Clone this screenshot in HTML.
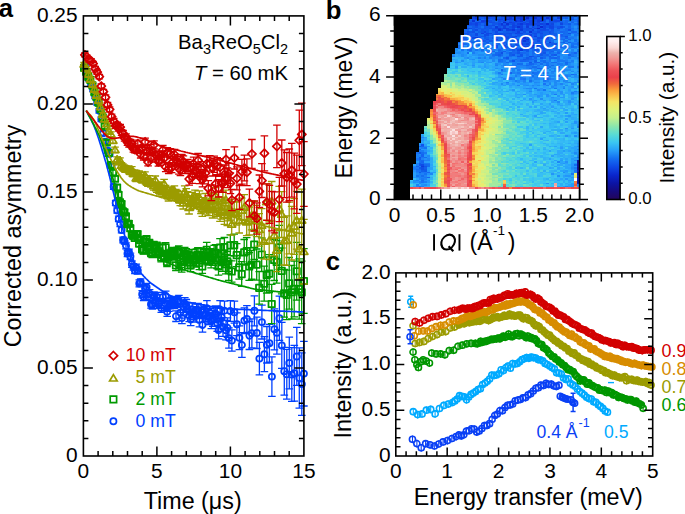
<!DOCTYPE html>
<html><head><meta charset="utf-8"><title>figure</title>
<style>html,body{margin:0;padding:0;background:#fff;width:685px;height:514px;overflow:hidden}
svg text{font-family:"Liberation Sans",sans-serif}</style></head>
<body>
<svg width="685" height="514" viewBox="0 0 685 514" style="display:block;font-family:'Liberation Sans', sans-serif">
<rect width="685" height="514" fill="#fff"/>
<rect x="394.5" y="15.7" width="16" height="183.8" fill="#000"/>
<g transform="translate(410.1,15.7) scale(2.82500,1.53167)" shape-rendering="crispEdges">
<path fill="#000000" d="M0 0h22v1h-22zM0 1h22v1h-22zM0 2h21v1h-21zM0 3h21v1h-21zM0 4h21v1h-21zM0 5h21v1h-21zM0 6h20v1h-20zM0 7h20v1h-20zM0 8h20v1h-20zM0 9h19v1h-19zM0 10h19v1h-19zM0 11h19v1h-19zM0 12h19v1h-19zM0 13h18v1h-18zM0 14h18v1h-18zM0 15h18v1h-18zM0 16h18v1h-18zM0 17h17v1h-17zM0 18h17v1h-17zM0 19h17v1h-17zM0 20h17v1h-17zM0 21h16v1h-16zM0 22h16v1h-16zM0 23h16v1h-16zM0 24h16v1h-16zM0 25h15v1h-15zM0 26h15v1h-15zM0 27h15v1h-15zM0 28h15v1h-15zM0 29h15v1h-15zM0 30h14v1h-14zM0 31h14v1h-14zM0 32h14v1h-14zM0 33h14v1h-14zM0 34h13v1h-13zM0 35h13v1h-13zM0 36h13v1h-13zM0 37h13v1h-13zM0 38h12v1h-12zM0 39h12v1h-12zM0 40h12v1h-12zM0 41h12v1h-12zM0 42h12v1h-12zM0 43h11v1h-11zM0 44h11v1h-11zM0 45h11v1h-11zM0 46h11v1h-11zM0 47h10v1h-10zM0 48h10v1h-10zM0 49h10v1h-10zM0 50h10v1h-10zM0 51h9v1h-9zM0 52h9v1h-9zM0 53h9v1h-9zM0 54h9v1h-9zM0 55h9v1h-9zM0 56h8v1h-8zM0 57h8v1h-8zM0 58h8v1h-8zM0 59h8v1h-8zM0 60h8v1h-8zM0 61h7v1h-7zM0 62h7v1h-7zM0 63h7v1h-7zM0 64h7v1h-7zM0 65h7v1h-7zM0 66h7v1h-7zM0 67h6v1h-6zM0 68h6v1h-6zM0 69h6v1h-6zM0 70h6v1h-6zM0 71h6v1h-6zM0 72h5v1h-5zM0 73h5v1h-5zM0 74h5v1h-5zM0 75h5v1h-5zM0 76h5v1h-5zM0 77h4v1h-4zM0 78h4v1h-4zM0 79h4v1h-4zM0 80h4v1h-4zM0 81h4v1h-4zM0 82h4v1h-4zM0 83h3v1h-3zM0 84h3v1h-3zM0 85h3v1h-3zM0 86h3v1h-3zM0 87h3v1h-3zM0 88h3v1h-3zM0 89h2v1h-2zM0 90h2v1h-2zM0 91h2v1h-2zM0 92h2v1h-2zM0 93h2v1h-2zM0 94h2v1h-2zM0 95h2v1h-2zM0 96h2v1h-2zM0 97h1v1h-1zM0 98h1v1h-1zM0 99h1v1h-1zM0 100h1v1h-1zM0 101h1v1h-1zM0 102h1v1h-1zM0 103h1v1h-1zM0 104h1v1h-1zM0 105h1v1h-1zM0 106h1v1h-1z"/>
<path fill="#146ef0" d="M22 0h1v1h-1zM58 2h2v1h-2zM30 3h1v1h-1zM48 3h1v1h-1zM54 3h1v1h-1zM56 3h2v1h-2zM48 4h1v1h-1zM59 4h1v1h-1zM52 5h1v1h-1zM58 5h1v1h-1zM59 8h1v1h-1zM51 9h1v1h-1zM23 10h1v1h-1zM28 10h1v1h-1zM51 10h1v1h-1zM55 10h1v1h-1zM55 11h1v1h-1zM59 11h1v1h-1zM19 12h1v1h-1zM25 12h1v1h-1zM54 12h2v1h-2zM19 13h1v1h-1zM51 13h1v1h-1zM49 14h1v1h-1zM51 14h1v1h-1zM29 15h1v1h-1zM31 15h1v1h-1zM53 15h1v1h-1zM21 16h2v1h-2zM43 16h1v1h-1zM50 16h1v1h-1zM54 16h1v1h-1zM18 17h1v1h-1zM20 17h1v1h-1zM26 17h1v1h-1zM31 17h1v1h-1zM53 17h1v1h-1zM21 18h1v1h-1zM30 18h1v1h-1zM36 18h1v1h-1zM59 18h1v1h-1zM57 19h1v1h-1zM17 20h1v1h-1zM21 21h1v1h-1zM34 21h1v1h-1zM20 22h1v1h-1zM25 22h1v1h-1zM46 22h1v1h-1zM50 22h2v1h-2zM28 23h1v1h-1zM31 23h2v1h-2zM37 23h1v1h-1zM44 23h2v1h-2zM52 23h3v1h-3zM41 24h1v1h-1zM45 24h1v1h-1zM29 25h1v1h-1zM38 25h1v1h-1zM43 25h1v1h-1zM45 25h1v1h-1zM31 26h1v1h-1zM35 26h1v1h-1zM47 26h1v1h-1zM40 27h1v1h-1zM52 27h1v1h-1zM31 28h2v1h-2zM34 28h1v1h-1zM31 29h1v1h-1zM35 29h1v1h-1zM47 29h1v1h-1zM34 30h1v1h-1zM50 30h2v1h-2zM39 31h1v1h-1zM46 31h1v1h-1zM55 31h1v1h-1zM50 32h1v1h-1zM43 33h2v1h-2zM42 34h1v1h-1zM39 36h1v1h-1zM43 39h1v1h-1zM47 39h1v1h-1zM42 42h1v1h-1zM2 89h1v1h-1zM4 89h1v1h-1zM5 92h1v1h-1zM3 94h1v1h-1zM3 95h1v1h-1zM6 97h1v1h-1zM58 97h1v1h-1zM6 98h1v1h-1zM4 104h1v1h-1zM4 107h1v1h-1z"/>
<path fill="#0a2dd2" d="M23 0h1v1h-1zM44 1h1v1h-1zM48 1h1v1h-1zM40 2h1v1h-1zM33 4h1v1h-1zM46 7h1v1h-1z"/>
<path fill="#0f55eb" d="M24 0h1v1h-1zM43 0h1v1h-1zM53 0h1v1h-1zM24 1h1v1h-1zM31 1h1v1h-1zM33 1h1v1h-1zM53 1h1v1h-1zM29 2h1v1h-1zM42 2h1v1h-1zM48 2h1v1h-1zM50 2h2v1h-2zM32 3h1v1h-1zM36 3h1v1h-1zM22 4h1v1h-1zM31 4h1v1h-1zM53 4h1v1h-1zM24 5h1v1h-1zM26 5h1v1h-1zM29 5h2v1h-2zM33 5h1v1h-1zM37 5h1v1h-1zM20 6h3v1h-3zM26 7h3v1h-3zM31 7h1v1h-1zM48 7h1v1h-1zM52 7h1v1h-1zM35 8h1v1h-1zM38 8h1v1h-1zM40 8h1v1h-1zM22 9h1v1h-1zM25 9h1v1h-1zM30 9h1v1h-1zM40 9h1v1h-1zM42 9h1v1h-1zM45 9h1v1h-1zM50 9h1v1h-1zM20 10h2v1h-2zM25 10h1v1h-1zM36 10h2v1h-2zM43 10h1v1h-1zM46 10h1v1h-1zM20 11h1v1h-1zM33 11h1v1h-1zM31 12h2v1h-2zM35 12h1v1h-1zM38 12h1v1h-1zM46 12h1v1h-1zM35 13h1v1h-1zM41 13h2v1h-2zM49 13h1v1h-1zM55 13h1v1h-1zM24 14h1v1h-1zM29 14h1v1h-1zM45 15h1v1h-1zM47 15h1v1h-1zM25 16h1v1h-1zM36 16h1v1h-1zM32 18h1v1h-1zM42 18h1v1h-1zM38 19h1v1h-1zM30 20h1v1h-1zM33 20h2v1h-2zM42 20h1v1h-1zM46 20h1v1h-1zM27 21h1v1h-1zM39 21h1v1h-1zM41 21h2v1h-2zM46 21h3v1h-3zM41 22h1v1h-1zM44 22h2v1h-2zM27 24h1v1h-1zM38 24h1v1h-1zM47 24h1v1h-1zM36 25h1v1h-1zM39 25h1v1h-1zM38 26h1v1h-1zM43 26h1v1h-1zM34 27h1v1h-1zM36 29h1v1h-1zM4 84h1v1h-1zM3 97h1v1h-1zM5 98h1v1h-1z"/>
<path fill="#0f46e6" d="M25 0h1v1h-1zM38 0h1v1h-1zM49 0h1v1h-1zM58 0h1v1h-1zM37 1h1v1h-1zM45 1h1v1h-1zM30 2h1v1h-1zM44 2h1v1h-1zM47 2h1v1h-1zM51 3h2v1h-2zM23 4h1v1h-1zM25 4h1v1h-1zM36 4h1v1h-1zM40 4h1v1h-1zM21 5h1v1h-1zM43 5h3v1h-3zM34 6h1v1h-1zM37 6h1v1h-1zM49 6h1v1h-1zM43 7h1v1h-1zM47 7h1v1h-1zM21 8h1v1h-1zM32 8h1v1h-1zM36 8h1v1h-1zM47 8h1v1h-1zM50 8h1v1h-1zM26 10h1v1h-1zM27 11h1v1h-1zM38 11h2v1h-2zM30 12h1v1h-1zM32 13h1v1h-1zM22 14h1v1h-1zM39 14h1v1h-1zM30 15h1v1h-1zM37 15h1v1h-1zM42 17h1v1h-1zM45 19h1v1h-1zM35 20h1v1h-1zM40 20h2v1h-2z"/>
<path fill="#0f4be6" d="M26 0h2v1h-2zM29 0h1v1h-1zM32 0h1v1h-1zM40 0h1v1h-1zM44 0h1v1h-1zM50 0h1v1h-1zM52 0h1v1h-1zM26 1h1v1h-1zM32 1h1v1h-1zM36 1h1v1h-1zM42 1h2v1h-2zM23 2h1v1h-1zM38 2h1v1h-1zM46 2h1v1h-1zM31 3h1v1h-1zM33 3h1v1h-1zM41 3h1v1h-1zM44 3h1v1h-1zM49 3h2v1h-2zM21 4h1v1h-1zM24 4h1v1h-1zM26 4h1v1h-1zM28 4h1v1h-1zM22 5h1v1h-1zM31 5h1v1h-1zM40 5h1v1h-1zM47 5h1v1h-1zM27 6h1v1h-1zM29 6h1v1h-1zM38 6h1v1h-1zM43 6h1v1h-1zM47 6h1v1h-1zM50 6h1v1h-1zM37 7h1v1h-1zM45 7h1v1h-1zM53 7h1v1h-1zM20 8h1v1h-1zM49 8h1v1h-1zM23 9h1v1h-1zM38 9h1v1h-1zM46 9h2v1h-2zM30 10h1v1h-1zM45 10h1v1h-1zM23 11h1v1h-1zM28 11h1v1h-1zM31 11h2v1h-2zM35 11h1v1h-1zM44 11h1v1h-1zM46 11h1v1h-1zM20 12h1v1h-1zM23 12h1v1h-1zM26 12h2v1h-2zM40 13h1v1h-1zM34 14h1v1h-1zM36 14h1v1h-1zM41 14h1v1h-1zM45 14h2v1h-2zM48 14h1v1h-1zM43 15h1v1h-1zM37 16h1v1h-1zM41 16h1v1h-1zM45 16h1v1h-1zM34 18h1v1h-1zM37 18h1v1h-1zM33 19h1v1h-1zM37 20h1v1h-1zM37 21h1v1h-1zM38 22h1v1h-1zM42 26h1v1h-1zM4 97h1v1h-1z"/>
<path fill="#0a37d7" d="M28 0h1v1h-1zM35 1h1v1h-1zM39 1h1v1h-1zM32 5h1v1h-1zM23 14h1v1h-1z"/>
<path fill="#0f46e1" d="M30 0h1v1h-1zM40 1h1v1h-1zM37 2h1v1h-1zM27 3h1v1h-1zM43 4h1v1h-1zM36 5h1v1h-1zM50 5h1v1h-1zM53 5h1v1h-1zM23 6h1v1h-1zM26 6h1v1h-1zM39 6h1v1h-1zM49 7h2v1h-2zM32 9h1v1h-1zM47 17h1v1h-1zM41 18h1v1h-1z"/>
<path fill="#1982f5" d="M31 0h1v1h-1zM56 1h1v1h-1zM56 2h1v1h-1zM58 6h1v1h-1zM57 7h1v1h-1zM21 9h1v1h-1zM59 9h1v1h-1zM56 10h1v1h-1zM59 10h1v1h-1zM59 12h1v1h-1zM57 13h1v1h-1zM20 16h1v1h-1zM19 17h1v1h-1zM23 18h1v1h-1zM50 20h1v1h-1zM49 21h1v1h-1zM53 24h2v1h-2zM52 25h1v1h-1zM58 25h1v1h-1zM40 26h1v1h-1zM56 26h1v1h-1zM45 28h1v1h-1zM31 30h1v1h-1zM33 30h1v1h-1zM30 32h1v1h-1zM43 32h1v1h-1zM33 33h1v1h-1zM38 33h1v1h-1zM41 34h1v1h-1zM36 35h1v1h-1zM39 35h1v1h-1zM44 35h1v1h-1zM36 37h1v1h-1zM49 39h1v1h-1zM42 40h1v1h-1zM44 40h1v1h-1zM36 41h1v1h-1zM44 41h1v1h-1zM48 42h1v1h-1zM3 91h1v1h-1zM2 92h1v1h-1zM2 102h1v1h-1zM3 104h1v1h-1zM3 105h2v1h-2zM2 107h1v1h-1zM4 111h1v1h-1z"/>
<path fill="#0f41e1" d="M33 0h2v1h-2zM42 0h1v1h-1zM46 0h1v1h-1zM22 1h1v1h-1zM27 1h1v1h-1zM34 1h1v1h-1zM49 1h1v1h-1zM31 2h2v1h-2zM41 2h1v1h-1zM45 2h1v1h-1zM49 2h1v1h-1zM26 3h1v1h-1zM38 3h1v1h-1zM42 3h2v1h-2zM42 4h1v1h-1zM45 4h1v1h-1zM23 5h1v1h-1zM38 5h1v1h-1zM42 5h1v1h-1zM46 5h1v1h-1zM32 6h2v1h-2zM36 6h1v1h-1zM41 6h1v1h-1zM33 7h1v1h-1zM36 7h1v1h-1zM39 7h1v1h-1zM30 8h1v1h-1zM39 8h1v1h-1zM42 8h1v1h-1zM44 8h1v1h-1zM34 9h2v1h-2zM43 9h1v1h-1zM38 10h1v1h-1zM25 11h1v1h-1zM37 11h1v1h-1zM42 12h1v1h-1zM37 13h1v1h-1zM38 16h1v1h-1zM32 17h1v1h-1zM43 17h1v1h-1zM39 18h1v1h-1zM42 19h1v1h-1zM43 20h1v1h-1z"/>
<path fill="#0a3cdc" d="M35 0h1v1h-1zM37 0h1v1h-1zM52 1h1v1h-1zM45 6h1v1h-1zM30 7h1v1h-1zM39 9h1v1h-1z"/>
<path fill="#0a32d7" d="M36 0h1v1h-1zM34 2h1v1h-1zM39 2h1v1h-1zM22 3h1v1h-1zM37 3h1v1h-1zM48 5h1v1h-1zM38 7h1v1h-1zM31 9h1v1h-1zM42 10h1v1h-1zM40 14h1v1h-1zM41 15h1v1h-1zM43 19h1v1h-1z"/>
<path fill="#0f3cdc" d="M39 0h1v1h-1zM45 0h1v1h-1zM35 2h1v1h-1zM45 3h2v1h-2zM41 7h1v1h-1zM31 8h1v1h-1zM33 8h1v1h-1zM38 17h1v1h-1zM4 98h1v1h-1z"/>
<path fill="#0f3ce1" d="M41 0h1v1h-1zM38 1h1v1h-1zM36 2h1v1h-1zM25 3h1v1h-1zM35 4h1v1h-1zM41 5h1v1h-1zM34 8h1v1h-1zM44 13h1v1h-1z"/>
<path fill="#0f50e6" d="M47 0h1v1h-1zM29 1h1v1h-1zM22 2h1v1h-1zM43 2h1v1h-1zM57 2h1v1h-1zM35 3h1v1h-1zM29 4h1v1h-1zM37 4h1v1h-1zM50 4h1v1h-1zM35 5h1v1h-1zM49 5h1v1h-1zM35 7h1v1h-1zM28 8h1v1h-1zM41 8h1v1h-1zM52 8h1v1h-1zM29 9h1v1h-1zM41 9h1v1h-1zM22 10h1v1h-1zM40 10h1v1h-1zM19 11h1v1h-1zM34 11h1v1h-1zM43 11h1v1h-1zM49 11h1v1h-1zM56 11h1v1h-1zM33 13h2v1h-2zM36 13h1v1h-1zM46 13h1v1h-1zM39 16h1v1h-1zM47 16h1v1h-1zM51 18h1v1h-1zM50 21h1v1h-1zM32 24h1v1h-1zM4 99h1v1h-1zM4 100h1v1h-1z"/>
<path fill="#1464f0" d="M48 0h1v1h-1zM30 1h1v1h-1zM51 1h1v1h-1zM54 1h1v1h-1zM59 1h1v1h-1zM21 2h1v1h-1zM23 3h1v1h-1zM53 3h1v1h-1zM55 3h1v1h-1zM32 4h1v1h-1zM52 4h1v1h-1zM55 4h1v1h-1zM57 4h1v1h-1zM25 5h1v1h-1zM54 5h2v1h-2zM40 6h1v1h-1zM46 6h1v1h-1zM51 6h1v1h-1zM20 7h1v1h-1zM29 7h1v1h-1zM42 7h1v1h-1zM56 7h1v1h-1zM23 8h1v1h-1zM53 8h1v1h-1zM19 9h2v1h-2zM24 9h1v1h-1zM33 9h1v1h-1zM44 9h1v1h-1zM49 9h1v1h-1zM19 10h1v1h-1zM53 10h1v1h-1zM57 10h2v1h-2zM22 11h1v1h-1zM26 11h1v1h-1zM29 11h1v1h-1zM28 12h1v1h-1zM18 13h1v1h-1zM27 13h1v1h-1zM29 13h1v1h-1zM53 13h2v1h-2zM19 14h1v1h-1zM31 14h1v1h-1zM37 14h1v1h-1zM43 14h2v1h-2zM21 15h1v1h-1zM26 15h1v1h-1zM36 15h1v1h-1zM46 15h1v1h-1zM54 15h1v1h-1zM56 15h1v1h-1zM23 16h1v1h-1zM27 16h1v1h-1zM34 16h1v1h-1zM44 16h1v1h-1zM30 17h1v1h-1zM31 18h1v1h-1zM21 19h1v1h-1zM36 19h1v1h-1zM46 19h1v1h-1zM48 19h1v1h-1zM32 20h1v1h-1zM39 20h1v1h-1zM53 20h1v1h-1zM55 20h1v1h-1zM26 21h1v1h-1zM35 21h1v1h-1zM38 21h1v1h-1zM45 21h1v1h-1zM31 22h1v1h-1zM35 22h1v1h-1zM43 22h1v1h-1zM29 23h1v1h-1zM36 23h1v1h-1zM31 24h1v1h-1zM36 24h2v1h-2zM39 24h1v1h-1zM52 24h1v1h-1zM58 24h1v1h-1zM30 25h1v1h-1zM48 25h1v1h-1zM56 25h1v1h-1zM33 27h1v1h-1zM42 27h1v1h-1zM44 27h1v1h-1zM50 27h1v1h-1zM42 28h1v1h-1zM39 29h2v1h-2zM44 30h1v1h-1zM42 31h1v1h-1zM46 34h1v1h-1zM35 37h1v1h-1zM39 38h1v1h-1zM52 39h1v1h-1zM4 90h1v1h-1zM4 91h1v1h-1zM4 95h1v1h-1zM6 105h1v1h-1z"/>
<path fill="#145ff0" d="M51 0h1v1h-1zM28 2h1v1h-1zM52 2h1v1h-1zM24 3h1v1h-1zM59 3h1v1h-1zM24 7h1v1h-1zM40 7h1v1h-1zM51 7h1v1h-1zM29 10h1v1h-1zM39 10h1v1h-1zM42 11h1v1h-1zM48 11h1v1h-1zM22 12h1v1h-1zM37 12h1v1h-1zM40 12h1v1h-1zM50 12h1v1h-1zM53 12h1v1h-1zM22 13h1v1h-1zM24 13h1v1h-1zM55 14h1v1h-1zM19 15h1v1h-1zM19 16h1v1h-1zM30 16h1v1h-1zM42 16h1v1h-1zM46 16h1v1h-1zM44 17h1v1h-1zM56 17h1v1h-1zM46 18h1v1h-1zM34 19h1v1h-1zM52 19h1v1h-1zM32 21h1v1h-1zM33 23h1v1h-1zM47 23h1v1h-1zM50 23h1v1h-1zM44 24h1v1h-1zM50 25h1v1h-1zM51 27h1v1h-1zM45 34h1v1h-1zM4 85h1v1h-1zM2 98h1v1h-1z"/>
<path fill="#1469f0" d="M54 0h3v1h-3zM25 2h1v1h-1zM46 4h1v1h-1zM54 4h1v1h-1zM28 5h1v1h-1zM51 5h1v1h-1zM30 6h1v1h-1zM35 6h1v1h-1zM52 6h2v1h-2zM56 6h1v1h-1zM21 7h1v1h-1zM48 8h1v1h-1zM55 8h2v1h-2zM28 9h1v1h-1zM52 9h1v1h-1zM55 9h1v1h-1zM31 10h2v1h-2zM41 10h1v1h-1zM54 10h1v1h-1zM24 11h1v1h-1zM54 11h1v1h-1zM24 12h1v1h-1zM36 12h1v1h-1zM45 12h1v1h-1zM52 12h1v1h-1zM23 13h1v1h-1zM39 13h1v1h-1zM45 13h1v1h-1zM47 13h1v1h-1zM28 14h1v1h-1zM47 14h1v1h-1zM18 15h1v1h-1zM25 15h1v1h-1zM28 15h1v1h-1zM49 15h1v1h-1zM35 16h1v1h-1zM48 16h1v1h-1zM55 16h1v1h-1zM21 17h1v1h-1zM29 17h1v1h-1zM36 17h1v1h-1zM52 17h1v1h-1zM19 18h1v1h-1zM24 18h4v1h-4zM29 18h1v1h-1zM33 18h1v1h-1zM47 18h1v1h-1zM52 18h1v1h-1zM55 18h1v1h-1zM17 19h1v1h-1zM22 19h1v1h-1zM47 19h1v1h-1zM50 19h1v1h-1zM18 20h1v1h-1zM20 20h1v1h-1zM22 20h1v1h-1zM48 20h1v1h-1zM51 20h1v1h-1zM57 20h1v1h-1zM17 21h1v1h-1zM36 21h1v1h-1zM40 21h1v1h-1zM21 22h1v1h-1zM28 22h1v1h-1zM37 22h1v1h-1zM49 22h1v1h-1zM43 23h1v1h-1zM49 23h1v1h-1zM20 24h1v1h-1zM30 24h1v1h-1zM40 24h1v1h-1zM43 24h1v1h-1zM49 24h1v1h-1zM32 25h1v1h-1zM41 25h1v1h-1zM47 25h1v1h-1zM44 26h1v1h-1zM52 26h1v1h-1zM47 27h1v1h-1zM49 27h1v1h-1zM37 28h1v1h-1zM39 28h1v1h-1zM43 28h1v1h-1zM41 29h1v1h-1zM47 30h1v1h-1zM55 30h1v1h-1zM38 31h1v1h-1zM43 31h1v1h-1zM41 32h1v1h-1zM48 32h1v1h-1zM52 33h1v1h-1zM32 35h1v1h-1zM43 37h1v1h-1zM47 37h1v1h-1zM57 38h1v1h-1zM45 39h1v1h-1zM48 41h1v1h-1zM4 94h1v1h-1zM4 96h1v1h-1zM5 97h1v1h-1zM2 100h2v1h-2zM6 102h1v1h-1z"/>
<path fill="#1978f5" d="M57 0h1v1h-1zM58 1h1v1h-1zM57 5h1v1h-1zM54 6h1v1h-1zM59 6h1v1h-1zM55 7h1v1h-1zM53 9h1v1h-1zM57 9h1v1h-1zM57 11h2v1h-2zM38 14h1v1h-1zM54 14h1v1h-1zM56 14h2v1h-2zM24 15h1v1h-1zM35 15h1v1h-1zM50 15h1v1h-1zM52 16h1v1h-1zM25 17h1v1h-1zM54 18h1v1h-1zM27 19h1v1h-1zM55 19h1v1h-1zM59 19h1v1h-1zM54 20h1v1h-1zM18 21h1v1h-1zM23 21h1v1h-1zM28 21h1v1h-1zM52 21h1v1h-1zM21 23h1v1h-1zM42 23h1v1h-1zM55 24h1v1h-1zM37 25h1v1h-1zM40 25h1v1h-1zM44 25h1v1h-1zM57 25h1v1h-1zM15 26h1v1h-1zM29 26h1v1h-1zM37 26h1v1h-1zM48 26h1v1h-1zM39 27h1v1h-1zM43 27h1v1h-1zM56 27h1v1h-1zM49 29h1v1h-1zM52 29h3v1h-3zM41 31h1v1h-1zM44 31h1v1h-1zM52 31h1v1h-1zM40 32h1v1h-1zM45 32h1v1h-1zM56 33h2v1h-2zM59 33h1v1h-1zM47 34h1v1h-1zM54 34h1v1h-1zM38 35h1v1h-1zM45 36h1v1h-1zM53 36h1v1h-1zM38 37h1v1h-1zM58 38h1v1h-1zM40 39h1v1h-1zM48 39h1v1h-1zM35 40h1v1h-1zM39 40h1v1h-1zM35 41h1v1h-1zM39 41h1v1h-1zM47 41h1v1h-1zM49 41h1v1h-1zM51 51h1v1h-1zM5 89h1v1h-1zM4 92h1v1h-1zM5 96h2v1h-2zM1 99h2v1h-2zM58 99h1v1h-1zM58 101h1v1h-1zM4 102h2v1h-2zM57 103h1v1h-1zM5 105h1v1h-1zM4 106h1v1h-1zM3 111h1v1h-1z"/>
<path fill="#1e87f5" d="M59 0h1v1h-1zM56 4h1v1h-1zM58 4h1v1h-1zM58 8h1v1h-1zM58 9h1v1h-1zM56 13h1v1h-1zM59 16h1v1h-1zM28 17h1v1h-1zM17 18h1v1h-1zM19 20h1v1h-1zM56 20h1v1h-1zM59 20h1v1h-1zM25 21h1v1h-1zM29 21h1v1h-1zM53 21h1v1h-1zM55 21h2v1h-2zM58 21h1v1h-1zM24 22h1v1h-1zM22 23h1v1h-1zM35 23h1v1h-1zM55 23h1v1h-1zM57 23h1v1h-1zM56 24h1v1h-1zM27 25h1v1h-1zM33 25h1v1h-1zM28 26h1v1h-1zM33 26h1v1h-1zM20 27h1v1h-1zM29 27h1v1h-1zM37 27h1v1h-1zM48 27h1v1h-1zM54 27h2v1h-2zM55 28h1v1h-1zM29 29h1v1h-1zM25 30h1v1h-1zM35 30h1v1h-1zM38 30h2v1h-2zM43 30h1v1h-1zM52 30h1v1h-1zM57 30h1v1h-1zM30 31h1v1h-1zM33 31h1v1h-1zM45 31h1v1h-1zM47 31h1v1h-1zM50 31h1v1h-1zM49 32h1v1h-1zM51 32h1v1h-1zM34 33h1v1h-1zM36 33h2v1h-2zM39 33h2v1h-2zM38 34h1v1h-1zM43 34h1v1h-1zM40 35h1v1h-1zM49 35h1v1h-1zM53 35h1v1h-1zM55 35h1v1h-1zM32 36h1v1h-1zM57 36h1v1h-1zM59 36h1v1h-1zM37 37h1v1h-1zM40 37h1v1h-1zM42 37h1v1h-1zM50 37h1v1h-1zM38 38h1v1h-1zM41 38h1v1h-1zM44 39h1v1h-1zM50 39h2v1h-2zM56 39h1v1h-1zM36 40h1v1h-1zM40 40h1v1h-1zM53 40h1v1h-1zM55 40h1v1h-1zM45 41h1v1h-1zM55 41h1v1h-1zM52 42h1v1h-1zM44 43h1v1h-1zM51 43h1v1h-1zM57 44h1v1h-1zM43 45h1v1h-1zM45 45h1v1h-1zM51 45h1v1h-1zM41 47h2v1h-2zM45 48h1v1h-1zM42 49h1v1h-1zM4 79h1v1h-1zM6 93h1v1h-1zM58 94h1v1h-1zM52 95h1v1h-1zM58 100h1v1h-1zM7 103h1v1h-1zM3 106h1v1h-1zM3 109h1v1h-1zM2 111h1v1h-1z"/>
<path fill="#0a37dc" d="M23 1h1v1h-1zM46 1h1v1h-1zM24 2h1v1h-1zM39 3h1v1h-1zM39 5h1v1h-1zM36 9h1v1h-1zM40 16h1v1h-1zM49 17h1v1h-1zM39 22h1v1h-1z"/>
<path fill="#0f5aeb" d="M25 1h1v1h-1zM50 1h1v1h-1zM55 1h1v1h-1zM57 1h1v1h-1zM26 2h2v1h-2zM33 2h1v1h-1zM21 3h1v1h-1zM29 3h1v1h-1zM40 3h1v1h-1zM30 4h1v1h-1zM41 4h1v1h-1zM47 4h1v1h-1zM51 4h1v1h-1zM27 5h1v1h-1zM56 5h1v1h-1zM22 7h1v1h-1zM44 7h1v1h-1zM54 7h1v1h-1zM22 8h1v1h-1zM24 8h1v1h-1zM27 8h1v1h-1zM43 8h1v1h-1zM46 8h1v1h-1zM27 9h1v1h-1zM27 10h1v1h-1zM34 10h1v1h-1zM44 10h1v1h-1zM50 10h1v1h-1zM36 11h1v1h-1zM41 11h1v1h-1zM50 11h1v1h-1zM29 12h1v1h-1zM34 12h1v1h-1zM41 12h1v1h-1zM21 13h1v1h-1zM25 13h1v1h-1zM48 13h1v1h-1zM52 13h1v1h-1zM18 14h1v1h-1zM26 14h1v1h-1zM33 14h1v1h-1zM35 14h1v1h-1zM42 14h1v1h-1zM23 15h1v1h-1zM33 15h2v1h-2zM44 15h1v1h-1zM18 16h1v1h-1zM26 16h1v1h-1zM28 16h2v1h-2zM32 16h1v1h-1zM22 17h1v1h-1zM27 17h1v1h-1zM33 17h2v1h-2zM40 17h2v1h-2zM46 17h1v1h-1zM35 18h1v1h-1zM38 18h1v1h-1zM50 18h1v1h-1zM24 19h1v1h-1zM29 19h1v1h-1zM41 19h1v1h-1zM36 20h1v1h-1zM47 20h1v1h-1zM43 21h1v1h-1zM36 22h1v1h-1zM40 22h1v1h-1zM47 22h1v1h-1zM38 23h1v1h-1zM41 23h1v1h-1zM46 25h1v1h-1zM51 25h1v1h-1zM39 26h1v1h-1zM41 27h1v1h-1zM46 27h1v1h-1zM40 28h1v1h-1zM42 30h1v1h-1zM3 85h1v1h-1zM3 89h1v1h-1zM3 92h1v1h-1zM3 96h1v1h-1zM3 99h1v1h-1zM5 100h1v1h-1zM5 101h1v1h-1zM3 102h1v1h-1z"/>
<path fill="#0f50eb" d="M28 1h1v1h-1zM47 1h1v1h-1zM28 3h1v1h-1zM47 3h1v1h-1zM34 4h1v1h-1zM38 4h2v1h-2zM44 4h1v1h-1zM49 4h1v1h-1zM28 6h1v1h-1zM31 6h1v1h-1zM42 6h1v1h-1zM44 6h1v1h-1zM48 6h1v1h-1zM23 7h1v1h-1zM26 8h1v1h-1zM29 8h1v1h-1zM37 9h1v1h-1zM48 9h1v1h-1zM56 9h1v1h-1zM49 10h1v1h-1zM30 11h1v1h-1zM33 12h1v1h-1zM44 12h1v1h-1zM20 13h1v1h-1zM26 13h1v1h-1zM27 15h1v1h-1zM38 15h3v1h-3zM48 15h1v1h-1zM39 17h1v1h-1zM40 18h1v1h-1zM43 18h1v1h-1zM30 19h1v1h-1zM44 19h1v1h-1zM33 21h1v1h-1z"/>
<path fill="#0a23c8" d="M41 1h1v1h-1z"/>
<path fill="#145feb" d="M53 2h1v1h-1zM34 3h1v1h-1zM25 6h1v1h-1zM32 7h1v1h-1zM34 7h1v1h-1zM25 8h1v1h-1zM21 11h1v1h-1zM47 11h1v1h-1zM31 13h1v1h-1zM38 13h1v1h-1zM30 14h1v1h-1zM20 15h1v1h-1zM42 15h1v1h-1zM51 15h1v1h-1zM49 16h1v1h-1zM45 17h1v1h-1zM50 17h1v1h-1zM18 18h1v1h-1zM48 18h2v1h-2zM49 19h1v1h-1zM45 20h1v1h-1zM51 21h1v1h-1zM48 22h1v1h-1zM55 22h1v1h-1zM46 24h1v1h-1zM49 26h1v1h-1zM41 28h1v1h-1zM45 30h1v1h-1zM3 93h1v1h-1zM5 99h1v1h-1z"/>
<path fill="#1e8cf5" d="M54 2h1v1h-1zM55 15h1v1h-1zM57 15h1v1h-1zM59 15h1v1h-1zM56 16h1v1h-1zM51 17h1v1h-1zM55 17h1v1h-1zM53 18h1v1h-1zM23 20h1v1h-1zM16 21h1v1h-1zM16 22h1v1h-1zM22 22h1v1h-1zM33 22h1v1h-1zM53 22h1v1h-1zM16 24h2v1h-2zM26 24h1v1h-1zM29 24h1v1h-1zM59 24h1v1h-1zM15 25h1v1h-1zM18 25h1v1h-1zM24 25h2v1h-2zM28 25h1v1h-1zM53 25h1v1h-1zM18 26h1v1h-1zM26 26h1v1h-1zM54 26h2v1h-2zM30 27h1v1h-1zM36 27h1v1h-1zM22 28h1v1h-1zM29 28h1v1h-1zM48 28h1v1h-1zM18 29h1v1h-1zM49 30h1v1h-1zM54 30h1v1h-1zM34 31h1v1h-1zM51 31h1v1h-1zM54 31h1v1h-1zM56 31h1v1h-1zM32 32h1v1h-1zM56 32h1v1h-1zM46 33h2v1h-2zM50 33h2v1h-2zM30 34h1v1h-1zM40 34h1v1h-1zM33 35h1v1h-1zM54 35h1v1h-1zM56 35h1v1h-1zM33 36h1v1h-1zM38 36h1v1h-1zM43 36h1v1h-1zM39 37h1v1h-1zM37 38h1v1h-1zM53 38h1v1h-1zM55 38h2v1h-2zM41 39h1v1h-1zM54 39h1v1h-1zM58 39h1v1h-1zM32 40h1v1h-1zM46 40h1v1h-1zM49 40h1v1h-1zM51 41h1v1h-1zM38 42h1v1h-1zM43 42h1v1h-1zM51 42h1v1h-1zM55 42h1v1h-1zM38 43h1v1h-1zM40 43h1v1h-1zM42 43h1v1h-1zM45 43h1v1h-1zM49 43h1v1h-1zM55 43h1v1h-1zM58 43h2v1h-2zM32 44h1v1h-1zM51 44h1v1h-1zM41 45h1v1h-1zM55 45h1v1h-1zM50 46h1v1h-1zM54 46h1v1h-1zM46 54h1v1h-1zM52 56h1v1h-1zM58 78h1v1h-1zM3 84h1v1h-1zM5 85h1v1h-1zM3 86h1v1h-1zM59 87h1v1h-1zM58 89h1v1h-1zM3 90h1v1h-1zM6 91h1v1h-1zM59 91h1v1h-1zM57 99h1v1h-1zM54 102h1v1h-1zM58 102h1v1h-1zM2 103h1v1h-1zM2 105h1v1h-1zM1 107h1v1h-1zM5 110h1v1h-1zM59 110h1v1h-1zM55 111h1v1h-1z"/>
<path fill="#197df5" d="M55 2h1v1h-1zM57 6h1v1h-1zM59 7h1v1h-1zM54 8h1v1h-1zM52 11h1v1h-1zM58 13h1v1h-1zM52 15h1v1h-1zM24 17h1v1h-1zM48 17h1v1h-1zM57 17h1v1h-1zM22 18h1v1h-1zM28 18h1v1h-1zM26 19h1v1h-1zM28 19h1v1h-1zM31 19h1v1h-1zM51 19h1v1h-1zM53 19h2v1h-2zM21 20h1v1h-1zM25 20h1v1h-1zM27 20h1v1h-1zM49 20h1v1h-1zM52 20h1v1h-1zM22 21h1v1h-1zM31 21h1v1h-1zM27 22h1v1h-1zM29 22h1v1h-1zM42 22h1v1h-1zM59 22h1v1h-1zM25 23h3v1h-3zM34 23h1v1h-1zM22 24h1v1h-1zM42 24h1v1h-1zM48 24h1v1h-1zM51 24h1v1h-1zM42 25h1v1h-1zM49 25h1v1h-1zM32 26h1v1h-1zM36 26h1v1h-1zM50 26h1v1h-1zM58 26h1v1h-1zM24 27h1v1h-1zM26 27h1v1h-1zM28 27h1v1h-1zM33 28h1v1h-1zM46 28h1v1h-1zM33 29h1v1h-1zM37 29h1v1h-1zM43 29h1v1h-1zM55 29h1v1h-1zM57 29h1v1h-1zM32 30h1v1h-1zM36 30h2v1h-2zM56 30h1v1h-1zM36 31h2v1h-2zM53 31h1v1h-1zM33 32h1v1h-1zM35 32h2v1h-2zM39 32h1v1h-1zM47 32h1v1h-1zM53 32h1v1h-1zM41 33h2v1h-2zM48 33h1v1h-1zM35 34h2v1h-2zM44 34h1v1h-1zM52 34h1v1h-1zM47 35h1v1h-1zM51 35h1v1h-1zM50 36h3v1h-3zM54 36h1v1h-1zM31 37h1v1h-1zM41 37h1v1h-1zM52 37h1v1h-1zM32 38h1v1h-1zM42 38h1v1h-1zM45 38h1v1h-1zM37 39h1v1h-1zM46 39h1v1h-1zM55 39h1v1h-1zM37 42h1v1h-1zM34 43h1v1h-1zM48 45h1v1h-1zM54 47h1v1h-1zM58 49h1v1h-1zM57 50h1v1h-1zM51 55h1v1h-1zM4 86h1v1h-1zM3 88h2v1h-2zM2 90h1v1h-1zM2 91h1v1h-1zM2 94h1v1h-1zM2 96h1v1h-1zM2 97h1v1h-1zM3 98h1v1h-1zM1 100h1v1h-1zM3 103h1v1h-1zM5 108h1v1h-1z"/>
<path fill="#1973f5" d="M58 3h1v1h-1zM52 10h1v1h-1zM21 14h1v1h-1zM53 14h1v1h-1zM58 18h1v1h-1zM18 19h1v1h-1zM25 19h1v1h-1zM57 24h1v1h-1zM38 28h1v1h-1zM38 29h1v1h-1zM42 29h1v1h-1zM46 35h1v1h-1zM47 42h1v1h-1zM47 44h1v1h-1zM51 47h1v1h-1zM2 101h1v1h-1z"/>
<path fill="#0f5feb" d="M27 4h1v1h-1zM59 5h1v1h-1zM24 6h1v1h-1zM26 9h1v1h-1zM24 10h1v1h-1zM33 10h1v1h-1zM35 10h1v1h-1zM47 10h2v1h-2zM40 11h1v1h-1zM45 11h1v1h-1zM51 11h1v1h-1zM21 12h1v1h-1zM39 12h1v1h-1zM43 12h1v1h-1zM47 12h2v1h-2zM51 12h1v1h-1zM30 13h1v1h-1zM43 13h1v1h-1zM50 13h1v1h-1zM27 14h1v1h-1zM32 14h1v1h-1zM50 14h1v1h-1zM31 16h1v1h-1zM17 17h1v1h-1zM35 17h1v1h-1zM37 17h1v1h-1zM54 17h1v1h-1zM44 18h1v1h-1zM35 19h1v1h-1zM37 19h1v1h-1zM39 19h2v1h-2zM44 20h1v1h-1zM46 23h1v1h-1zM35 24h1v1h-1zM31 25h1v1h-1zM35 25h1v1h-1zM45 26h1v1h-1zM44 29h1v1h-1zM3 87h1v1h-1zM4 101h1v1h-1z"/>
<path fill="#0a32d2" d="M34 5h1v1h-1z"/>
<path fill="#1473f5" d="M55 6h1v1h-1zM25 7h1v1h-1zM37 8h1v1h-1zM51 8h1v1h-1zM57 8h1v1h-1zM54 9h1v1h-1zM49 12h1v1h-1zM56 12h1v1h-1zM58 12h1v1h-1zM28 13h1v1h-1zM25 14h1v1h-1zM22 15h1v1h-1zM32 15h1v1h-1zM58 15h1v1h-1zM33 16h1v1h-1zM58 16h1v1h-1zM23 17h1v1h-1zM59 17h1v1h-1zM20 18h1v1h-1zM45 18h1v1h-1zM57 18h1v1h-1zM20 19h1v1h-1zM32 19h1v1h-1zM29 20h1v1h-1zM38 20h1v1h-1zM58 20h1v1h-1zM30 21h1v1h-1zM44 21h1v1h-1zM18 22h1v1h-1zM23 22h1v1h-1zM32 22h1v1h-1zM34 22h1v1h-1zM52 22h1v1h-1zM40 23h1v1h-1zM48 23h1v1h-1zM59 23h1v1h-1zM34 24h1v1h-1zM34 26h1v1h-1zM46 26h1v1h-1zM38 27h1v1h-1zM36 28h1v1h-1zM44 28h1v1h-1zM49 28h1v1h-1zM52 28h1v1h-1zM32 29h1v1h-1zM46 29h1v1h-1zM48 30h1v1h-1zM48 31h1v1h-1zM37 32h1v1h-1zM42 32h1v1h-1zM37 34h1v1h-1zM51 34h1v1h-1zM44 37h2v1h-2zM44 38h1v1h-1zM45 40h1v1h-1zM48 40h1v1h-1zM40 41h1v1h-1zM44 47h1v1h-1zM47 48h1v1h-1zM5 86h1v1h-1zM59 92h1v1h-1zM2 93h1v1h-1zM3 101h1v1h-1zM5 103h1v1h-1zM4 108h1v1h-1z"/>
<path fill="#2391fa" d="M58 7h1v1h-1zM53 11h1v1h-1zM51 16h1v1h-1zM56 19h1v1h-1zM58 19h1v1h-1zM57 21h1v1h-1zM17 23h1v1h-1zM24 23h1v1h-1zM18 24h1v1h-1zM23 24h1v1h-1zM55 25h1v1h-1zM59 25h1v1h-1zM53 26h1v1h-1zM45 27h1v1h-1zM47 28h1v1h-1zM54 28h1v1h-1zM57 28h1v1h-1zM34 29h1v1h-1zM56 29h1v1h-1zM16 30h1v1h-1zM24 30h1v1h-1zM28 30h1v1h-1zM41 30h1v1h-1zM31 31h1v1h-1zM22 32h1v1h-1zM44 32h1v1h-1zM57 32h1v1h-1zM32 33h1v1h-1zM54 33h1v1h-1zM42 35h1v1h-1zM44 36h1v1h-1zM38 39h1v1h-1zM47 40h1v1h-1zM51 40h1v1h-1zM57 40h2v1h-2zM46 41h1v1h-1zM52 41h2v1h-2zM39 42h1v1h-1zM49 42h1v1h-1zM48 43h1v1h-1zM34 44h1v1h-1zM40 45h1v1h-1zM57 46h1v1h-1zM46 47h1v1h-1zM49 47h1v1h-1zM58 47h1v1h-1zM49 49h1v1h-1zM53 49h1v1h-1zM53 50h1v1h-1zM58 50h1v1h-1zM48 51h1v1h-1zM57 51h1v1h-1zM45 52h1v1h-1zM48 52h1v1h-1zM50 53h1v1h-1zM42 54h1v1h-1zM56 56h1v1h-1zM58 69h1v1h-1zM55 73h1v1h-1zM55 78h1v1h-1zM4 81h1v1h-1zM59 85h1v1h-1zM5 88h1v1h-1zM5 90h1v1h-1zM59 90h1v1h-1zM6 92h1v1h-1zM5 93h1v1h-1zM55 95h1v1h-1zM57 98h1v1h-1zM57 100h1v1h-1zM1 101h1v1h-1zM6 103h1v1h-1zM1 105h1v1h-1zM57 105h1v1h-1zM5 107h2v1h-2zM2 108h1v1h-1z"/>
<path fill="#0a23cd" d="M45 8h1v1h-1z"/>
<path fill="#2396fa" d="M57 12h1v1h-1zM59 13h1v1h-1zM53 16h1v1h-1zM57 16h1v1h-1zM56 18h1v1h-1zM26 20h1v1h-1zM24 21h1v1h-1zM19 22h1v1h-1zM54 22h1v1h-1zM16 23h1v1h-1zM20 23h1v1h-1zM23 23h1v1h-1zM30 23h1v1h-1zM51 23h1v1h-1zM58 23h1v1h-1zM19 25h1v1h-1zM22 25h2v1h-2zM26 25h1v1h-1zM54 25h1v1h-1zM51 26h1v1h-1zM19 27h1v1h-1zM32 27h1v1h-1zM53 27h1v1h-1zM57 27h1v1h-1zM21 28h1v1h-1zM27 28h1v1h-1zM50 28h1v1h-1zM56 28h1v1h-1zM24 29h2v1h-2zM59 29h1v1h-1zM27 30h1v1h-1zM40 30h1v1h-1zM53 30h1v1h-1zM40 31h1v1h-1zM57 31h1v1h-1zM59 31h1v1h-1zM46 32h1v1h-1zM52 32h1v1h-1zM59 32h1v1h-1zM53 33h1v1h-1zM34 34h1v1h-1zM56 34h1v1h-1zM59 34h1v1h-1zM43 35h1v1h-1zM37 36h1v1h-1zM46 37h1v1h-1zM49 37h1v1h-1zM51 37h1v1h-1zM53 37h1v1h-1zM31 38h1v1h-1zM40 38h1v1h-1zM47 38h1v1h-1zM49 38h2v1h-2zM59 40h1v1h-1zM34 41h1v1h-1zM41 41h1v1h-1zM43 41h1v1h-1zM36 42h1v1h-1zM44 42h2v1h-2zM50 42h1v1h-1zM59 42h1v1h-1zM41 43h1v1h-1zM47 43h1v1h-1zM36 44h1v1h-1zM39 44h2v1h-2zM44 44h1v1h-1zM52 44h1v1h-1zM44 45h1v1h-1zM47 45h1v1h-1zM43 46h1v1h-1zM51 46h1v1h-1zM59 46h1v1h-1zM40 47h1v1h-1zM36 48h1v1h-1zM46 48h1v1h-1zM52 48h1v1h-1zM59 49h1v1h-1zM44 51h1v1h-1zM54 51h1v1h-1zM52 52h1v1h-1zM53 53h1v1h-1zM57 54h1v1h-1zM56 55h1v1h-1zM56 65h1v1h-1zM58 70h1v1h-1zM59 71h1v1h-1zM4 83h1v1h-1zM5 87h1v1h-1zM58 92h1v1h-1zM54 96h1v1h-1zM57 97h1v1h-1zM58 98h1v1h-1zM6 99h1v1h-1zM6 101h1v1h-1zM50 103h1v1h-1zM55 104h2v1h-2zM55 106h1v1h-1zM6 108h1v1h-1zM48 109h1v1h-1zM57 111h1v1h-1zM59 111h1v1h-1z"/>
<path fill="#1e82f5" d="M20 14h1v1h-1zM58 14h1v1h-1zM58 17h1v1h-1zM31 20h1v1h-1zM19 21h2v1h-2zM30 22h1v1h-1zM57 22h1v1h-1zM39 23h1v1h-1zM33 24h1v1h-1zM34 25h1v1h-1zM31 27h1v1h-1zM35 27h1v1h-1zM59 27h1v1h-1zM35 28h1v1h-1zM53 28h1v1h-1zM48 29h1v1h-1zM46 30h1v1h-1zM49 31h1v1h-1zM38 32h1v1h-1zM54 32h1v1h-1zM45 33h1v1h-1zM50 34h1v1h-1zM41 35h1v1h-1zM52 35h1v1h-1zM36 36h1v1h-1zM40 36h1v1h-1zM42 36h1v1h-1zM48 37h1v1h-1zM43 40h1v1h-1zM33 41h1v1h-1zM42 41h1v1h-1zM50 41h1v1h-1zM40 42h1v1h-1zM54 42h1v1h-1zM56 43h1v1h-1zM49 44h1v1h-1zM53 44h1v1h-1zM38 45h1v1h-1zM59 72h1v1h-1zM4 93h1v1h-1zM5 94h2v1h-2zM1 98h1v1h-1zM4 103h1v1h-1zM5 104h1v1h-1zM5 106h1v1h-1zM3 108h1v1h-1zM2 110h1v1h-1z"/>
<path fill="#1473f0" d="M52 14h1v1h-1zM24 16h1v1h-1zM23 19h1v1h-1zM54 21h1v1h-1zM28 24h1v1h-1zM50 24h1v1h-1zM41 26h1v1h-1zM57 26h1v1h-1zM49 33h1v1h-1zM48 34h1v1h-1zM2 104h1v1h-1z"/>
<path fill="#239bfa" d="M59 14h1v1h-1zM24 20h1v1h-1zM28 20h1v1h-1zM26 22h1v1h-1zM19 23h1v1h-1zM19 24h1v1h-1zM24 24h2v1h-2zM21 26h1v1h-1zM24 26h2v1h-2zM23 27h1v1h-1zM27 27h1v1h-1zM25 28h1v1h-1zM30 28h1v1h-1zM58 28h1v1h-1zM26 29h1v1h-1zM26 33h1v1h-1zM31 34h1v1h-1zM33 34h1v1h-1zM39 34h1v1h-1zM55 34h1v1h-1zM35 35h1v1h-1zM45 35h1v1h-1zM50 35h1v1h-1zM34 36h1v1h-1zM46 36h1v1h-1zM30 37h1v1h-1zM32 37h1v1h-1zM58 37h1v1h-1zM34 38h2v1h-2zM48 38h1v1h-1zM54 38h1v1h-1zM36 39h1v1h-1zM42 39h1v1h-1zM59 39h1v1h-1zM31 40h1v1h-1zM41 40h1v1h-1zM41 44h1v1h-1zM45 44h1v1h-1zM54 44h1v1h-1zM58 44h1v1h-1zM33 45h1v1h-1zM35 45h1v1h-1zM42 45h1v1h-1zM50 45h1v1h-1zM42 48h1v1h-1zM56 48h1v1h-1zM52 49h1v1h-1zM46 50h1v1h-1zM50 50h1v1h-1zM46 51h1v1h-1zM50 51h1v1h-1zM46 52h1v1h-1zM45 53h1v1h-1zM54 53h1v1h-1zM44 55h1v1h-1zM50 55h1v1h-1zM43 56h1v1h-1zM47 60h1v1h-1zM55 63h1v1h-1zM55 67h1v1h-1zM57 73h1v1h-1zM58 76h1v1h-1zM3 83h1v1h-1zM6 85h1v1h-1zM4 87h1v1h-1zM54 88h1v1h-1zM59 89h1v1h-1zM58 90h1v1h-1zM5 91h1v1h-1zM57 93h1v1h-1zM59 93h1v1h-1zM53 94h1v1h-1zM2 95h1v1h-1zM57 96h1v1h-1zM6 100h1v1h-1zM55 101h1v1h-1zM7 102h1v1h-1zM4 109h1v1h-1zM57 110h1v1h-1zM56 111h1v1h-1z"/>
<path fill="#289bfa" d="M19 19h1v1h-1zM17 25h1v1h-1zM19 26h1v1h-1zM45 29h1v1h-1zM26 32h1v1h-1zM37 40h1v1h-1zM54 41h1v1h-1zM48 44h1v1h-1zM59 50h1v1h-1zM58 53h1v1h-1zM47 55h1v1h-1zM50 56h1v1h-1zM50 59h1v1h-1zM44 65h1v1h-1zM5 79h1v1h-1zM4 80h1v1h-1zM59 83h1v1h-1zM53 86h1v1h-1zM5 95h1v1h-1zM1 102h1v1h-1zM57 102h1v1h-1zM56 107h1v1h-1z"/>
<path fill="#28a5fa" d="M59 21h1v1h-1zM17 22h1v1h-1zM21 25h1v1h-1zM23 26h1v1h-1zM27 26h1v1h-1zM22 27h1v1h-1zM18 28h1v1h-1zM24 28h1v1h-1zM16 29h1v1h-1zM22 29h1v1h-1zM50 29h1v1h-1zM23 30h1v1h-1zM30 30h1v1h-1zM59 30h1v1h-1zM19 31h1v1h-1zM32 31h1v1h-1zM58 31h1v1h-1zM20 32h1v1h-1zM22 33h1v1h-1zM24 33h1v1h-1zM27 33h1v1h-1zM29 33h1v1h-1zM31 33h1v1h-1zM35 33h1v1h-1zM55 33h1v1h-1zM58 33h1v1h-1zM25 34h1v1h-1zM27 34h1v1h-1zM53 34h1v1h-1zM31 35h1v1h-1zM37 35h1v1h-1zM35 36h1v1h-1zM33 40h2v1h-2zM32 41h1v1h-1zM58 41h1v1h-1zM31 42h2v1h-2zM53 42h1v1h-1zM29 43h1v1h-1zM36 43h1v1h-1zM43 43h1v1h-1zM46 43h1v1h-1zM50 43h1v1h-1zM29 44h1v1h-1zM35 44h1v1h-1zM38 44h1v1h-1zM43 44h1v1h-1zM55 44h1v1h-1zM36 45h1v1h-1zM59 45h1v1h-1zM40 46h1v1h-1zM45 46h1v1h-1zM48 46h1v1h-1zM52 46h1v1h-1zM29 47h1v1h-1zM43 47h1v1h-1zM52 47h2v1h-2zM57 47h1v1h-1zM41 48h1v1h-1zM44 48h1v1h-1zM34 49h1v1h-1zM38 49h1v1h-1zM41 49h1v1h-1zM45 49h4v1h-4zM41 50h2v1h-2zM45 50h1v1h-1zM47 50h1v1h-1zM55 50h2v1h-2zM32 51h1v1h-1zM38 51h1v1h-1zM42 51h1v1h-1zM45 51h1v1h-1zM47 51h1v1h-1zM56 51h1v1h-1zM42 52h1v1h-1zM57 52h1v1h-1zM43 53h1v1h-1zM40 54h1v1h-1zM51 54h1v1h-1zM43 55h1v1h-1zM49 55h1v1h-1zM54 55h2v1h-2zM51 56h1v1h-1zM57 56h1v1h-1zM46 57h1v1h-1zM44 59h1v1h-1zM54 60h1v1h-1zM55 61h1v1h-1zM50 62h1v1h-1zM46 63h1v1h-1zM58 64h1v1h-1zM59 69h1v1h-1zM57 70h1v1h-1zM59 70h1v1h-1zM46 72h1v1h-1zM57 76h1v1h-1zM59 84h1v1h-1zM51 85h1v1h-1zM53 85h1v1h-1zM57 86h2v1h-2zM58 87h1v1h-1zM6 88h1v1h-1zM49 88h1v1h-1zM57 89h1v1h-1zM51 90h1v1h-1zM57 91h1v1h-1zM7 93h1v1h-1zM49 93h1v1h-1zM53 93h1v1h-1zM55 93h1v1h-1zM57 94h1v1h-1zM44 95h1v1h-1zM53 95h1v1h-1zM7 97h1v1h-1zM52 97h1v1h-1zM56 97h1v1h-1zM51 98h1v1h-1zM54 98h2v1h-2zM49 99h1v1h-1zM52 99h1v1h-1zM55 99h2v1h-2zM53 101h1v1h-1zM55 102h1v1h-1zM6 106h1v1h-1zM53 106h1v1h-1zM57 106h1v1h-1zM5 109h1v1h-1zM56 110h1v1h-1zM1 111h1v1h-1zM5 111h1v1h-1zM52 111h1v1h-1z"/>
<path fill="#2daafa" d="M56 22h1v1h-1zM20 25h1v1h-1zM22 26h1v1h-1zM28 29h1v1h-1zM29 31h1v1h-1zM24 32h1v1h-1zM25 33h1v1h-1zM29 34h1v1h-1zM57 34h1v1h-1zM56 36h1v1h-1zM36 38h1v1h-1zM46 38h1v1h-1zM39 39h1v1h-1zM53 39h1v1h-1zM54 40h1v1h-1zM59 41h1v1h-1zM31 44h1v1h-1zM33 44h1v1h-1zM37 44h1v1h-1zM42 44h1v1h-1zM31 45h2v1h-2zM49 45h1v1h-1zM41 46h1v1h-1zM39 47h1v1h-1zM47 47h1v1h-1zM40 48h1v1h-1zM53 48h1v1h-1zM51 49h1v1h-1zM37 50h1v1h-1zM39 51h1v1h-1zM37 52h1v1h-1zM43 52h1v1h-1zM48 53h1v1h-1zM49 54h1v1h-1zM55 56h1v1h-1zM59 56h1v1h-1zM50 58h1v1h-1zM38 59h1v1h-1zM48 59h1v1h-1zM59 59h1v1h-1zM53 60h1v1h-1zM59 60h1v1h-1zM45 61h1v1h-1zM54 61h1v1h-1zM57 61h1v1h-1zM51 62h1v1h-1zM57 63h1v1h-1zM39 64h1v1h-1zM57 64h1v1h-1zM45 66h1v1h-1zM57 67h1v1h-1zM58 68h1v1h-1zM49 70h1v1h-1zM57 72h1v1h-1zM55 74h1v1h-1zM59 76h1v1h-1zM4 77h1v1h-1zM59 77h1v1h-1zM50 78h1v1h-1zM59 78h1v1h-1zM5 81h1v1h-1zM59 82h1v1h-1zM56 83h1v1h-1zM59 86h1v1h-1zM55 87h1v1h-1zM52 88h1v1h-1zM52 89h2v1h-2zM7 92h1v1h-1zM57 92h1v1h-1zM55 94h1v1h-1zM54 95h1v1h-1zM7 96h1v1h-1zM55 97h1v1h-1zM7 98h1v1h-1zM56 98h1v1h-1zM52 100h1v1h-1zM56 100h1v1h-1zM55 103h1v1h-1zM54 105h1v1h-1zM56 105h1v1h-1zM54 107h1v1h-1zM6 109h1v1h-1zM3 110h1v1h-1z"/>
<path fill="#28a0fa" d="M58 22h1v1h-1zM16 26h2v1h-2zM59 26h1v1h-1zM21 27h1v1h-1zM15 28h1v1h-1zM26 28h1v1h-1zM28 28h1v1h-1zM27 29h1v1h-1zM30 29h1v1h-1zM17 30h1v1h-1zM22 30h1v1h-1zM22 31h1v1h-1zM26 31h1v1h-1zM31 32h1v1h-1zM58 32h1v1h-1zM16 33h1v1h-1zM30 33h1v1h-1zM49 34h1v1h-1zM58 34h1v1h-1zM29 35h1v1h-1zM34 35h1v1h-1zM48 35h1v1h-1zM57 35h1v1h-1zM59 35h1v1h-1zM30 36h1v1h-1zM41 36h1v1h-1zM47 36h3v1h-3zM55 36h1v1h-1zM54 37h1v1h-1zM56 37h1v1h-1zM59 37h1v1h-1zM33 38h1v1h-1zM31 39h1v1h-1zM34 39h2v1h-2zM57 39h1v1h-1zM38 40h1v1h-1zM50 40h1v1h-1zM52 40h1v1h-1zM29 41h1v1h-1zM38 41h1v1h-1zM35 42h1v1h-1zM30 43h1v1h-1zM33 43h1v1h-1zM37 43h1v1h-1zM39 43h1v1h-1zM52 43h1v1h-1zM54 43h1v1h-1zM57 43h1v1h-1zM37 45h1v1h-1zM46 45h1v1h-1zM52 45h2v1h-2zM57 45h1v1h-1zM42 46h1v1h-1zM44 46h1v1h-1zM47 46h1v1h-1zM53 46h1v1h-1zM56 46h1v1h-1zM45 47h1v1h-1zM48 47h1v1h-1zM50 47h1v1h-1zM56 47h1v1h-1zM50 49h1v1h-1zM56 49h2v1h-2zM51 50h1v1h-1zM53 51h1v1h-1zM58 51h1v1h-1zM49 52h1v1h-1zM54 52h1v1h-1zM38 53h1v1h-1zM51 53h1v1h-1zM57 53h1v1h-1zM50 54h1v1h-1zM52 54h1v1h-1zM49 57h1v1h-1zM52 57h1v1h-1zM56 57h1v1h-1zM58 57h1v1h-1zM53 58h1v1h-1zM59 58h1v1h-1zM51 60h1v1h-1zM55 65h1v1h-1zM52 69h1v1h-1zM55 69h1v1h-1zM4 78h1v1h-1zM46 80h1v1h-1zM4 82h1v1h-1zM5 84h1v1h-1zM42 84h1v1h-1zM58 85h1v1h-1zM56 88h1v1h-1zM58 88h2v1h-2zM50 91h1v1h-1zM58 93h1v1h-1zM51 94h1v1h-1zM6 95h1v1h-1zM57 95h1v1h-1zM53 96h1v1h-1zM55 96h1v1h-1zM1 97h1v1h-1zM7 99h1v1h-1zM7 100h1v1h-1zM54 101h1v1h-1zM57 101h1v1h-1zM8 102h1v1h-1zM1 103h1v1h-1zM1 104h1v1h-1zM6 104h1v1h-1zM54 104h1v1h-1zM2 106h1v1h-1zM3 107h1v1h-1zM52 107h1v1h-1zM57 107h1v1h-1zM57 109h1v1h-1zM6 110h1v1h-1zM54 111h1v1h-1z"/>
<path fill="#1e91fa" d="M18 23h1v1h-1zM56 23h1v1h-1zM58 27h1v1h-1zM59 28h1v1h-1zM51 29h1v1h-1zM34 32h1v1h-1zM40 51h1v1h-1zM58 96h1v1h-1zM52 104h1v1h-1zM4 110h1v1h-1z"/>
<path fill="#37c3f5" d="M21 24h1v1h-1zM20 28h1v1h-1zM15 32h1v1h-1zM16 36h1v1h-1zM25 38h1v1h-1zM26 45h1v1h-1zM29 45h1v1h-1zM34 45h1v1h-1zM58 46h1v1h-1zM34 47h1v1h-1zM51 48h1v1h-1zM59 48h1v1h-1zM35 49h1v1h-1zM29 50h1v1h-1zM35 50h1v1h-1zM42 53h1v1h-1zM36 56h1v1h-1zM49 56h1v1h-1zM32 57h1v1h-1zM37 57h1v1h-1zM34 58h1v1h-1zM42 58h1v1h-1zM51 58h1v1h-1zM36 59h1v1h-1zM43 59h1v1h-1zM41 60h1v1h-1zM36 61h1v1h-1zM42 61h1v1h-1zM56 61h1v1h-1zM40 62h1v1h-1zM40 63h1v1h-1zM43 64h1v1h-1zM53 64h1v1h-1zM54 66h1v1h-1zM47 67h1v1h-1zM50 68h1v1h-1zM57 68h1v1h-1zM48 70h1v1h-1zM52 70h1v1h-1zM56 70h1v1h-1zM44 71h1v1h-1zM53 72h1v1h-1zM58 72h1v1h-1zM45 73h1v1h-1zM50 73h1v1h-1zM41 74h1v1h-1zM48 74h1v1h-1zM54 74h1v1h-1zM56 75h1v1h-1zM41 76h1v1h-1zM52 76h1v1h-1zM48 77h1v1h-1zM41 78h1v1h-1zM44 78h1v1h-1zM41 79h1v1h-1zM57 79h1v1h-1zM56 80h1v1h-1zM58 80h1v1h-1zM52 81h1v1h-1zM46 82h1v1h-1zM50 82h1v1h-1zM46 83h1v1h-1zM50 84h1v1h-1zM55 84h1v1h-1zM43 85h1v1h-1zM52 85h1v1h-1zM43 86h1v1h-1zM51 86h1v1h-1zM45 88h1v1h-1zM47 88h1v1h-1zM46 89h1v1h-1zM43 90h1v1h-1zM47 91h1v1h-1zM53 92h1v1h-1zM52 93h1v1h-1zM50 94h1v1h-1zM51 95h1v1h-1zM50 96h1v1h-1zM52 96h1v1h-1zM51 97h1v1h-1zM43 98h1v1h-1zM42 99h1v1h-1zM8 100h1v1h-1zM44 100h1v1h-1zM47 100h2v1h-2zM37 104h1v1h-1zM43 105h1v1h-1zM50 105h1v1h-1zM0 107h1v1h-1zM35 107h1v1h-1zM42 107h2v1h-2zM7 109h1v1h-1zM50 110h1v1h-1zM54 110h1v1h-1z"/>
<path fill="#2da5fa" d="M16 25h1v1h-1zM32 34h1v1h-1zM58 36h1v1h-1zM35 46h1v1h-1zM37 51h1v1h-1zM42 59h1v1h-1zM53 76h1v1h-1zM52 102h1v1h-1z"/>
<path fill="#2daaf5" d="M20 26h1v1h-1zM16 28h1v1h-1zM19 28h1v1h-1zM58 29h1v1h-1zM20 30h1v1h-1zM27 31h1v1h-1zM27 32h2v1h-2zM28 35h1v1h-1zM58 35h1v1h-1zM30 40h1v1h-1zM46 42h1v1h-1zM50 44h1v1h-1zM56 45h1v1h-1zM37 46h3v1h-3zM35 48h1v1h-1zM48 48h1v1h-1zM48 50h1v1h-1zM52 50h1v1h-1zM43 51h1v1h-1zM44 52h1v1h-1zM52 53h1v1h-1zM56 53h1v1h-1zM43 54h1v1h-1zM39 55h1v1h-1zM42 55h1v1h-1zM58 55h1v1h-1zM54 56h1v1h-1zM55 57h1v1h-1zM46 59h1v1h-1zM47 61h2v1h-2zM46 62h1v1h-1zM52 63h1v1h-1zM57 66h1v1h-1zM53 74h1v1h-1zM54 76h1v1h-1zM52 78h1v1h-1zM56 78h1v1h-1zM5 80h1v1h-1zM6 83h1v1h-1zM58 83h1v1h-1zM49 85h1v1h-1zM56 85h1v1h-1zM52 90h1v1h-1zM53 91h1v1h-1zM7 94h1v1h-1zM7 95h1v1h-1zM58 95h1v1h-1zM47 97h1v1h-1zM53 97h1v1h-1zM56 103h1v1h-1zM57 104h1v1h-1zM56 108h1v1h-1zM55 109h1v1h-1z"/>
<path fill="#1e91f5" d="M30 26h1v1h-1zM25 27h1v1h-1zM51 28h1v1h-1zM43 38h1v1h-1zM51 38h1v1h-1zM1 108h1v1h-1z"/>
<path fill="#32b4f5" d="M15 27h2v1h-2zM15 29h1v1h-1zM17 29h1v1h-1zM16 31h1v1h-1zM16 32h1v1h-1zM25 32h1v1h-1zM28 34h1v1h-1zM30 35h1v1h-1zM22 36h1v1h-1zM55 37h1v1h-1zM52 38h1v1h-1zM20 39h1v1h-1zM56 40h1v1h-1zM31 41h1v1h-1zM37 41h1v1h-1zM26 42h1v1h-1zM31 43h1v1h-1zM35 43h1v1h-1zM53 43h1v1h-1zM28 44h1v1h-1zM56 44h1v1h-1zM36 46h1v1h-1zM49 46h1v1h-1zM27 47h1v1h-1zM38 47h1v1h-1zM59 47h1v1h-1zM30 48h1v1h-1zM54 48h1v1h-1zM57 48h1v1h-1zM37 49h1v1h-1zM39 49h1v1h-1zM39 50h1v1h-1zM54 50h1v1h-1zM30 51h1v1h-1zM49 51h1v1h-1zM59 51h1v1h-1zM41 52h1v1h-1zM33 53h1v1h-1zM37 53h1v1h-1zM47 53h1v1h-1zM47 54h2v1h-2zM56 54h1v1h-1zM41 55h1v1h-1zM45 55h1v1h-1zM53 55h1v1h-1zM57 55h1v1h-1zM44 56h1v1h-1zM58 56h1v1h-1zM39 57h1v1h-1zM41 57h1v1h-1zM48 57h1v1h-1zM37 58h1v1h-1zM41 58h1v1h-1zM44 58h2v1h-2zM48 58h1v1h-1zM56 58h1v1h-1zM35 59h1v1h-1zM53 59h1v1h-1zM55 59h1v1h-1zM56 60h1v1h-1zM38 61h1v1h-1zM44 61h1v1h-1zM46 61h1v1h-1zM50 61h1v1h-1zM52 61h1v1h-1zM58 61h1v1h-1zM41 62h1v1h-1zM45 62h1v1h-1zM53 62h1v1h-1zM51 63h1v1h-1zM40 65h1v1h-1zM43 65h1v1h-1zM48 65h1v1h-1zM57 65h2v1h-2zM53 66h1v1h-1zM56 68h1v1h-1zM47 70h1v1h-1zM50 70h1v1h-1zM49 71h1v1h-1zM53 71h1v1h-1zM58 71h1v1h-1zM56 72h1v1h-1zM59 74h1v1h-1zM57 75h1v1h-1zM51 77h1v1h-1zM52 80h1v1h-1zM54 81h1v1h-1zM56 81h2v1h-2zM6 82h1v1h-1zM47 83h1v1h-1zM52 83h2v1h-2zM53 84h1v1h-1zM57 84h2v1h-2zM50 85h1v1h-1zM7 86h1v1h-1zM47 86h1v1h-1zM54 86h1v1h-1zM43 87h1v1h-1zM53 87h1v1h-1zM7 88h1v1h-1zM46 91h1v1h-1zM55 91h1v1h-1zM47 92h1v1h-1zM55 92h1v1h-1zM47 93h1v1h-1zM54 93h1v1h-1zM56 93h1v1h-1zM56 94h1v1h-1zM47 96h1v1h-1zM51 96h1v1h-1zM50 97h1v1h-1zM8 98h1v1h-1zM53 99h1v1h-1zM50 101h1v1h-1zM46 102h1v1h-1zM49 102h2v1h-2zM51 103h1v1h-1zM54 103h1v1h-1zM7 106h1v1h-1zM51 106h1v1h-1zM54 106h1v1h-1zM49 107h1v1h-1zM7 108h1v1h-1zM50 109h1v1h-1zM52 109h1v1h-1zM56 109h1v1h-1zM55 110h1v1h-1zM48 111h1v1h-1zM53 111h1v1h-1z"/>
<path fill="#2daff5" d="M17 27h2v1h-2zM23 28h1v1h-1zM19 29h1v1h-1zM21 29h1v1h-1zM23 29h1v1h-1zM14 30h1v1h-1zM19 30h1v1h-1zM29 30h1v1h-1zM20 31h1v1h-1zM35 31h1v1h-1zM21 32h1v1h-1zM29 32h1v1h-1zM55 32h1v1h-1zM18 33h2v1h-2zM28 33h1v1h-1zM16 34h1v1h-1zM26 35h1v1h-1zM24 36h1v1h-1zM31 36h1v1h-1zM33 37h2v1h-2zM57 37h1v1h-1zM30 38h1v1h-1zM32 39h2v1h-2zM30 41h1v1h-1zM56 41h1v1h-1zM41 42h1v1h-1zM56 42h1v1h-1zM58 42h1v1h-1zM32 43h1v1h-1zM30 44h1v1h-1zM46 44h1v1h-1zM58 45h1v1h-1zM31 46h1v1h-1zM46 46h1v1h-1zM55 46h1v1h-1zM31 47h1v1h-1zM37 47h1v1h-1zM55 47h1v1h-1zM32 48h1v1h-1zM39 48h1v1h-1zM49 48h1v1h-1zM55 48h1v1h-1zM58 48h1v1h-1zM31 49h1v1h-1zM36 49h1v1h-1zM40 49h1v1h-1zM43 49h2v1h-2zM55 49h1v1h-1zM44 50h1v1h-1zM49 50h1v1h-1zM52 51h1v1h-1zM39 52h1v1h-1zM56 52h1v1h-1zM46 53h1v1h-1zM49 53h1v1h-1zM36 54h1v1h-1zM54 54h1v1h-1zM58 54h1v1h-1zM34 55h1v1h-1zM36 57h1v1h-1zM43 57h1v1h-1zM53 57h1v1h-1zM47 58h1v1h-1zM49 58h1v1h-1zM52 58h1v1h-1zM54 58h2v1h-2zM46 60h1v1h-1zM49 60h1v1h-1zM57 60h1v1h-1zM44 62h1v1h-1zM47 63h1v1h-1zM45 64h1v1h-1zM51 65h1v1h-1zM53 65h1v1h-1zM46 66h1v1h-1zM52 66h1v1h-1zM56 66h1v1h-1zM58 66h1v1h-1zM50 67h1v1h-1zM58 67h1v1h-1zM54 68h1v1h-1zM51 69h1v1h-1zM57 71h1v1h-1zM51 72h1v1h-1zM50 74h3v1h-3zM48 75h2v1h-2zM52 75h1v1h-1zM55 75h1v1h-1zM58 75h1v1h-1zM47 76h1v1h-1zM49 78h1v1h-1zM47 79h1v1h-1zM58 81h1v1h-1zM58 82h1v1h-1zM5 83h1v1h-1zM55 85h1v1h-1zM56 86h1v1h-1zM45 87h1v1h-1zM47 87h1v1h-1zM56 87h2v1h-2zM53 88h1v1h-1zM55 88h1v1h-1zM57 88h1v1h-1zM6 90h1v1h-1zM54 90h1v1h-1zM56 91h1v1h-1zM54 92h1v1h-1zM56 92h1v1h-1zM50 95h1v1h-1zM50 99h1v1h-1zM54 100h1v1h-1zM47 101h1v1h-1zM51 101h1v1h-1zM56 101h1v1h-1zM7 105h1v1h-1zM48 106h1v1h-1zM0 108h1v1h-1zM54 108h1v1h-1zM1 109h1v1h-1zM53 109h1v1h-1zM53 110h1v1h-1zM6 111h1v1h-1z"/>
<path fill="#32b9f5" d="M17 28h1v1h-1zM20 29h1v1h-1zM18 30h1v1h-1zM26 30h1v1h-1zM18 31h1v1h-1zM21 31h1v1h-1zM23 31h3v1h-3zM28 31h1v1h-1zM17 32h1v1h-1zM23 33h1v1h-1zM25 35h1v1h-1zM26 36h1v1h-1zM24 37h1v1h-1zM59 38h1v1h-1zM28 40h1v1h-1zM57 41h1v1h-1zM28 42h1v1h-1zM34 42h1v1h-1zM57 42h1v1h-1zM30 45h1v1h-1zM39 45h1v1h-1zM54 45h1v1h-1zM33 47h1v1h-1zM35 47h1v1h-1zM32 49h1v1h-1zM31 50h2v1h-2zM41 51h1v1h-1zM31 52h2v1h-2zM38 52h1v1h-1zM50 52h1v1h-1zM58 52h2v1h-2zM39 53h3v1h-3zM44 53h1v1h-1zM34 54h1v1h-1zM45 54h1v1h-1zM53 54h1v1h-1zM55 54h1v1h-1zM46 55h1v1h-1zM48 55h1v1h-1zM59 55h1v1h-1zM35 56h1v1h-1zM38 56h1v1h-1zM45 56h1v1h-1zM47 56h1v1h-1zM47 57h1v1h-1zM51 57h1v1h-1zM59 57h1v1h-1zM49 59h1v1h-1zM51 59h1v1h-1zM57 59h1v1h-1zM34 60h1v1h-1zM36 60h1v1h-1zM52 60h1v1h-1zM48 62h1v1h-1zM54 62h1v1h-1zM59 62h1v1h-1zM54 63h1v1h-1zM52 64h1v1h-1zM56 64h1v1h-1zM59 64h1v1h-1zM41 65h1v1h-1zM47 65h1v1h-1zM54 65h1v1h-1zM44 66h1v1h-1zM56 67h1v1h-1zM59 67h1v1h-1zM45 68h1v1h-1zM49 68h1v1h-1zM51 68h1v1h-1zM59 68h1v1h-1zM50 69h1v1h-1zM57 69h1v1h-1zM51 70h1v1h-1zM53 70h1v1h-1zM50 71h1v1h-1zM56 71h1v1h-1zM41 72h1v1h-1zM49 72h2v1h-2zM52 72h1v1h-1zM41 73h1v1h-1zM43 73h1v1h-1zM52 73h1v1h-1zM58 73h1v1h-1zM56 74h2v1h-2zM42 75h1v1h-1zM53 75h1v1h-1zM43 76h1v1h-1zM45 77h1v1h-1zM55 77h4v1h-4zM51 78h1v1h-1zM54 78h1v1h-1zM46 79h1v1h-1zM56 79h1v1h-1zM58 79h2v1h-2zM51 80h1v1h-1zM53 80h1v1h-1zM57 80h1v1h-1zM47 81h1v1h-1zM53 81h1v1h-1zM59 81h1v1h-1zM5 82h1v1h-1zM54 82h1v1h-1zM56 82h1v1h-1zM50 83h1v1h-1zM55 83h1v1h-1zM57 83h1v1h-1zM48 84h1v1h-1zM54 84h1v1h-1zM54 85h1v1h-1zM57 85h1v1h-1zM52 86h1v1h-1zM42 87h1v1h-1zM50 87h1v1h-1zM6 89h1v1h-1zM47 89h1v1h-1zM56 89h1v1h-1zM48 90h1v1h-1zM53 90h1v1h-1zM56 90h2v1h-2zM44 91h1v1h-1zM46 92h1v1h-1zM48 92h1v1h-1zM52 92h1v1h-1zM39 93h1v1h-1zM44 93h1v1h-1zM42 94h2v1h-2zM56 95h1v1h-1zM41 96h1v1h-1zM43 96h1v1h-1zM46 96h1v1h-1zM48 96h1v1h-1zM56 96h1v1h-1zM43 97h1v1h-1zM44 98h1v1h-1zM48 98h1v1h-1zM52 98h1v1h-1zM39 99h1v1h-1zM53 100h1v1h-1zM55 100h1v1h-1zM8 101h1v1h-1zM49 101h1v1h-1zM48 102h1v1h-1zM52 103h2v1h-2zM45 104h1v1h-1zM53 104h1v1h-1zM49 105h1v1h-1zM52 105h1v1h-1zM55 105h1v1h-1zM47 106h1v1h-1zM52 106h1v1h-1zM50 107h1v1h-1zM53 107h1v1h-1zM43 108h1v1h-1zM47 109h1v1h-1zM50 111h1v1h-1z"/>
<path fill="#37bef5" d="M15 30h1v1h-1zM17 31h1v1h-1zM14 32h1v1h-1zM18 32h2v1h-2zM23 32h1v1h-1zM21 33h1v1h-1zM14 34h2v1h-2zM21 34h1v1h-1zM26 34h1v1h-1zM20 35h1v1h-1zM21 36h1v1h-1zM27 36h1v1h-1zM24 38h1v1h-1zM26 38h1v1h-1zM29 38h1v1h-1zM30 39h1v1h-1zM30 42h1v1h-1zM33 42h1v1h-1zM29 46h1v1h-1zM32 46h1v1h-1zM30 47h1v1h-1zM32 47h1v1h-1zM36 47h1v1h-1zM31 48h1v1h-1zM34 48h1v1h-1zM38 48h1v1h-1zM43 48h1v1h-1zM50 48h1v1h-1zM29 49h1v1h-1zM54 49h1v1h-1zM40 50h1v1h-1zM43 50h1v1h-1zM34 51h1v1h-1zM28 52h1v1h-1zM47 52h1v1h-1zM51 52h1v1h-1zM53 52h1v1h-1zM55 52h1v1h-1zM31 53h2v1h-2zM38 54h1v1h-1zM41 54h1v1h-1zM44 54h1v1h-1zM40 55h1v1h-1zM52 55h1v1h-1zM46 56h1v1h-1zM38 57h1v1h-1zM50 57h1v1h-1zM54 57h1v1h-1zM46 58h1v1h-1zM57 58h1v1h-1zM47 59h1v1h-1zM52 59h1v1h-1zM56 59h1v1h-1zM48 60h1v1h-1zM58 60h1v1h-1zM34 61h1v1h-1zM40 61h2v1h-2zM43 61h1v1h-1zM51 61h1v1h-1zM43 62h1v1h-1zM49 62h1v1h-1zM57 62h2v1h-2zM43 63h1v1h-1zM45 63h1v1h-1zM53 63h1v1h-1zM56 63h1v1h-1zM58 63h2v1h-2zM42 64h1v1h-1zM44 64h1v1h-1zM46 64h1v1h-1zM52 65h1v1h-1zM59 65h1v1h-1zM41 66h1v1h-1zM43 66h1v1h-1zM49 67h1v1h-1zM51 67h3v1h-3zM44 68h1v1h-1zM47 68h1v1h-1zM52 68h1v1h-1zM55 68h1v1h-1zM49 69h1v1h-1zM56 69h1v1h-1zM44 70h1v1h-1zM46 70h1v1h-1zM54 70h1v1h-1zM51 71h1v1h-1zM55 71h1v1h-1zM49 73h1v1h-1zM54 73h1v1h-1zM47 74h1v1h-1zM58 74h1v1h-1zM46 75h2v1h-2zM59 75h1v1h-1zM49 76h2v1h-2zM56 76h1v1h-1zM53 78h1v1h-1zM57 78h1v1h-1zM51 79h1v1h-1zM54 79h1v1h-1zM55 81h1v1h-1zM52 82h1v1h-1zM55 82h1v1h-1zM39 83h1v1h-1zM42 83h1v1h-1zM51 84h2v1h-2zM48 87h1v1h-1zM51 87h1v1h-1zM54 87h1v1h-1zM40 88h1v1h-1zM48 88h1v1h-1zM7 89h1v1h-1zM54 89h1v1h-1zM47 90h1v1h-1zM42 91h1v1h-1zM45 91h1v1h-1zM51 91h1v1h-1zM58 91h1v1h-1zM51 92h1v1h-1zM43 93h1v1h-1zM47 94h1v1h-1zM52 94h1v1h-1zM40 95h1v1h-1zM46 95h1v1h-1zM48 95h1v1h-1zM39 96h1v1h-1zM44 97h1v1h-1zM54 97h1v1h-1zM45 99h2v1h-2zM54 99h1v1h-1zM51 100h1v1h-1zM7 101h1v1h-1zM41 101h1v1h-1zM45 101h1v1h-1zM45 103h2v1h-2zM7 104h1v1h-1zM46 104h1v1h-1zM50 104h1v1h-1zM53 105h1v1h-1zM1 106h1v1h-1zM47 107h1v1h-1zM51 107h1v1h-1zM55 107h1v1h-1zM52 108h1v1h-1zM57 108h1v1h-1zM0 109h1v1h-1zM52 110h1v1h-1z"/>
<path fill="#32aff5" d="M21 30h1v1h-1zM58 30h1v1h-1zM29 37h1v1h-1zM33 49h1v1h-1zM54 80h1v1h-1zM48 81h1v1h-1zM6 87h1v1h-1zM52 91h1v1h-1zM54 91h1v1h-1zM56 106h1v1h-1zM2 109h1v1h-1z"/>
<path fill="#3cc8f0" d="M14 31h2v1h-2zM14 33h1v1h-1zM13 34h1v1h-1zM17 34h1v1h-1zM20 34h1v1h-1zM23 34h1v1h-1zM21 35h3v1h-3zM27 35h1v1h-1zM15 36h1v1h-1zM29 36h1v1h-1zM15 37h1v1h-1zM20 37h1v1h-1zM22 37h1v1h-1zM25 37h1v1h-1zM28 37h1v1h-1zM27 38h2v1h-2zM27 39h1v1h-1zM29 40h1v1h-1zM27 42h1v1h-1zM25 43h1v1h-1zM27 43h1v1h-1zM27 44h1v1h-1zM33 46h2v1h-2zM28 47h1v1h-1zM28 48h1v1h-1zM37 48h1v1h-1zM30 50h1v1h-1zM33 50h1v1h-1zM36 50h1v1h-1zM33 51h1v1h-1zM36 51h1v1h-1zM55 51h1v1h-1zM29 52h1v1h-1zM34 53h1v1h-1zM39 54h1v1h-1zM35 55h1v1h-1zM39 56h2v1h-2zM42 56h1v1h-1zM53 56h1v1h-1zM57 57h1v1h-1zM33 58h1v1h-1zM36 58h1v1h-1zM38 58h2v1h-2zM32 59h1v1h-1zM39 59h2v1h-2zM54 59h1v1h-1zM40 60h1v1h-1zM42 60h2v1h-2zM45 60h1v1h-1zM39 62h1v1h-1zM52 62h1v1h-1zM44 63h1v1h-1zM48 63h1v1h-1zM50 64h1v1h-1zM39 65h1v1h-1zM42 65h1v1h-1zM46 65h1v1h-1zM48 66h1v1h-1zM51 66h1v1h-1zM55 66h1v1h-1zM38 69h1v1h-1zM47 69h1v1h-1zM42 71h1v1h-1zM47 71h2v1h-2zM38 72h2v1h-2zM43 72h1v1h-1zM47 73h2v1h-2zM43 74h4v1h-4zM49 74h1v1h-1zM40 75h1v1h-1zM54 75h1v1h-1zM48 76h1v1h-1zM41 77h2v1h-2zM46 77h1v1h-1zM53 77h1v1h-1zM47 78h1v1h-1zM43 79h1v1h-1zM45 79h1v1h-1zM50 79h1v1h-1zM53 79h1v1h-1zM55 79h1v1h-1zM47 80h2v1h-2zM50 80h1v1h-1zM50 81h1v1h-1zM40 83h1v1h-1zM44 83h1v1h-1zM54 83h1v1h-1zM6 84h1v1h-1zM47 84h1v1h-1zM49 84h1v1h-1zM41 85h1v1h-1zM48 85h1v1h-1zM45 86h1v1h-1zM49 86h1v1h-1zM41 87h1v1h-1zM42 88h2v1h-2zM36 89h1v1h-1zM42 89h1v1h-1zM45 89h1v1h-1zM48 89h1v1h-1zM51 89h1v1h-1zM41 90h1v1h-1zM7 91h1v1h-1zM48 91h1v1h-1zM38 92h1v1h-1zM45 92h1v1h-1zM39 94h1v1h-1zM46 94h1v1h-1zM48 94h2v1h-2zM54 94h1v1h-1zM8 95h1v1h-1zM49 95h1v1h-1zM45 96h1v1h-1zM42 97h1v1h-1zM42 98h1v1h-1zM46 98h1v1h-1zM50 98h1v1h-1zM8 99h1v1h-1zM47 99h2v1h-2zM46 100h1v1h-1zM50 100h1v1h-1zM43 101h1v1h-1zM52 101h1v1h-1zM44 102h2v1h-2zM53 102h1v1h-1zM8 103h1v1h-1zM41 103h1v1h-1zM51 104h1v1h-1zM47 105h1v1h-1zM51 105h1v1h-1zM42 106h1v1h-1zM45 106h2v1h-2zM40 107h1v1h-1zM44 107h1v1h-1zM48 107h1v1h-1zM46 108h2v1h-2zM53 108h1v1h-1zM40 109h1v1h-1zM44 109h1v1h-1zM54 109h1v1h-1zM48 110h1v1h-1zM0 111h1v1h-1zM39 111h1v1h-1zM43 111h1v1h-1zM45 111h1v1h-1z"/>
<path fill="#41c8f0" d="M15 33h1v1h-1zM24 34h1v1h-1zM37 54h1v1h-1zM33 56h1v1h-1zM46 78h1v1h-1zM48 78h1v1h-1zM51 82h1v1h-1zM37 85h1v1h-1zM44 87h1v1h-1zM45 94h1v1h-1zM45 98h1v1h-1z"/>
<path fill="#46d2e6" d="M17 33h1v1h-1zM25 42h1v1h-1zM23 43h1v1h-1zM28 53h1v1h-1zM34 63h1v1h-1zM39 68h1v1h-1zM39 75h1v1h-1zM5 78h1v1h-1zM41 81h1v1h-1zM41 83h1v1h-1zM50 86h1v1h-1zM38 88h1v1h-1zM46 90h1v1h-1zM37 93h1v1h-1zM44 94h1v1h-1zM8 97h1v1h-1zM42 100h1v1h-1zM37 101h1v1h-1z"/>
<path fill="#3cc3f0" d="M20 33h1v1h-1zM24 41h1v1h-1zM35 51h1v1h-1zM54 67h1v1h-1zM46 73h1v1h-1zM56 73h1v1h-1zM48 83h1v1h-1zM51 88h1v1h-1zM49 90h2v1h-2zM49 98h1v1h-1z"/>
<path fill="#46cde6" d="M18 34h1v1h-1zM22 34h1v1h-1zM14 35h1v1h-1zM20 36h1v1h-1zM14 37h1v1h-1zM18 37h1v1h-1zM18 38h1v1h-1zM22 38h1v1h-1zM25 39h1v1h-1zM29 39h1v1h-1zM20 40h1v1h-1zM26 40h1v1h-1zM22 41h1v1h-1zM28 41h1v1h-1zM24 42h1v1h-1zM29 42h1v1h-1zM22 44h1v1h-1zM24 44h1v1h-1zM28 45h1v1h-1zM34 50h1v1h-1zM40 52h1v1h-1zM30 53h1v1h-1zM29 54h1v1h-1zM35 54h1v1h-1zM32 56h1v1h-1zM37 56h1v1h-1zM41 56h1v1h-1zM33 57h1v1h-1zM40 58h1v1h-1zM33 59h1v1h-1zM37 60h2v1h-2zM44 60h1v1h-1zM53 61h1v1h-1zM47 62h1v1h-1zM56 62h1v1h-1zM41 63h2v1h-2zM36 64h1v1h-1zM40 64h1v1h-1zM47 64h1v1h-1zM49 64h1v1h-1zM54 64h1v1h-1zM37 65h1v1h-1zM38 67h2v1h-2zM46 67h1v1h-1zM44 69h2v1h-2zM53 69h1v1h-1zM43 70h1v1h-1zM46 71h1v1h-1zM42 73h1v1h-1zM59 73h1v1h-1zM43 75h2v1h-2zM39 76h1v1h-1zM44 77h1v1h-1zM52 77h1v1h-1zM6 78h1v1h-1zM40 80h1v1h-1zM43 80h1v1h-1zM45 80h1v1h-1zM35 81h1v1h-1zM44 81h1v1h-1zM47 82h1v1h-1zM49 82h1v1h-1zM37 83h1v1h-1zM43 83h1v1h-1zM7 84h1v1h-1zM45 84h2v1h-2zM7 85h1v1h-1zM44 85h1v1h-1zM46 85h1v1h-1zM35 86h1v1h-1zM46 86h1v1h-1zM37 87h1v1h-1zM44 88h1v1h-1zM40 90h1v1h-1zM55 90h1v1h-1zM49 91h1v1h-1zM43 92h2v1h-2zM8 94h1v1h-1zM35 94h1v1h-1zM49 96h1v1h-1zM40 98h2v1h-2zM53 98h1v1h-1zM39 102h1v1h-1zM51 102h1v1h-1zM39 103h1v1h-1zM43 104h1v1h-1zM48 104h1v1h-1zM44 105h1v1h-1zM41 106h1v1h-1zM49 106h1v1h-1zM46 107h1v1h-1zM42 108h1v1h-1zM45 108h1v1h-1zM41 109h1v1h-1zM7 110h1v1h-1zM45 110h1v1h-1z"/>
<path fill="#41c8eb" d="M19 34h1v1h-1zM18 35h1v1h-1zM23 36h1v1h-1zM26 37h1v1h-1zM27 40h1v1h-1zM27 49h1v1h-1zM30 49h1v1h-1zM29 51h1v1h-1zM55 53h1v1h-1zM48 56h1v1h-1zM40 57h1v1h-1zM42 57h1v1h-1zM45 57h1v1h-1zM32 58h1v1h-1zM58 58h1v1h-1zM31 59h1v1h-1zM41 59h1v1h-1zM50 60h1v1h-1zM55 60h1v1h-1zM39 61h1v1h-1zM42 62h1v1h-1zM39 63h1v1h-1zM51 64h1v1h-1zM55 64h1v1h-1zM47 66h1v1h-1zM50 66h1v1h-1zM59 66h1v1h-1zM40 67h1v1h-1zM42 67h1v1h-1zM48 67h1v1h-1zM46 69h1v1h-1zM48 69h1v1h-1zM45 70h1v1h-1zM47 72h1v1h-1zM54 72h2v1h-2zM54 77h1v1h-1zM44 79h1v1h-1zM49 83h1v1h-1zM40 84h1v1h-1zM40 85h1v1h-1zM44 86h1v1h-1zM52 87h1v1h-1zM38 89h1v1h-1zM45 90h1v1h-1zM40 91h1v1h-1zM50 92h1v1h-1zM51 93h1v1h-1zM40 94h1v1h-1zM48 97h1v1h-1zM47 98h1v1h-1zM38 99h1v1h-1zM40 99h1v1h-1zM43 102h1v1h-1zM47 102h1v1h-1zM49 103h1v1h-1zM48 105h1v1h-1zM40 106h1v1h-1zM44 106h1v1h-1zM49 108h1v1h-1zM45 109h2v1h-2zM44 110h1v1h-1zM47 110h1v1h-1zM49 110h1v1h-1zM37 111h1v1h-1z"/>
<path fill="#50d2dc" d="M13 35h1v1h-1zM26 54h1v1h-1zM37 62h1v1h-1zM46 101h1v1h-1zM47 104h1v1h-1z"/>
<path fill="#50d7dc" d="M15 35h1v1h-1zM20 38h1v1h-1zM16 39h1v1h-1zM22 40h1v1h-1zM27 41h1v1h-1zM23 42h1v1h-1zM26 43h1v1h-1zM26 44h1v1h-1zM59 44h1v1h-1zM27 48h1v1h-1zM28 50h1v1h-1zM25 51h1v1h-1zM26 52h1v1h-1zM28 55h2v1h-2zM31 56h1v1h-1zM31 57h1v1h-1zM37 59h1v1h-1zM35 62h1v1h-1zM35 63h1v1h-1zM38 64h1v1h-1zM36 65h1v1h-1zM37 67h1v1h-1zM38 68h1v1h-1zM36 69h1v1h-1zM40 72h1v1h-1zM37 74h1v1h-1zM42 76h1v1h-1zM43 77h1v1h-1zM43 78h1v1h-1zM45 78h1v1h-1zM37 79h1v1h-1zM34 80h1v1h-1zM38 80h1v1h-1zM44 80h1v1h-1zM7 82h1v1h-1zM35 85h1v1h-1zM38 86h1v1h-1zM36 88h1v1h-1zM34 89h1v1h-1zM39 89h2v1h-2zM35 90h1v1h-1zM34 92h1v1h-1zM36 94h1v1h-1zM34 95h1v1h-1zM38 95h1v1h-1zM41 97h1v1h-1zM39 98h1v1h-1zM34 99h1v1h-1zM44 99h1v1h-1zM35 100h1v1h-1zM38 100h1v1h-1zM43 100h1v1h-1zM38 101h1v1h-1zM42 101h1v1h-1zM38 102h1v1h-1zM40 102h1v1h-1zM38 104h1v1h-1zM44 104h1v1h-1zM8 105h1v1h-1zM37 105h1v1h-1zM35 108h1v1h-1zM35 109h1v1h-1zM43 109h1v1h-1zM39 110h1v1h-1z"/>
<path fill="#41cdeb" d="M16 35h1v1h-1zM24 35h1v1h-1zM25 36h1v1h-1zM28 36h1v1h-1zM19 37h1v1h-1zM21 37h1v1h-1zM23 37h1v1h-1zM27 37h1v1h-1zM26 39h1v1h-1zM25 45h1v1h-1zM33 48h1v1h-1zM28 49h1v1h-1zM36 53h1v1h-1zM59 54h1v1h-1zM32 55h1v1h-1zM36 55h1v1h-1zM34 57h2v1h-2zM44 57h1v1h-1zM45 59h1v1h-1zM58 59h1v1h-1zM33 60h1v1h-1zM35 61h1v1h-1zM55 62h1v1h-1zM49 63h1v1h-1zM50 65h1v1h-1zM42 66h1v1h-1zM49 66h1v1h-1zM45 67h1v1h-1zM43 68h1v1h-1zM53 68h1v1h-1zM41 69h1v1h-1zM43 69h1v1h-1zM55 70h1v1h-1zM45 71h1v1h-1zM52 71h1v1h-1zM48 72h1v1h-1zM40 73h1v1h-1zM51 73h1v1h-1zM41 75h1v1h-1zM50 75h1v1h-1zM5 76h1v1h-1zM44 76h1v1h-1zM49 77h1v1h-1zM40 78h1v1h-1zM42 79h1v1h-1zM48 79h2v1h-2zM49 80h1v1h-1zM55 80h1v1h-1zM59 80h1v1h-1zM40 81h1v1h-1zM45 81h1v1h-1zM51 81h1v1h-1zM45 82h1v1h-1zM45 83h1v1h-1zM41 84h1v1h-1zM43 84h1v1h-1zM36 85h1v1h-1zM39 86h1v1h-1zM55 86h1v1h-1zM46 87h1v1h-1zM41 88h1v1h-1zM46 88h1v1h-1zM33 89h1v1h-1zM36 90h1v1h-1zM43 91h1v1h-1zM40 93h1v1h-1zM41 95h1v1h-1zM43 95h1v1h-1zM45 95h1v1h-1zM44 96h1v1h-1zM40 97h1v1h-1zM49 97h1v1h-1zM38 98h1v1h-1zM51 99h1v1h-1zM49 100h1v1h-1zM44 101h1v1h-1zM48 103h1v1h-1zM8 104h1v1h-1zM41 104h2v1h-2zM45 105h2v1h-2zM35 106h1v1h-1zM7 107h1v1h-1zM50 108h1v1h-1zM49 109h1v1h-1zM43 110h1v1h-1zM46 111h1v1h-1z"/>
<path fill="#5adcd2" d="M17 35h1v1h-1zM17 36h1v1h-1zM23 39h1v1h-1zM22 42h1v1h-1zM30 56h1v1h-1zM34 66h1v1h-1zM39 66h1v1h-1zM37 68h1v1h-1zM37 73h2v1h-2zM5 75h1v1h-1zM36 77h1v1h-1zM35 79h1v1h-1zM32 81h1v1h-1zM33 83h1v1h-1zM35 83h2v1h-2zM34 84h1v1h-1zM41 91h1v1h-1zM33 92h1v1h-1zM36 93h1v1h-1zM37 94h1v1h-1zM45 97h1v1h-1zM9 100h1v1h-1zM34 102h1v1h-1zM34 104h1v1h-1zM36 104h1v1h-1zM8 107h1v1h-1zM36 107h1v1h-1zM8 108h1v1h-1zM9 109h1v1h-1zM37 109h1v1h-1z"/>
<path fill="#46cdeb" d="M19 35h1v1h-1zM19 36h1v1h-1zM33 52h1v1h-1zM30 54h1v1h-1zM31 55h1v1h-1zM37 55h1v1h-1zM42 72h1v1h-1zM42 80h1v1h-1zM48 86h1v1h-1zM44 90h1v1h-1zM38 93h1v1h-1zM41 93h1v1h-1zM42 105h1v1h-1zM41 107h1v1h-1z"/>
<path fill="#55dcd7" d="M13 36h1v1h-1zM23 41h1v1h-1zM26 48h1v1h-1zM35 60h1v1h-1zM35 64h1v1h-1zM37 64h1v1h-1zM40 71h1v1h-1zM38 79h1v1h-1zM34 87h1v1h-1zM32 90h1v1h-1zM38 90h1v1h-1zM47 95h1v1h-1zM34 97h1v1h-1zM34 100h1v1h-1zM36 102h1v1h-1zM33 104h1v1h-1zM40 105h1v1h-1zM41 111h1v1h-1z"/>
<path fill="#5adcd7" d="M14 36h1v1h-1zM19 40h1v1h-1zM27 52h1v1h-1zM28 54h1v1h-1zM26 55h1v1h-1zM33 55h1v1h-1zM29 56h1v1h-1zM32 63h1v1h-1zM41 68h1v1h-1zM46 68h1v1h-1zM40 69h1v1h-1zM41 70h1v1h-1zM39 71h1v1h-1zM51 75h1v1h-1zM6 76h1v1h-1zM38 76h1v1h-1zM6 77h1v1h-1zM6 79h1v1h-1zM39 80h1v1h-1zM37 81h2v1h-2zM36 82h1v1h-1zM7 83h1v1h-1zM35 84h1v1h-1zM45 85h1v1h-1zM37 86h1v1h-1zM35 88h1v1h-1zM38 91h1v1h-1zM35 95h1v1h-1zM35 96h1v1h-1zM31 97h1v1h-1zM46 97h1v1h-1zM35 101h1v1h-1zM35 103h2v1h-2zM39 106h1v1h-1zM39 109h1v1h-1z"/>
<path fill="#55d7d7" d="M18 36h1v1h-1zM21 40h1v1h-1zM28 43h1v1h-1zM25 46h1v1h-1zM25 49h1v1h-1zM26 51h1v1h-1zM30 58h2v1h-2zM32 60h1v1h-1zM33 61h1v1h-1zM36 67h1v1h-1zM39 70h1v1h-1zM44 73h1v1h-1zM38 74h1v1h-1zM39 79h1v1h-1zM36 81h1v1h-1zM41 82h1v1h-1zM37 84h1v1h-1zM44 84h1v1h-1zM42 85h1v1h-1zM32 89h1v1h-1zM37 90h1v1h-1zM37 91h1v1h-1zM37 92h1v1h-1zM35 93h1v1h-1zM32 95h1v1h-1zM37 96h1v1h-1zM36 97h1v1h-1zM37 98h1v1h-1zM37 103h1v1h-1zM44 103h1v1h-1zM39 105h1v1h-1zM34 106h1v1h-1zM37 106h1v1h-1zM34 107h1v1h-1zM38 107h1v1h-1zM34 110h1v1h-1zM38 110h1v1h-1zM35 111h1v1h-1z"/>
<path fill="#55d7dc" d="M13 37h1v1h-1zM26 41h1v1h-1zM20 42h1v1h-1zM25 48h1v1h-1zM30 59h1v1h-1zM36 63h1v1h-1zM35 65h1v1h-1zM41 67h1v1h-1zM42 69h1v1h-1zM37 71h1v1h-1zM41 71h1v1h-1zM37 75h2v1h-2zM39 77h1v1h-1zM47 77h1v1h-1zM43 82h1v1h-1zM8 85h1v1h-1zM42 86h1v1h-1zM39 87h1v1h-1zM43 89h1v1h-1zM8 91h1v1h-1zM34 93h1v1h-1zM36 95h1v1h-1zM39 100h1v1h-1zM39 104h1v1h-1zM39 107h1v1h-1zM45 107h1v1h-1zM39 108h1v1h-1zM40 111h1v1h-1z"/>
<path fill="#50d2e1" d="M16 37h1v1h-1zM21 38h1v1h-1zM20 41h1v1h-1zM26 46h1v1h-1zM29 53h1v1h-1zM38 65h1v1h-1zM44 67h1v1h-1zM42 81h1v1h-1zM49 81h1v1h-1zM39 82h2v1h-2zM34 83h1v1h-1zM8 84h1v1h-1zM39 84h1v1h-1zM47 85h1v1h-1zM40 86h1v1h-1zM42 92h1v1h-1zM42 93h1v1h-1zM41 94h1v1h-1zM40 100h2v1h-2zM33 101h1v1h-1zM48 101h1v1h-1zM42 103h1v1h-1zM37 108h1v1h-1zM42 110h1v1h-1zM44 111h1v1h-1z"/>
<path fill="#4bd2e1" d="M17 37h1v1h-1zM23 38h1v1h-1zM19 39h1v1h-1zM22 39h1v1h-1zM28 39h1v1h-1zM23 40h2v1h-2zM21 41h1v1h-1zM21 43h1v1h-1zM25 44h1v1h-1zM27 45h1v1h-1zM26 49h1v1h-1zM31 51h1v1h-1zM30 52h1v1h-1zM27 54h1v1h-1zM32 54h1v1h-1zM38 55h1v1h-1zM34 56h1v1h-1zM28 57h3v1h-3zM43 58h1v1h-1zM38 63h1v1h-1zM34 64h1v1h-1zM41 64h1v1h-1zM36 66h1v1h-1zM40 68h1v1h-1zM42 68h1v1h-1zM42 70h1v1h-1zM44 72h2v1h-2zM5 73h1v1h-1zM42 74h1v1h-1zM45 75h1v1h-1zM40 76h1v1h-1zM45 76h1v1h-1zM51 76h1v1h-1zM5 77h1v1h-1zM38 77h1v1h-1zM42 78h1v1h-1zM40 79h1v1h-1zM52 79h1v1h-1zM7 81h1v1h-1zM46 81h1v1h-1zM38 82h1v1h-1zM44 82h1v1h-1zM48 82h1v1h-1zM38 83h1v1h-1zM49 87h1v1h-1zM39 88h1v1h-1zM35 89h1v1h-1zM49 89h2v1h-2zM33 90h1v1h-1zM42 90h1v1h-1zM39 91h1v1h-1zM8 92h1v1h-1zM36 92h1v1h-1zM39 92h3v1h-3zM8 93h1v1h-1zM45 93h1v1h-1zM42 95h1v1h-1zM40 96h1v1h-1zM42 96h1v1h-1zM37 97h1v1h-1zM39 97h1v1h-1zM35 98h1v1h-1zM35 99h1v1h-1zM43 99h1v1h-1zM36 100h1v1h-1zM39 101h2v1h-2zM41 102h2v1h-2zM43 103h1v1h-1zM49 104h1v1h-1zM38 105h1v1h-1zM33 106h1v1h-1zM38 106h1v1h-1zM41 108h1v1h-1zM44 108h1v1h-1zM48 108h1v1h-1zM0 110h1v1h-1zM8 110h1v1h-1zM38 111h1v1h-1z"/>
<path fill="#82e6b4" d="M12 38h1v1h-1zM13 40h1v1h-1zM16 41h1v1h-1zM15 42h1v1h-1zM19 42h1v1h-1zM19 44h2v1h-2zM17 45h1v1h-1zM19 45h1v1h-1zM21 45h1v1h-1zM22 46h1v1h-1zM26 56h1v1h-1zM28 58h1v1h-1zM32 61h1v1h-1zM31 62h1v1h-1zM34 62h1v1h-1zM30 63h1v1h-1zM32 65h1v1h-1zM35 69h1v1h-1zM33 70h1v1h-1zM36 72h1v1h-1zM35 74h1v1h-1zM30 77h1v1h-1zM32 77h1v1h-1zM34 77h1v1h-1zM7 78h1v1h-1zM7 80h1v1h-1zM31 86h1v1h-1zM34 86h1v1h-1zM8 87h1v1h-1zM31 89h1v1h-1zM9 90h1v1h-1zM30 92h1v1h-1zM9 99h1v1h-1zM31 103h1v1h-1zM9 104h1v1h-1zM32 105h1v1h-1zM36 110h1v1h-1zM36 111h1v1h-1z"/>
<path fill="#6ee1c8" d="M13 38h1v1h-1zM33 62h1v1h-1zM38 78h1v1h-1z"/>
<path fill="#78e1be" d="M14 38h1v1h-1zM12 40h1v1h-1zM15 40h1v1h-1zM17 43h1v1h-1zM33 64h1v1h-1zM33 66h1v1h-1zM33 72h1v1h-1zM6 74h1v1h-1zM34 74h1v1h-1zM35 75h1v1h-1zM34 78h1v1h-1zM35 80h1v1h-1zM8 83h1v1h-1zM9 92h1v1h-1zM31 98h1v1h-1zM31 100h1v1h-1zM31 101h1v1h-1zM34 101h1v1h-1zM9 102h1v1h-1z"/>
<path fill="#64dccd" d="M15 38h1v1h-1zM13 39h1v1h-1zM14 40h1v1h-1zM22 43h1v1h-1zM23 45h1v1h-1zM24 50h1v1h-1zM25 52h1v1h-1zM25 54h1v1h-1zM27 55h1v1h-1zM29 58h1v1h-1zM37 66h1v1h-1zM40 66h1v1h-1zM38 70h1v1h-1zM40 70h1v1h-1zM35 73h1v1h-1zM36 74h1v1h-1zM40 74h1v1h-1zM35 76h1v1h-1zM40 77h1v1h-1zM35 78h1v1h-1zM37 78h1v1h-1zM39 78h1v1h-1zM33 80h1v1h-1zM33 82h2v1h-2zM36 84h1v1h-1zM34 85h1v1h-1zM39 85h1v1h-1zM35 87h1v1h-1zM41 89h1v1h-1zM39 90h1v1h-1zM35 91h1v1h-1zM35 92h1v1h-1zM34 94h1v1h-1zM39 95h1v1h-1zM36 96h1v1h-1zM33 98h2v1h-2zM36 98h1v1h-1zM31 102h1v1h-1zM33 102h1v1h-1zM41 105h1v1h-1zM36 106h1v1h-1zM38 108h1v1h-1zM36 109h1v1h-1zM38 109h1v1h-1zM42 109h1v1h-1zM34 111h1v1h-1zM42 111h1v1h-1z"/>
<path fill="#7de1b9" d="M16 38h2v1h-2zM13 41h1v1h-1zM17 41h1v1h-1zM18 42h1v1h-1zM26 53h1v1h-1zM28 60h1v1h-1zM30 60h1v1h-1zM28 61h1v1h-1zM30 61h1v1h-1zM32 64h1v1h-1zM35 70h1v1h-1zM37 70h1v1h-1zM6 75h1v1h-1zM33 75h1v1h-1zM36 75h1v1h-1zM37 77h1v1h-1zM33 78h1v1h-1zM34 79h1v1h-1zM33 81h1v1h-1zM32 86h2v1h-2zM32 88h1v1h-1zM30 93h1v1h-1zM32 94h1v1h-1zM30 95h1v1h-1zM9 96h1v1h-1zM34 96h1v1h-1zM33 97h1v1h-1zM30 99h1v1h-1zM29 100h1v1h-1zM32 100h1v1h-1zM32 103h1v1h-1zM34 103h1v1h-1zM32 107h1v1h-1zM32 109h1v1h-1zM34 109h1v1h-1z"/>
<path fill="#69e1c8" d="M19 38h1v1h-1zM14 39h1v1h-1zM25 40h1v1h-1zM24 49h1v1h-1zM39 60h1v1h-1zM33 65h1v1h-1zM34 67h1v1h-1zM39 69h1v1h-1zM34 71h1v1h-1zM38 71h1v1h-1zM37 72h1v1h-1zM39 73h1v1h-1zM5 74h1v1h-1zM39 74h1v1h-1zM36 76h1v1h-1zM36 79h1v1h-1zM37 80h1v1h-1zM42 82h1v1h-1zM32 83h1v1h-1zM8 86h1v1h-1zM36 86h1v1h-1zM32 87h1v1h-1zM8 88h1v1h-1zM37 88h1v1h-1zM34 91h1v1h-1zM9 93h1v1h-1zM31 96h1v1h-1zM32 97h1v1h-1zM36 99h1v1h-1zM41 99h1v1h-1zM33 100h1v1h-1zM37 100h1v1h-1zM40 103h1v1h-1zM35 104h1v1h-1zM35 105h1v1h-1zM37 107h1v1h-1zM40 108h1v1h-1zM37 110h1v1h-1z"/>
<path fill="#91e6aa" d="M12 39h1v1h-1zM14 42h1v1h-1zM13 43h1v1h-1zM16 43h1v1h-1zM17 44h1v1h-1zM26 50h1v1h-1zM32 66h1v1h-1zM32 79h2v1h-2zM8 81h1v1h-1zM30 83h1v1h-1zM31 84h2v1h-2zM30 86h1v1h-1zM29 91h1v1h-1zM30 94h1v1h-1zM29 101h2v1h-2zM30 105h1v1h-1zM29 107h1v1h-1zM29 111h1v1h-1z"/>
<path fill="#6ee1c3" d="M15 39h1v1h-1zM16 40h1v1h-1zM18 43h1v1h-1zM20 45h1v1h-1zM24 53h1v1h-1zM31 54h1v1h-1zM31 61h1v1h-1zM28 62h1v1h-1zM33 63h1v1h-1zM31 64h1v1h-1zM35 66h1v1h-1zM38 66h1v1h-1zM36 68h1v1h-1zM37 69h1v1h-1zM36 71h1v1h-1zM36 73h1v1h-1zM37 76h1v1h-1zM35 77h1v1h-1zM36 78h1v1h-1zM38 85h1v1h-1zM33 87h1v1h-1zM38 87h1v1h-1zM33 88h2v1h-2zM8 89h1v1h-1zM32 92h1v1h-1zM33 93h1v1h-1zM31 94h1v1h-1zM35 97h1v1h-1zM9 98h1v1h-1zM36 101h1v1h-1zM33 103h1v1h-1zM9 105h1v1h-1zM9 106h1v1h-1zM31 106h2v1h-2z"/>
<path fill="#78e1b9" d="M17 39h1v1h-1zM19 41h1v1h-1zM22 45h1v1h-1zM26 58h1v1h-1zM29 59h1v1h-1zM31 60h1v1h-1zM35 82h1v1h-1zM32 93h1v1h-1zM33 99h1v1h-1zM29 103h1v1h-1z"/>
<path fill="#4bd2e6" d="M18 39h1v1h-1zM24 43h1v1h-1zM27 50h1v1h-1zM28 51h1v1h-1zM35 58h1v1h-1zM34 59h1v1h-1zM38 62h1v1h-1zM45 65h1v1h-1zM53 73h1v1h-1zM46 76h1v1h-1zM6 80h1v1h-1zM41 80h1v1h-1zM43 81h1v1h-1zM37 82h1v1h-1zM38 84h1v1h-1zM7 90h1v1h-1zM46 93h1v1h-1zM38 94h1v1h-1zM8 96h1v1h-1zM38 96h1v1h-1zM36 105h1v1h-1zM8 106h1v1h-1zM7 111h2v1h-2zM47 111h1v1h-1z"/>
<path fill="#5fdccd" d="M21 39h1v1h-1zM17 40h1v1h-1zM18 41h1v1h-1zM17 42h1v1h-1zM24 45h1v1h-1zM25 50h1v1h-1zM27 51h1v1h-1zM27 56h1v1h-1zM37 63h1v1h-1zM34 81h1v1h-1zM33 95h1v1h-1zM37 95h1v1h-1zM38 97h1v1h-1zM9 101h1v1h-1zM32 102h1v1h-1zM35 102h1v1h-1zM37 102h1v1h-1zM31 107h1v1h-1zM31 111h1v1h-1z"/>
<path fill="#37c3f0" d="M24 39h1v1h-1zM25 41h1v1h-1zM27 46h1v1h-1zM30 46h1v1h-1zM29 48h1v1h-1zM38 50h1v1h-1zM34 52h1v1h-1zM35 53h1v1h-1zM59 53h1v1h-1zM33 54h1v1h-1zM59 61h1v1h-1zM50 63h1v1h-1zM48 64h1v1h-1zM49 65h1v1h-1zM48 68h1v1h-1zM54 69h1v1h-1zM54 71h1v1h-1zM55 76h1v1h-1zM50 77h1v1h-1zM6 81h1v1h-1zM57 82h1v1h-1zM51 83h1v1h-1zM56 84h1v1h-1zM7 87h1v1h-1zM40 87h1v1h-1zM50 88h1v1h-1zM49 92h1v1h-1zM37 99h1v1h-1zM56 102h1v1h-1zM47 103h1v1h-1zM40 104h1v1h-1zM43 106h1v1h-1zM50 106h1v1h-1zM55 108h1v1h-1zM49 111h1v1h-1z"/>
<path fill="#73e1be" d="M18 40h1v1h-1zM14 41h2v1h-2zM24 46h1v1h-1zM25 47h1v1h-1zM25 55h1v1h-1zM25 56h1v1h-1zM29 60h1v1h-1zM32 62h1v1h-1zM35 67h1v1h-1zM36 70h1v1h-1zM34 72h1v1h-1zM31 85h1v1h-1zM8 90h1v1h-1zM31 91h2v1h-2zM36 91h1v1h-1zM32 99h1v1h-1zM9 103h1v1h-1zM30 103h1v1h-1zM31 104h1v1h-1zM33 105h1v1h-1zM36 108h1v1h-1zM8 109h1v1h-1zM35 110h1v1h-1zM32 111h1v1h-1z"/>
<path fill="#87e6af" d="M12 41h1v1h-1zM14 45h1v1h-1zM21 46h1v1h-1zM23 46h1v1h-1zM22 47h2v1h-2zM24 48h1v1h-1zM27 53h1v1h-1zM27 59h2v1h-2zM34 69h1v1h-1zM34 70h1v1h-1zM33 71h1v1h-1zM31 83h1v1h-1zM9 91h1v1h-1zM33 91h1v1h-1zM31 92h1v1h-1zM30 102h1v1h-1zM32 104h1v1h-1zM31 108h2v1h-2zM9 110h1v1h-1zM9 111h1v1h-1z"/>
<path fill="#b9f096" d="M12 42h1v1h-1zM24 51h1v1h-1zM24 55h1v1h-1zM25 59h1v1h-1zM27 60h1v1h-1zM6 72h1v1h-1zM9 86h1v1h-1zM27 90h1v1h-1zM27 99h1v1h-1zM27 100h2v1h-2z"/>
<path fill="#a5eba0" d="M13 42h1v1h-1zM11 43h1v1h-1zM14 46h1v1h-1zM23 51h1v1h-1zM23 52h1v1h-1zM29 62h1v1h-1zM31 66h1v1h-1zM31 67h1v1h-1zM33 67h1v1h-1zM32 74h1v1h-1zM31 78h1v1h-1zM31 81h1v1h-1zM9 89h1v1h-1zM30 107h1v1h-1zM28 109h1v1h-1zM29 110h1v1h-1z"/>
<path fill="#73e1c3" d="M16 42h1v1h-1zM35 71h1v1h-1zM5 72h1v1h-1zM35 72h1v1h-1zM32 82h1v1h-1zM31 88h1v1h-1zM30 89h1v1h-1zM37 89h1v1h-1zM9 97h1v1h-1zM34 105h1v1h-1zM40 110h1v1h-1z"/>
<path fill="#5fdcd2" d="M21 42h1v1h-1zM19 43h1v1h-1zM21 44h1v1h-1zM23 44h1v1h-1zM30 55h1v1h-1zM28 56h1v1h-1zM37 61h1v1h-1zM36 62h1v1h-1zM34 65h1v1h-1zM43 71h1v1h-1zM34 75h1v1h-1zM34 76h1v1h-1zM36 80h1v1h-1zM39 81h1v1h-1zM33 85h1v1h-1zM36 87h1v1h-1zM33 94h1v1h-1zM32 98h1v1h-1zM32 101h1v1h-1zM38 103h1v1h-1zM34 108h1v1h-1zM32 110h1v1h-1zM41 110h1v1h-1zM46 110h1v1h-1z"/>
<path fill="#9beba5" d="M12 43h1v1h-1zM20 47h1v1h-1zM30 62h1v1h-1zM33 73h1v1h-1zM33 74h1v1h-1zM31 80h1v1h-1zM8 82h1v1h-1zM9 94h1v1h-1zM28 94h1v1h-1zM30 96h1v1h-1zM29 102h1v1h-1z"/>
<path fill="#96e6a5" d="M14 43h1v1h-1zM18 44h1v1h-1zM19 46h1v1h-1zM24 54h1v1h-1zM27 57h1v1h-1zM27 58h1v1h-1zM27 61h1v1h-1zM35 68h1v1h-1zM33 69h1v1h-1zM29 81h1v1h-1zM30 88h1v1h-1zM28 90h1v1h-1zM34 90h1v1h-1zM28 95h1v1h-1zM32 96h1v1h-1zM30 111h1v1h-1z"/>
<path fill="#afeb9b" d="M15 43h1v1h-1zM18 45h1v1h-1zM19 47h1v1h-1zM24 57h2v1h-2zM26 61h1v1h-1zM29 61h1v1h-1zM6 71h1v1h-1zM7 77h1v1h-1zM30 78h1v1h-1zM29 92h1v1h-1zM28 96h1v1h-1zM30 104h1v1h-1zM30 106h1v1h-1z"/>
<path fill="#87e6b4" d="M20 43h1v1h-1zM23 48h1v1h-1z"/>
<path fill="#b9f091" d="M11 44h1v1h-1zM23 55h1v1h-1zM27 62h1v1h-1zM31 71h1v1h-1zM31 75h1v1h-1zM29 96h1v1h-1zM28 103h1v1h-1z"/>
<path fill="#aaeb9b" d="M12 44h1v1h-1zM16 45h1v1h-1zM20 46h1v1h-1zM17 47h1v1h-1zM22 48h1v1h-1zM22 50h1v1h-1zM24 58h1v1h-1zM29 64h1v1h-1zM29 65h1v1h-1zM31 65h1v1h-1zM6 73h1v1h-1zM32 76h1v1h-1zM31 79h1v1h-1zM29 83h1v1h-1zM30 84h1v1h-1zM9 85h1v1h-1zM29 86h1v1h-1zM28 87h1v1h-1zM28 91h1v1h-1zM29 93h1v1h-1zM27 98h1v1h-1zM30 98h1v1h-1zM10 102h1v1h-1z"/>
<path fill="#c3f08c" d="M13 44h1v1h-1zM15 44h1v1h-1zM13 46h1v1h-1zM15 46h1v1h-1zM19 48h1v1h-1zM23 53h1v1h-1zM23 57h1v1h-1zM26 59h1v1h-1zM30 66h1v1h-1zM31 70h1v1h-1zM32 72h1v1h-1zM30 73h1v1h-1zM32 75h1v1h-1zM7 76h1v1h-1zM31 76h1v1h-1zM28 77h1v1h-1zM28 78h2v1h-2zM28 79h1v1h-1zM29 85h1v1h-1zM27 88h1v1h-1zM25 95h2v1h-2zM26 102h1v1h-1zM10 105h1v1h-1zM27 106h1v1h-1zM27 107h1v1h-1zM27 110h1v1h-1z"/>
<path fill="#8ce6aa" d="M14 44h1v1h-1zM33 68h2v1h-2zM31 72h1v1h-1zM33 77h1v1h-1zM7 79h1v1h-1zM32 80h1v1h-1zM30 87h1v1h-1zM31 93h1v1h-1zM29 99h1v1h-1zM9 107h1v1h-1zM9 108h1v1h-1z"/>
<path fill="#8ce6af" d="M16 44h1v1h-1zM21 47h1v1h-1zM31 77h1v1h-1zM33 84h1v1h-1zM31 90h1v1h-1zM33 96h1v1h-1zM29 105h1v1h-1z"/>
<path fill="#dcf07d" d="M11 45h1v1h-1zM11 46h2v1h-2zM15 48h2v1h-2zM17 49h1v1h-1zM18 51h2v1h-2zM20 52h1v1h-1zM22 55h1v1h-1zM28 66h1v1h-1zM6 68h1v1h-1zM30 68h1v1h-1zM7 71h1v1h-1zM27 78h1v1h-1zM26 81h1v1h-1zM26 85h1v1h-1zM10 89h1v1h-1zM26 92h1v1h-1zM26 94h1v1h-1zM10 95h1v1h-1zM25 96h1v1h-1zM26 98h1v1h-1zM26 99h1v1h-1zM25 103h1v1h-1zM24 104h1v1h-1zM26 107h1v1h-1zM10 108h1v1h-1z"/>
<path fill="#cdf087" d="M12 45h2v1h-2zM15 45h1v1h-1zM14 47h2v1h-2zM20 49h1v1h-1zM22 52h1v1h-1zM28 63h1v1h-1zM28 64h1v1h-1zM30 65h1v1h-1zM29 66h1v1h-1zM31 68h1v1h-1zM30 69h1v1h-1zM6 70h1v1h-1zM30 71h1v1h-1zM30 72h1v1h-1zM30 74h1v1h-1zM30 75h1v1h-1zM29 76h1v1h-1zM8 78h1v1h-1zM30 81h1v1h-1zM27 83h1v1h-1zM9 84h1v1h-1zM27 94h1v1h-1zM28 98h1v1h-1zM26 100h1v1h-1zM10 101h1v1h-1zM26 101h1v1h-1zM25 102h1v1h-1zM27 102h1v1h-1zM10 104h1v1h-1zM26 104h1v1h-1zM24 106h1v1h-1zM27 108h1v1h-1zM10 109h1v1h-1zM10 111h1v1h-1zM27 111h1v1h-1z"/>
<path fill="#afeb96" d="M16 46h2v1h-2zM23 49h1v1h-1zM24 52h1v1h-1zM32 69h1v1h-1zM32 71h1v1h-1zM30 80h1v1h-1zM30 97h1v1h-1zM30 100h1v1h-1zM28 106h1v1h-1z"/>
<path fill="#b4eb96" d="M18 46h1v1h-1zM24 56h1v1h-1zM32 67h1v1h-1zM31 73h1v1h-1zM31 74h1v1h-1zM9 83h1v1h-1zM29 87h1v1h-1zM9 88h1v1h-1zM29 89h1v1h-1zM10 98h1v1h-1zM27 104h2v1h-2zM31 109h1v1h-1z"/>
<path fill="#37b9f5" d="M28 46h1v1h-1zM26 47h1v1h-1zM35 52h2v1h-2zM49 61h1v1h-1zM43 67h1v1h-1zM53 82h1v1h-1zM6 86h1v1h-1zM41 86h1v1h-1zM44 89h1v1h-1zM55 89h1v1h-1zM48 93h1v1h-1zM50 93h1v1h-1zM45 100h1v1h-1zM51 108h1v1h-1zM1 110h1v1h-1z"/>
<path fill="#ebeb6e" d="M10 47h1v1h-1zM11 48h1v1h-1zM13 48h1v1h-1zM12 49h1v1h-1zM12 50h1v1h-1zM17 50h1v1h-1zM16 51h2v1h-2zM23 58h1v1h-1zM26 64h1v1h-1zM28 67h1v1h-1zM28 70h1v1h-1zM27 74h1v1h-1zM27 76h1v1h-1zM25 78h1v1h-1zM25 79h2v1h-2zM25 80h1v1h-1zM10 82h1v1h-1zM25 82h2v1h-2zM10 87h1v1h-1zM25 87h1v1h-1zM25 89h1v1h-1zM24 91h1v1h-1zM25 92h1v1h-1zM23 93h1v1h-1zM25 93h1v1h-1zM11 100h1v1h-1zM24 108h1v1h-1zM25 110h1v1h-1z"/>
<path fill="#dcf078" d="M11 47h1v1h-1zM15 49h1v1h-1zM18 49h1v1h-1zM20 51h1v1h-1zM29 69h1v1h-1zM29 73h1v1h-1zM24 90h1v1h-1zM25 94h1v1h-1zM24 97h1v1h-1z"/>
<path fill="#e1f078" d="M12 47h2v1h-2zM12 48h1v1h-1zM14 49h1v1h-1zM16 49h1v1h-1zM24 60h1v1h-1zM25 64h1v1h-1zM29 68h1v1h-1zM28 69h1v1h-1zM7 72h1v1h-1zM27 73h1v1h-1zM28 74h1v1h-1zM27 77h1v1h-1zM26 80h1v1h-1zM25 83h2v1h-2zM25 86h1v1h-1zM25 88h1v1h-1zM10 93h1v1h-1zM25 98h1v1h-1zM25 100h1v1h-1zM58 103h1v1h-1zM25 106h1v1h-1zM26 110h1v1h-1zM25 111h1v1h-1z"/>
<path fill="#c8f08c" d="M16 47h1v1h-1zM18 47h1v1h-1zM17 48h2v1h-2zM26 60h1v1h-1zM28 65h1v1h-1zM32 68h1v1h-1zM6 69h1v1h-1zM30 70h1v1h-1zM32 70h1v1h-1zM7 74h1v1h-1zM7 75h1v1h-1zM27 80h1v1h-1zM29 80h1v1h-1zM28 82h1v1h-1zM26 84h1v1h-1zM28 85h1v1h-1zM28 89h1v1h-1zM27 92h1v1h-1zM27 93h1v1h-1zM27 95h1v1h-1zM26 97h1v1h-1zM10 107h1v1h-1zM28 107h1v1h-1zM28 108h1v1h-1zM10 110h1v1h-1z"/>
<path fill="#64dcc8" d="M24 47h1v1h-1zM31 63h1v1h-1z"/>
<path fill="#f5dc5f" d="M10 48h1v1h-1zM15 52h1v1h-1zM18 55h1v1h-1zM22 58h1v1h-1zM23 59h1v1h-1zM26 74h1v1h-1zM8 75h1v1h-1zM24 75h1v1h-1zM9 78h1v1h-1zM24 87h1v1h-1zM11 92h1v1h-1zM23 95h1v1h-1zM23 99h1v1h-1zM23 101h1v1h-1zM23 105h1v1h-1zM11 109h1v1h-1z"/>
<path fill="#e6eb6e" d="M14 48h1v1h-1zM13 49h1v1h-1zM21 54h1v1h-1zM28 73h1v1h-1zM8 77h1v1h-1zM10 91h1v1h-1z"/>
<path fill="#b4f096" d="M20 48h1v1h-1zM30 85h1v1h-1zM28 92h1v1h-1z"/>
<path fill="#d2f082" d="M21 48h1v1h-1zM19 50h1v1h-1zM21 50h1v1h-1zM21 51h2v1h-2zM22 53h1v1h-1zM22 54h1v1h-1zM30 67h1v1h-1zM29 71h1v1h-1zM29 75h1v1h-1zM26 77h1v1h-1zM27 79h1v1h-1zM9 81h1v1h-1zM27 85h1v1h-1zM28 86h1v1h-1zM27 87h1v1h-1zM26 88h1v1h-1zM10 90h1v1h-1zM26 90h1v1h-1zM26 93h1v1h-1zM10 94h1v1h-1zM25 101h1v1h-1zM27 101h1v1h-1zM10 103h1v1h-1zM25 104h1v1h-1zM26 108h1v1h-1zM26 111h1v1h-1z"/>
<path fill="#f5d25a" d="M10 49h1v1h-1zM15 51h1v1h-1zM14 53h1v1h-1zM18 54h1v1h-1zM20 55h1v1h-1zM22 57h1v1h-1zM26 67h1v1h-1zM7 68h1v1h-1zM26 71h1v1h-1zM25 72h1v1h-1zM27 72h1v1h-1zM8 73h1v1h-1zM24 82h1v1h-1zM23 86h1v1h-1zM22 95h1v1h-1zM22 97h1v1h-1zM11 99h1v1h-1zM22 102h1v1h-1zM33 108h1v1h-1zM23 110h1v1h-1z"/>
<path fill="#f5e664" d="M11 49h1v1h-1zM22 56h1v1h-1zM23 60h1v1h-1zM26 66h1v1h-1zM27 70h1v1h-1zM27 71h1v1h-1zM25 76h1v1h-1zM24 81h1v1h-1zM10 83h1v1h-1zM23 84h1v1h-1zM23 91h1v1h-1zM22 96h1v1h-1zM11 97h1v1h-1zM24 100h1v1h-1z"/>
<path fill="#d7f082" d="M19 49h1v1h-1zM20 50h1v1h-1zM21 52h1v1h-1zM23 56h1v1h-1zM26 62h1v1h-1zM26 63h1v1h-1zM29 67h1v1h-1zM29 70h1v1h-1zM28 75h1v1h-1zM9 82h1v1h-1zM27 86h1v1h-1zM26 87h1v1h-1zM26 89h1v1h-1zM27 91h1v1h-1zM10 106h1v1h-1z"/>
<path fill="#a0eba0" d="M21 49h1v1h-1zM26 57h1v1h-1zM25 58h1v1h-1zM29 63h1v1h-1zM32 73h1v1h-1zM33 76h1v1h-1zM32 78h1v1h-1zM8 80h1v1h-1zM29 82h2v1h-2zM32 85h1v1h-1zM9 87h1v1h-1zM31 87h1v1h-1zM29 90h1v1h-1zM9 95h1v1h-1zM28 99h1v1h-1zM28 101h1v1h-1zM29 104h1v1h-1zM29 106h1v1h-1zM29 108h2v1h-2zM30 109h1v1h-1zM28 110h1v1h-1zM30 110h1v1h-1zM28 111h1v1h-1z"/>
<path fill="#bef091" d="M22 49h1v1h-1zM23 50h1v1h-1zM31 69h1v1h-1zM8 79h1v1h-1zM29 79h2v1h-2zM28 80h1v1h-1zM28 81h1v1h-1zM31 82h1v1h-1zM28 84h2v1h-2zM29 88h1v1h-1zM27 89h1v1h-1zM30 90h1v1h-1zM29 94h1v1h-1zM26 96h1v1h-1zM28 97h1v1h-1zM10 99h1v1h-1zM10 100h1v1h-1zM28 105h1v1h-1z"/>
<path fill="#fac350" d="M10 50h1v1h-1zM20 56h1v1h-1zM23 61h1v1h-1zM24 62h1v1h-1zM7 67h1v1h-1zM25 75h1v1h-1zM22 90h1v1h-1zM11 94h1v1h-1zM11 103h1v1h-1z"/>
<path fill="#fab446" d="M11 50h1v1h-1zM20 58h1v1h-1zM25 70h1v1h-1zM25 71h1v1h-1zM10 80h1v1h-1zM22 98h1v1h-1z"/>
<path fill="#f0e669" d="M13 50h1v1h-1zM15 50h1v1h-1zM16 52h1v1h-1zM18 52h1v1h-1zM19 53h1v1h-1zM21 55h1v1h-1zM24 61h1v1h-1zM27 66h1v1h-1zM7 69h1v1h-1zM26 70h1v1h-1zM9 79h1v1h-1zM25 81h1v1h-1zM24 84h1v1h-1zM25 85h1v1h-1zM24 89h1v1h-1zM25 90h1v1h-1zM23 92h2v1h-2zM23 94h1v1h-1zM24 96h1v1h-1zM11 98h1v1h-1zM24 101h1v1h-1zM11 102h1v1h-1zM23 102h2v1h-2zM58 104h1v1h-1zM11 105h1v1h-1zM58 105h1v1h-1zM23 106h1v1h-1zM23 107h1v1h-1zM11 111h1v1h-1zM24 111h1v1h-1z"/>
<path fill="#facd55" d="M14 50h1v1h-1zM16 53h2v1h-2zM21 56h1v1h-1zM24 63h1v1h-1zM25 66h1v1h-1zM26 68h1v1h-1zM24 77h1v1h-1zM24 78h1v1h-1zM23 83h1v1h-1zM23 85h1v1h-1zM24 86h1v1h-1zM23 103h1v1h-1zM11 108h1v1h-1zM22 109h1v1h-1z"/>
<path fill="#e6eb73" d="M16 50h1v1h-1zM14 51h1v1h-1zM20 53h1v1h-1zM25 62h1v1h-1zM25 65h1v1h-1zM27 65h1v1h-1zM27 69h1v1h-1zM27 75h1v1h-1zM8 76h1v1h-1zM26 76h1v1h-1zM24 83h1v1h-1zM25 84h1v1h-1zM10 85h1v1h-1zM10 86h1v1h-1zM24 88h1v1h-1zM24 99h1v1h-1zM24 107h2v1h-2zM25 109h1v1h-1zM24 110h1v1h-1z"/>
<path fill="#d7f07d" d="M18 50h1v1h-1zM19 52h1v1h-1zM21 53h1v1h-1zM24 59h1v1h-1zM25 60h1v1h-1zM27 64h1v1h-1zM27 67h1v1h-1zM28 71h1v1h-1zM28 72h1v1h-1zM29 74h1v1h-1zM26 78h1v1h-1zM27 82h1v1h-1zM27 84h1v1h-1zM10 88h1v1h-1zM26 91h1v1h-1zM27 97h1v1h-1zM26 103h1v1h-1zM26 105h1v1h-1zM25 108h1v1h-1z"/>
<path fill="#faa03c" d="M9 51h1v1h-1zM22 86h1v1h-1zM22 92h1v1h-1zM22 105h1v1h-1zM22 107h1v1h-1z"/>
<path fill="#fab94b" d="M10 51h1v1h-1zM12 52h1v1h-1zM23 81h1v1h-1zM24 94h1v1h-1zM22 99h1v1h-1z"/>
<path fill="#faaf46" d="M11 51h1v1h-1zM9 76h1v1h-1zM10 81h1v1h-1zM11 86h1v1h-1z"/>
<path fill="#fac34b" d="M12 51h1v1h-1zM19 56h1v1h-1zM7 70h1v1h-1zM25 73h1v1h-1z"/>
<path fill="#f5d75a" d="M13 51h1v1h-1zM15 53h1v1h-1zM26 72h1v1h-1zM8 74h1v1h-1zM26 75h1v1h-1zM9 77h1v1h-1zM11 88h1v1h-1zM23 96h1v1h-1zM11 104h1v1h-1zM23 104h1v1h-1zM23 108h1v1h-1zM23 109h1v1h-1z"/>
<path fill="#f0733c" d="M9 52h1v1h-1zM15 55h1v1h-1zM25 68h1v1h-1zM23 78h1v1h-1zM12 96h1v1h-1zM21 98h1v1h-1zM12 105h1v1h-1zM58 109h1v1h-1z"/>
<path fill="#f0643c" d="M10 52h1v1h-1zM9 53h1v1h-1zM12 55h1v1h-1zM16 56h1v1h-1zM21 58h1v1h-1zM8 65h1v1h-1zM24 65h1v1h-1zM8 70h1v1h-1zM23 76h1v1h-1zM23 77h1v1h-1zM22 81h1v1h-1zM12 93h1v1h-1zM21 105h1v1h-1zM12 106h1v1h-1z"/>
<path fill="#f57d3c" d="M11 52h1v1h-1zM11 53h1v1h-1zM9 54h1v1h-1zM22 61h1v1h-1zM23 63h1v1h-1zM22 93h1v1h-1zM21 102h1v1h-1zM12 104h1v1h-1zM58 108h1v1h-1z"/>
<path fill="#fabe4b" d="M13 52h2v1h-2zM19 55h1v1h-1zM7 66h1v1h-1zM8 71h1v1h-1zM24 85h1v1h-1zM11 95h1v1h-1zM22 104h1v1h-1zM33 109h1v1h-1z"/>
<path fill="#f5e15f" d="M17 52h1v1h-1zM27 68h1v1h-1zM23 89h1v1h-1z"/>
<path fill="#eb464b" d="M10 53h1v1h-1zM9 55h1v1h-1zM13 56h2v1h-2zM15 59h1v1h-1zM24 67h1v1h-1zM24 69h1v1h-1zM24 71h1v1h-1zM10 76h1v1h-1zM12 84h1v1h-1zM21 85h1v1h-1zM20 93h1v1h-1zM20 97h1v1h-1zM13 100h1v1h-1zM13 102h1v1h-1zM7 112h1v1h-1zM33 112h2v1h-2zM38 112h1v1h-1zM42 112h1v1h-1zM57 112h1v1h-1z"/>
<path fill="#f06e3c" d="M12 53h1v1h-1zM13 54h1v1h-1zM12 95h1v1h-1zM12 98h1v1h-1zM21 106h1v1h-1z"/>
<path fill="#faaa41" d="M13 53h1v1h-1zM14 54h2v1h-2zM22 59h1v1h-1zM26 69h1v1h-1zM9 75h1v1h-1zM11 85h1v1h-1zM22 85h1v1h-1zM22 88h1v1h-1zM11 91h1v1h-1zM22 100h1v1h-1z"/>
<path fill="#fac850" d="M18 53h1v1h-1zM17 54h1v1h-1zM20 57h1v1h-1zM24 76h1v1h-1zM24 79h1v1h-1zM10 84h1v1h-1zM23 87h1v1h-1zM11 93h1v1h-1zM22 94h1v1h-1zM23 98h1v1h-1zM33 107h1v1h-1z"/>
<path fill="#96e6aa" d="M25 53h1v1h-1zM31 99h1v1h-1zM28 102h1v1h-1z"/>
<path fill="#eb5546" d="M10 54h1v1h-1zM24 66h1v1h-1zM24 70h1v1h-1zM12 91h1v1h-1zM12 108h1v1h-1zM21 109h1v1h-1zM21 110h1v1h-1zM58 110h1v1h-1z"/>
<path fill="#eb5046" d="M11 54h1v1h-1zM15 57h1v1h-1zM19 60h1v1h-1zM9 71h1v1h-1zM9 74h1v1h-1zM23 75h1v1h-1zM22 80h1v1h-1zM12 87h1v1h-1zM21 99h1v1h-1zM21 104h1v1h-1zM37 112h1v1h-1zM48 112h1v1h-1z"/>
<path fill="#f5783c" d="M12 54h1v1h-1z"/>
<path fill="#fab946" d="M16 54h1v1h-1zM11 90h1v1h-1z"/>
<path fill="#f5e164" d="M19 54h1v1h-1zM24 95h1v1h-1zM11 96h1v1h-1zM11 101h1v1h-1zM11 107h1v1h-1z"/>
<path fill="#f5d75f" d="M20 54h1v1h-1zM23 97h1v1h-1z"/>
<path fill="#c3f091" d="M23 54h1v1h-1zM27 105h1v1h-1z"/>
<path fill="#eb4650" d="M10 55h1v1h-1zM9 56h1v1h-1zM8 57h1v1h-1zM19 59h1v1h-1zM20 62h1v1h-1zM21 64h1v1h-1zM22 79h1v1h-1zM21 82h1v1h-1zM12 85h1v1h-1zM12 86h1v1h-1zM21 89h1v1h-1zM21 91h1v1h-1zM21 96h1v1h-1zM13 97h1v1h-1zM13 107h1v1h-1zM20 110h1v1h-1zM13 111h1v1h-1zM8 112h1v1h-1zM44 112h1v1h-1zM46 112h1v1h-1zM59 112h1v1h-1z"/>
<path fill="#f05541" d="M11 55h1v1h-1zM19 58h1v1h-1zM20 60h1v1h-1zM9 73h1v1h-1zM11 82h1v1h-1zM21 87h1v1h-1zM21 111h1v1h-1z"/>
<path fill="#f05f41" d="M13 55h2v1h-2zM12 56h1v1h-1zM18 59h1v1h-1zM20 61h1v1h-1zM12 92h1v1h-1zM21 94h1v1h-1zM21 100h1v1h-1zM12 102h1v1h-1zM12 107h1v1h-1zM33 110h1v1h-1z"/>
<path fill="#f5913c" d="M16 55h1v1h-1zM19 57h1v1h-1zM22 60h1v1h-1zM24 64h1v1h-1zM23 80h1v1h-1zM22 82h1v1h-1zM12 100h1v1h-1zM12 110h1v1h-1z"/>
<path fill="#fa9b3c" d="M17 55h1v1h-1zM21 59h1v1h-1zM7 65h1v1h-1zM11 83h1v1h-1zM12 99h1v1h-1z"/>
<path fill="#eb414b" d="M8 56h1v1h-1zM13 57h1v1h-1zM16 58h1v1h-1zM21 61h1v1h-1zM23 64h1v1h-1zM23 65h1v1h-1zM24 68h1v1h-1zM9 72h1v1h-1zM11 81h1v1h-1zM21 86h1v1h-1zM12 88h1v1h-1zM21 88h1v1h-1zM21 92h1v1h-1zM21 97h1v1h-1zM21 107h1v1h-1zM33 111h1v1h-1zM53 112h1v1h-1z"/>
<path fill="#eb4646" d="M10 56h1v1h-1zM20 103h1v1h-1zM21 108h1v1h-1z"/>
<path fill="#eb4b50" d="M11 56h1v1h-1zM11 57h1v1h-1zM15 58h1v1h-1zM14 59h1v1h-1zM8 61h1v1h-1zM18 61h1v1h-1zM8 62h1v1h-1zM8 66h1v1h-1zM23 74h1v1h-1zM21 90h1v1h-1zM13 94h1v1h-1zM20 95h1v1h-1zM20 105h1v1h-1zM0 112h1v1h-1zM3 112h1v1h-1zM6 112h1v1h-1zM36 112h1v1h-1zM40 112h1v1h-1zM45 112h1v1h-1zM54 112h1v1h-1z"/>
<path fill="#f5873c" d="M15 56h1v1h-1zM18 57h1v1h-1zM7 64h1v1h-1zM8 69h1v1h-1zM23 79h1v1h-1zM12 97h1v1h-1zM21 103h1v1h-1z"/>
<path fill="#f58c3c" d="M17 56h1v1h-1zM17 57h1v1h-1zM25 67h1v1h-1zM24 73h1v1h-1zM22 91h1v1h-1zM35 112h1v1h-1z"/>
<path fill="#fa963c" d="M18 56h1v1h-1zM23 62h1v1h-1zM7 63h1v1h-1zM25 69h1v1h-1zM22 87h1v1h-1zM22 111h1v1h-1zM58 111h1v1h-1z"/>
<path fill="#f05f64" d="M9 57h1v1h-1zM11 58h1v1h-1zM9 68h1v1h-1zM22 74h1v1h-1zM22 75h1v1h-1zM21 77h1v1h-1zM11 79h1v1h-1zM21 79h1v1h-1zM20 85h1v1h-1zM18 95h1v1h-1zM13 96h1v1h-1zM15 111h1v1h-1zM30 112h1v1h-1z"/>
<path fill="#f07d7d" d="M10 57h1v1h-1zM15 64h1v1h-1zM23 70h1v1h-1zM10 71h1v1h-1zM19 87h1v1h-1zM13 89h1v1h-1zM17 91h1v1h-1zM18 92h1v1h-1zM17 94h1v1h-1zM14 103h3v1h-3zM15 104h1v1h-1zM15 105h1v1h-1zM18 105h1v1h-1z"/>
<path fill="#eb4b46" d="M12 57h1v1h-1zM14 57h1v1h-1zM17 58h2v1h-2zM21 62h1v1h-1zM8 68h1v1h-1zM12 89h1v1h-1zM21 93h1v1h-1z"/>
<path fill="#f06441" d="M16 57h1v1h-1zM8 67h1v1h-1zM10 79h1v1h-1z"/>
<path fill="#fa913c" d="M21 57h1v1h-1z"/>
<path fill="#f0555a" d="M8 58h1v1h-1zM10 58h1v1h-1zM12 58h1v1h-1zM16 60h1v1h-1zM19 61h1v1h-1zM23 67h1v1h-1zM23 69h1v1h-1zM23 71h1v1h-1zM22 78h1v1h-1zM21 83h1v1h-1zM20 94h1v1h-1zM13 98h1v1h-1zM13 101h1v1h-1zM13 106h1v1h-1zM20 106h1v1h-1zM9 112h1v1h-1zM31 112h1v1h-1zM39 112h1v1h-1zM51 112h1v1h-1z"/>
<path fill="#f0918c" d="M9 58h1v1h-1zM15 65h1v1h-1zM13 85h1v1h-1zM17 86h1v1h-1zM16 107h1v1h-1zM18 110h1v1h-1zM14 111h1v1h-1zM25 112h1v1h-1z"/>
<path fill="#eb4b55" d="M13 58h1v1h-1zM8 59h1v1h-1zM16 59h1v1h-1zM8 60h1v1h-1zM19 62h1v1h-1zM22 63h1v1h-1zM12 83h1v1h-1zM13 90h1v1h-1zM20 92h1v1h-1zM20 98h1v1h-1zM20 100h1v1h-1zM13 105h1v1h-1zM13 108h1v1h-1zM13 109h1v1h-1zM20 109h1v1h-1zM41 112h1v1h-1zM49 112h2v1h-2zM58 112h1v1h-1z"/>
<path fill="#eb5055" d="M14 58h1v1h-1zM22 64h1v1h-1zM9 69h1v1h-1zM23 73h1v1h-1zM10 74h1v1h-1zM11 80h1v1h-1zM13 95h1v1h-1zM20 102h1v1h-1zM13 103h1v1h-1zM5 112h1v1h-1zM43 112h1v1h-1zM52 112h1v1h-1z"/>
<path fill="#f0696e" d="M9 59h1v1h-1zM10 72h1v1h-1zM14 100h1v1h-1zM18 100h1v1h-1zM10 112h1v1h-1zM47 112h1v1h-1z"/>
<path fill="#f08c87" d="M10 59h1v1h-1zM9 60h1v1h-1zM16 63h1v1h-1zM18 68h1v1h-1zM11 77h1v1h-1zM18 97h1v1h-1zM19 107h1v1h-1zM17 108h1v1h-1zM18 109h1v1h-1z"/>
<path fill="#f08787" d="M11 59h1v1h-1zM13 61h1v1h-1zM12 63h1v1h-1zM14 64h1v1h-1zM16 66h1v1h-1zM19 78h1v1h-1zM12 80h1v1h-1zM12 81h1v1h-1zM20 83h1v1h-1zM19 85h1v1h-1zM15 88h1v1h-1zM17 88h1v1h-1zM19 88h1v1h-1zM18 98h2v1h-2zM15 101h1v1h-1zM17 106h1v1h-1zM18 108h2v1h-2z"/>
<path fill="#f06469" d="M12 59h1v1h-1zM14 60h1v1h-1zM8 63h1v1h-1zM19 63h1v1h-1zM22 76h1v1h-1zM21 81h1v1h-1zM12 82h1v1h-1zM20 87h1v1h-1zM13 92h1v1h-1zM18 106h1v1h-1zM2 112h1v1h-1z"/>
<path fill="#f0505a" d="M13 59h1v1h-1zM17 59h1v1h-1zM10 73h1v1h-1zM11 78h1v1h-1zM21 84h1v1h-1zM20 91h1v1h-1zM20 101h1v1h-1zM20 108h1v1h-1zM23 112h1v1h-1zM32 112h1v1h-1z"/>
<path fill="#f0693c" d="M20 59h1v1h-1zM24 72h1v1h-1zM12 94h1v1h-1zM21 101h1v1h-1zM12 109h1v1h-1z"/>
<path fill="#f09b96" d="M10 60h1v1h-1zM18 64h1v1h-1zM12 65h1v1h-1zM16 65h1v1h-1zM17 68h1v1h-1zM12 70h1v1h-1zM22 70h1v1h-1zM22 73h1v1h-1zM21 76h1v1h-1zM17 77h1v1h-1zM19 77h1v1h-1zM19 79h1v1h-1zM16 86h1v1h-1zM17 87h1v1h-1zM15 89h2v1h-2zM16 91h1v1h-1zM14 92h1v1h-1zM15 95h1v1h-1zM14 97h1v1h-1zM15 107h1v1h-1z"/>
<path fill="#f08c8c" d="M11 60h1v1h-1zM13 62h1v1h-1zM9 64h3v1h-3zM20 65h1v1h-1zM20 74h1v1h-1zM17 75h1v1h-1zM11 76h1v1h-1zM13 84h1v1h-1zM13 88h1v1h-1zM19 90h1v1h-1zM18 91h1v1h-1zM15 93h1v1h-1zM19 94h1v1h-1zM19 99h1v1h-1zM19 101h1v1h-1zM14 102h1v1h-1zM15 109h1v1h-1zM19 110h1v1h-1zM16 111h2v1h-2z"/>
<path fill="#f09191" d="M12 60h1v1h-1zM17 66h1v1h-1zM20 66h1v1h-1zM19 67h1v1h-1zM19 68h2v1h-2zM10 69h1v1h-1zM21 74h1v1h-1zM20 79h1v1h-1zM20 80h1v1h-1zM19 84h1v1h-1zM14 86h1v1h-1zM18 89h1v1h-1zM17 90h1v1h-1zM15 94h1v1h-1zM17 95h1v1h-1zM16 106h1v1h-1zM14 109h1v1h-1zM11 112h1v1h-1z"/>
<path fill="#f08282" d="M13 60h1v1h-1zM14 61h1v1h-1zM12 62h1v1h-1zM19 64h2v1h-2zM21 65h1v1h-1zM19 66h1v1h-1zM20 67h1v1h-1zM13 86h1v1h-1zM13 87h1v1h-1zM15 91h1v1h-1zM14 94h1v1h-1zM16 94h1v1h-1zM16 95h1v1h-1zM17 96h1v1h-1zM15 99h1v1h-1zM14 101h1v1h-1zM17 103h1v1h-1zM18 104h1v1h-1zM14 105h1v1h-1zM15 106h1v1h-1zM19 106h1v1h-1zM18 107h1v1h-1zM14 108h2v1h-2zM19 111h1v1h-1zM4 112h1v1h-1z"/>
<path fill="#f05a5f" d="M15 60h1v1h-1zM17 61h1v1h-1zM22 77h1v1h-1zM20 89h1v1h-1zM20 90h1v1h-1zM13 91h1v1h-1zM14 99h1v1h-1zM14 106h1v1h-1zM14 107h1v1h-1zM1 112h1v1h-1zM56 112h1v1h-1z"/>
<path fill="#f05a41" d="M17 60h1v1h-1zM21 60h1v1h-1zM22 62h1v1h-1zM10 77h1v1h-1zM12 90h1v1h-1zM12 103h1v1h-1zM13 104h1v1h-1z"/>
<path fill="#f05055" d="M18 60h1v1h-1zM8 64h1v1h-1zM23 66h1v1h-1zM23 72h1v1h-1zM10 75h1v1h-1zM20 86h1v1h-1zM13 99h1v1h-1zM20 99h1v1h-1zM20 104h1v1h-1zM20 107h1v1h-1zM13 110h1v1h-1zM20 111h1v1h-1zM29 112h1v1h-1z"/>
<path fill="#f5823c" d="M7 61h1v1h-1zM7 62h1v1h-1zM10 78h1v1h-1zM11 84h1v1h-1zM22 103h1v1h-1z"/>
<path fill="#f0b4aa" d="M9 61h1v1h-1zM22 71h1v1h-1zM18 76h1v1h-1zM16 83h1v1h-1z"/>
<path fill="#f0a09b" d="M10 61h2v1h-2zM9 62h1v1h-1zM21 66h1v1h-1zM11 67h1v1h-1zM13 67h1v1h-1zM22 68h1v1h-1zM11 69h1v1h-1zM13 69h1v1h-1zM17 69h1v1h-1zM21 69h2v1h-2zM10 70h1v1h-1zM21 70h1v1h-1zM16 71h1v1h-1zM20 72h1v1h-1zM12 76h1v1h-1zM17 76h1v1h-1zM12 79h1v1h-1zM13 83h1v1h-1zM15 83h1v1h-1zM15 85h1v1h-1zM18 88h1v1h-1zM18 90h1v1h-1zM14 93h1v1h-1zM17 100h1v1h-1zM19 100h1v1h-1zM19 109h1v1h-1zM15 110h1v1h-1zM13 112h1v1h-1z"/>
<path fill="#f0a0a0" d="M12 61h1v1h-1zM10 62h1v1h-1zM18 65h1v1h-1zM13 71h1v1h-1zM17 74h1v1h-1zM13 81h1v1h-1z"/>
<path fill="#f05f5f" d="M15 61h1v1h-1z"/>
<path fill="#f07373" d="M16 61h1v1h-1zM16 62h1v1h-1zM9 63h1v1h-1zM20 88h1v1h-1zM13 93h1v1h-1zM17 104h1v1h-1zM19 104h1v1h-1z"/>
<path fill="#e6f073" d="M25 61h1v1h-1zM6 67h1v1h-1zM28 68h1v1h-1zM29 77h1v1h-1zM9 80h1v1h-1zM26 86h1v1h-1zM24 93h1v1h-1zM24 98h1v1h-1zM23 100h1v1h-1zM24 105h2v1h-2zM24 109h1v1h-1z"/>
<path fill="#f09691" d="M11 62h1v1h-1zM19 65h1v1h-1zM21 73h1v1h-1zM20 78h1v1h-1zM14 89h1v1h-1zM19 92h1v1h-1zM14 98h1v1h-1zM16 98h2v1h-2zM18 99h1v1h-1zM16 101h1v1h-1zM17 102h1v1h-1zM18 103h1v1h-1zM16 105h1v1h-1zM16 109h1v1h-1z"/>
<path fill="#f57373" d="M14 62h1v1h-1zM18 63h1v1h-1zM21 78h1v1h-1zM16 96h1v1h-1zM19 96h1v1h-1zM17 99h1v1h-1zM17 101h2v1h-2zM19 102h1v1h-1z"/>
<path fill="#f57d7d" d="M15 62h1v1h-1zM11 63h1v1h-1zM17 63h1v1h-1zM19 89h1v1h-1zM19 97h1v1h-1zM19 103h1v1h-1zM18 111h1v1h-1z"/>
<path fill="#f57878" d="M17 62h1v1h-1zM9 65h1v1h-1zM22 65h1v1h-1zM23 68h1v1h-1zM18 84h1v1h-1zM17 89h1v1h-1zM19 91h1v1h-1zM18 93h2v1h-2zM14 95h1v1h-1zM15 97h1v1h-1zM16 99h1v1h-1zM15 100h1v1h-1zM15 102h1v1h-1zM14 104h1v1h-1zM16 104h1v1h-1zM16 108h1v1h-1zM17 109h1v1h-1zM14 110h1v1h-1zM16 110h1v1h-1zM24 112h1v1h-1zM27 112h1v1h-1z"/>
<path fill="#f06e6e" d="M18 62h1v1h-1zM20 63h1v1h-1zM9 66h1v1h-1zM9 67h1v1h-1zM21 80h1v1h-1zM20 84h1v1h-1zM17 93h1v1h-1zM15 96h1v1h-1zM15 98h1v1h-1zM16 102h1v1h-1zM19 105h1v1h-1zM26 112h1v1h-1z"/>
<path fill="#f09b9b" d="M10 63h1v1h-1zM15 63h1v1h-1zM11 66h1v1h-1zM12 67h1v1h-1zM13 68h1v1h-1zM20 69h1v1h-1zM19 71h1v1h-1zM21 71h1v1h-1zM19 75h1v1h-1zM20 82h1v1h-1zM19 83h1v1h-1zM15 87h1v1h-1zM15 90h1v1h-1zM14 91h1v1h-1zM16 93h1v1h-1zM18 96h1v1h-1zM21 112h2v1h-2z"/>
<path fill="#f0a5a0" d="M13 63h2v1h-2zM10 65h2v1h-2zM13 66h1v1h-1zM12 68h1v1h-1zM15 70h1v1h-1zM15 71h1v1h-1zM12 72h1v1h-1zM22 72h1v1h-1zM11 73h1v1h-1zM19 73h1v1h-1zM16 74h1v1h-1zM20 75h1v1h-1zM12 77h1v1h-1zM16 78h1v1h-1zM17 80h1v1h-1zM13 82h1v1h-1zM18 82h1v1h-1zM17 83h1v1h-1zM16 90h1v1h-1zM14 96h1v1h-1zM51 109h1v1h-1zM51 110h1v1h-1z"/>
<path fill="#f06464" d="M21 63h1v1h-1zM9 70h1v1h-1zM28 112h1v1h-1z"/>
<path fill="#ebeb69" d="M25 63h1v1h-1zM7 73h1v1h-1zM25 99h1v1h-1z"/>
<path fill="#a5eb9b" d="M27 63h1v1h-1zM28 93h1v1h-1zM29 98h1v1h-1zM31 105h1v1h-1zM29 109h1v1h-1z"/>
<path fill="#f0afaa" d="M12 64h1v1h-1zM17 65h1v1h-1zM14 67h1v1h-1zM18 67h1v1h-1zM21 67h1v1h-1zM10 68h1v1h-1zM14 68h1v1h-1zM18 69h1v1h-1zM14 71h1v1h-1zM17 71h1v1h-1zM15 72h2v1h-2zM17 73h1v1h-1zM20 73h1v1h-1zM12 74h1v1h-1zM11 75h1v1h-1zM13 75h1v1h-1zM21 75h1v1h-1zM18 77h1v1h-1zM14 78h1v1h-1zM18 79h1v1h-1zM16 80h1v1h-1zM16 81h1v1h-1zM15 84h1v1h-1zM15 86h1v1h-1zM16 88h1v1h-1zM12 112h1v1h-1z"/>
<path fill="#f0aaa5" d="M13 64h1v1h-1zM16 64h1v1h-1zM14 66h1v1h-1zM22 66h1v1h-1zM17 67h1v1h-1zM21 68h1v1h-1zM16 69h1v1h-1zM19 69h1v1h-1zM18 71h1v1h-1zM20 71h1v1h-1zM14 72h1v1h-1zM19 72h1v1h-1zM12 73h1v1h-1zM12 75h1v1h-1zM18 75h1v1h-1zM19 76h1v1h-1zM13 78h1v1h-1zM18 78h1v1h-1zM17 79h1v1h-1zM14 80h1v1h-1zM15 81h1v1h-1zM14 82h2v1h-2zM14 84h1v1h-1zM17 84h1v1h-1zM16 85h1v1h-1zM18 86h1v1h-1zM14 87h1v1h-1zM14 90h1v1h-1zM15 92h2v1h-2z"/>
<path fill="#f0b9b4" d="M17 64h1v1h-1zM10 66h1v1h-1zM15 66h1v1h-1zM11 68h1v1h-1zM15 69h1v1h-1zM17 72h1v1h-1zM18 74h1v1h-1zM13 76h1v1h-1zM15 79h1v1h-1zM18 83h1v1h-1z"/>
<path fill="#9be6a5" d="M30 64h1v1h-1zM34 73h1v1h-1zM30 91h1v1h-1zM29 95h1v1h-1zM31 110h1v1h-1z"/>
<path fill="#fad2d2" d="M13 65h1v1h-1z"/>
<path fill="#f0b4af" d="M14 65h1v1h-1zM15 67h1v1h-1zM16 68h1v1h-1zM11 70h1v1h-1zM11 72h1v1h-1zM13 74h1v1h-1zM19 74h1v1h-1zM13 77h1v1h-1zM15 77h1v1h-1zM12 78h1v1h-1zM17 82h1v1h-1z"/>
<path fill="#e1f073" d="M26 65h1v1h-1zM25 97h1v1h-1zM24 103h1v1h-1z"/>
<path fill="#f0beb9" d="M12 66h1v1h-1zM22 67h1v1h-1zM12 69h1v1h-1zM14 69h1v1h-1zM13 70h1v1h-1zM16 70h1v1h-1zM19 70h1v1h-1zM11 71h1v1h-1zM15 73h1v1h-1zM14 74h1v1h-1zM14 79h1v1h-1zM20 81h1v1h-1zM16 84h1v1h-1z"/>
<path fill="#f5c3be" d="M18 66h1v1h-1zM15 68h1v1h-1zM18 72h1v1h-1zM13 79h1v1h-1zM13 80h1v1h-1zM14 83h1v1h-1zM51 111h1v1h-1z"/>
<path fill="#f08782" d="M10 67h1v1h-1zM19 86h1v1h-1zM18 87h1v1h-1zM16 97h2v1h-2zM18 102h1v1h-1zM17 105h1v1h-1z"/>
<path fill="#ffe1e1" d="M16 67h1v1h-1zM20 112h1v1h-1z"/>
<path fill="#f5c8c8" d="M14 70h1v1h-1zM15 75h1v1h-1z"/>
<path fill="#fad2cd" d="M17 70h2v1h-2zM15 80h1v1h-1z"/>
<path fill="#f09696" d="M20 70h1v1h-1zM18 73h1v1h-1zM20 77h1v1h-1zM19 80h1v1h-1zM18 85h1v1h-1zM16 87h1v1h-1zM19 95h1v1h-1z"/>
<path fill="#f5cdc8" d="M12 71h1v1h-1zM14 81h1v1h-1zM16 82h1v1h-1zM14 112h1v1h-1z"/>
<path fill="#faa53c" d="M8 72h1v1h-1zM11 87h1v1h-1zM21 95h1v1h-1z"/>
<path fill="#fae1e1" d="M13 72h1v1h-1zM15 74h1v1h-1zM14 75h1v1h-1zM15 78h1v1h-1z"/>
<path fill="#f5c8c3" d="M21 72h1v1h-1zM14 73h1v1h-1zM16 73h1v1h-1zM17 78h1v1h-1zM16 79h1v1h-1zM17 81h1v1h-1zM19 112h1v1h-1z"/>
<path fill="#c8f087" d="M29 72h1v1h-1zM30 76h1v1h-1zM28 83h1v1h-1zM28 88h1v1h-1zM10 92h1v1h-1zM10 96h1v1h-1zM27 96h1v1h-1zM10 97h1v1h-1zM27 103h1v1h-1zM26 106h1v1h-1zM26 109h2v1h-2z"/>
<path fill="#f0a5a5" d="M13 73h1v1h-1zM14 85h1v1h-1zM17 85h1v1h-1zM14 88h1v1h-1z"/>
<path fill="#f0e664" d="M26 73h1v1h-1z"/>
<path fill="#f0b9af" d="M11 74h1v1h-1zM16 77h1v1h-1zM18 81h1v1h-1zM17 112h1v1h-1z"/>
<path fill="#faa541" d="M24 74h1v1h-1zM24 80h1v1h-1zM22 83h1v1h-1zM22 84h1v1h-1zM12 101h1v1h-1z"/>
<path fill="#faaf41" d="M25 74h1v1h-1zM22 101h1v1h-1zM22 110h1v1h-1zM12 111h1v1h-1z"/>
<path fill="#fadcd7" d="M16 75h1v1h-1z"/>
<path fill="#fad7d7" d="M14 76h1v1h-1zM16 76h1v1h-1zM14 77h1v1h-1zM15 112h1v1h-1z"/>
<path fill="#f5c3c3" d="M15 76h1v1h-1z"/>
<path fill="#f5beb9" d="M20 76h1v1h-1z"/>
<path fill="#d2f087" d="M28 76h1v1h-1zM27 81h1v1h-1zM25 91h1v1h-1z"/>
<path fill="#fac855" d="M25 77h1v1h-1zM23 88h1v1h-1zM11 106h1v1h-1zM23 111h1v1h-1z"/>
<path fill="#f0afa5" d="M18 80h1v1h-1zM19 81h1v1h-1zM19 82h1v1h-1z"/>
<path fill="#fad255" d="M23 82h1v1h-1zM11 89h1v1h-1zM22 89h1v1h-1zM23 90h1v1h-1zM22 106h1v1h-1zM22 108h1v1h-1zM11 110h1v1h-1z"/>
<path fill="#f0827d" d="M17 92h1v1h-1zM18 94h1v1h-1zM17 110h1v1h-1z"/>
<path fill="#0a14aa" d="M59 94h1v1h-1z"/>
<path fill="#7de1b4" d="M31 95h1v1h-1zM29 97h1v1h-1z"/>
<path fill="#0f0f96" d="M59 95h1v1h-1zM59 100h1v1h-1zM59 103h1v1h-1z"/>
<path fill="#f06e73" d="M20 96h1v1h-1z"/>
<path fill="#0f14a0" d="M59 96h1v1h-1zM59 108h1v1h-1z"/>
<path fill="#0f149b" d="M59 97h1v1h-1zM59 105h1v1h-1zM59 107h1v1h-1z"/>
<path fill="#0a14a5" d="M59 98h1v1h-1z"/>
<path fill="#140f8c" d="M59 99h1v1h-1z"/>
<path fill="#f06969" d="M16 100h1v1h-1zM17 107h1v1h-1zM55 112h1v1h-1z"/>
<path fill="#0a1ebe" d="M59 101h1v1h-1zM59 106h1v1h-1z"/>
<path fill="#140a87" d="M59 102h1v1h-1z"/>
<path fill="#0a1eb9" d="M59 104h1v1h-1z"/>
<path fill="#fffafa" d="M58 106h1v1h-1zM58 107h1v1h-1z"/>
<path fill="#0a23c3" d="M59 109h1v1h-1z"/>
<path fill="#fad7d2" d="M16 112h1v1h-1z"/>
<path fill="#fadcdc" d="M18 112h1v1h-1z"/>
<path fill="#ffffff" d="M0 113h60v1h-60zM0 114h60v1h-60zM0 115h60v1h-60zM0 116h60v1h-60zM0 117h60v1h-60zM0 118h60v1h-60zM0 119h60v1h-60z"/>
</g>
<text x="569" y="49.3" font-size="20.3" text-anchor="end" fill="#fff">Ba<tspan font-size="14.5" dy="4.8">3</tspan><tspan dy="-4.8">ReO</tspan><tspan font-size="14.5" dy="4.8">5</tspan><tspan dy="-4.8">Cl</tspan><tspan font-size="14.5" dy="4.8">2</tspan></text>
<text x="568" y="80" font-size="20.3" text-anchor="end" fill="#fff"><tspan font-style="italic">T</tspan> = 4 K</text>
<rect x="394.5" y="15.7" width="185.1" height="183.8" fill="none" stroke="#000" stroke-width="1.60"/>
<path d="M394.50 199.5v-10.0M394.50 15.7v10.0M403.75 199.5v-5.0M403.75 15.7v5.0M413.01 199.5v-5.0M413.01 15.7v5.0M422.26 199.5v-5.0M422.26 15.7v5.0M431.52 199.5v-5.0M431.52 15.7v5.0M440.77 199.5v-10.0M440.77 15.7v10.0M450.03 199.5v-5.0M450.03 15.7v5.0M459.29 199.5v-5.0M459.29 15.7v5.0M468.54 199.5v-5.0M468.54 15.7v5.0M477.80 199.5v-5.0M477.80 15.7v5.0M487.05 199.5v-10.0M487.05 15.7v10.0M496.31 199.5v-5.0M496.31 15.7v5.0M505.56 199.5v-5.0M505.56 15.7v5.0M514.82 199.5v-5.0M514.82 15.7v5.0M524.07 199.5v-5.0M524.07 15.7v5.0M533.33 199.5v-10.0M533.33 15.7v10.0M542.58 199.5v-5.0M542.58 15.7v5.0M551.84 199.5v-5.0M551.84 15.7v5.0M561.09 199.5v-5.0M561.09 15.7v5.0M570.35 199.5v-5.0M570.35 15.7v5.0M579.60 199.5v-10.0M579.60 15.7v10.0M394.5 199.50h-8.4M579.6 199.50h8.4M394.5 184.19h-4.3M579.6 184.19h4.3M394.5 168.87h-4.3M579.6 168.87h4.3M394.5 153.56h-4.3M579.6 153.56h4.3M394.5 138.24h-8.4M579.6 138.24h8.4M394.5 122.92h-4.3M579.6 122.92h4.3M394.5 107.61h-4.3M579.6 107.61h4.3M394.5 92.30h-4.3M579.6 92.30h4.3M394.5 76.98h-8.4M579.6 76.98h8.4M394.5 61.66h-4.3M579.6 61.66h4.3M394.5 46.35h-4.3M579.6 46.35h4.3M394.5 31.03h-4.3M579.6 31.03h4.3M394.5 15.72h-8.4M579.6 15.72h8.4" stroke="#000" stroke-width="1.50" fill="none"/>
<text x="380.60" y="205.10" font-size="20.90" text-anchor="end" fill="#000">0</text>
<text x="380.60" y="143.84" font-size="20.90" text-anchor="end" fill="#000">2</text>
<text x="380.60" y="82.58" font-size="20.90" text-anchor="end" fill="#000">4</text>
<text x="380.60" y="21.32" font-size="20.90" text-anchor="end" fill="#000">6</text>
<text x="394.50" y="221.60" font-size="20.90" text-anchor="middle" fill="#000">0</text>
<text x="440.77" y="221.60" font-size="20.90" text-anchor="middle" fill="#000">0.5</text>
<text x="487.05" y="221.60" font-size="20.90" text-anchor="middle" fill="#000">1.0</text>
<text x="533.33" y="221.60" font-size="20.90" text-anchor="middle" fill="#000">1.5</text>
<text x="579.60" y="221.60" font-size="20.90" text-anchor="middle" fill="#000">2.0</text>
<rect x="433.1" y="234.2" width="1.9" height="16.4" fill="#000"/><rect x="458.5" y="234.2" width="1.9" height="16.4" fill="#000"/>
<g transform="translate(448.1 242.1) skewX(-11)"><ellipse rx="6.7" ry="7.45" fill="none" stroke="#000" stroke-width="2.1"/></g><path d="M448.6 246.3L453.3 251.2" stroke="#000" stroke-width="2.2"/>
<text y="250" font-size="23"><tspan x="469.6">(Å</tspan><tspan x="493" y="235.3" font-size="13.5">-1</tspan><tspan x="507.8" y="250">)</tspan></text>
<text transform="translate(351.5,107.6) rotate(-90)" font-size="23" text-anchor="middle">Energy (meV)</text>
<defs><linearGradient id="cb" x1="0" y1="0" x2="0" y2="1"><stop offset="0.000" stop-color="#fff8f8"/><stop offset="0.030" stop-color="#ffeeee"/><stop offset="0.070" stop-color="#fad7d4"/><stop offset="0.100" stop-color="#eeb2ac"/><stop offset="0.130" stop-color="#f09b98"/><stop offset="0.170" stop-color="#f37676"/><stop offset="0.210" stop-color="#ee5258"/><stop offset="0.250" stop-color="#eb414b"/><stop offset="0.290" stop-color="#f0693c"/><stop offset="0.330" stop-color="#faa03c"/><stop offset="0.360" stop-color="#fabe4b"/><stop offset="0.400" stop-color="#f5e464"/><stop offset="0.450" stop-color="#def27a"/><stop offset="0.500" stop-color="#c3f08e"/><stop offset="0.550" stop-color="#8ce6ac"/><stop offset="0.600" stop-color="#5adcd4"/><stop offset="0.650" stop-color="#3ac6f2"/><stop offset="0.700" stop-color="#269efa"/><stop offset="0.750" stop-color="#146ef2"/><stop offset="0.800" stop-color="#0e48e6"/><stop offset="0.850" stop-color="#0a26cd"/><stop offset="0.900" stop-color="#0c14a5"/><stop offset="0.950" stop-color="#160a7d"/><stop offset="1.000" stop-color="#23055a"/></linearGradient></defs>
<rect x="606.8" y="36.5" width="13.3" height="163" fill="url(#cb)" stroke="#000" stroke-width="1.60"/>
<path d="M620.1 199.50h4.8M620.1 183.20h2.6M620.1 166.90h2.6M620.1 150.60h2.6M620.1 134.30h2.6M620.1 118.00h4.8M620.1 101.70h2.6M620.1 85.40h2.6M620.1 69.10h2.6M620.1 52.80h2.6M620.1 36.50h4.8" stroke="#000" stroke-width="1.50" fill="none"/>
<text x="628.30" y="204.20" font-size="16.80" text-anchor="start" fill="#000">0.0</text>
<text x="628.30" y="122.70" font-size="16.80" text-anchor="start" fill="#000">0.5</text>
<text x="628.30" y="41.20" font-size="16.80" text-anchor="start" fill="#000">1.0</text>
<text transform="translate(674.0,117.6) rotate(-90)" font-size="20.8" text-anchor="middle">Intensity (a.u.)</text>
<text x="325.7" y="18.5" font-size="25.7" font-weight="bold">b</text>
<g fill="none" stroke-linejoin="round">
<path d="M84.9 64.3V68.0M81.1 64.3h7.6M81.1 68.0h7.6M86.9 70.1V73.9M83.1 70.1h7.6M83.1 73.9h7.6M89.0 77.3V81.2M85.2 77.3h7.6M85.2 81.2h7.6M91.0 81.8V85.9M87.2 81.8h7.6M87.2 85.9h7.6M93.1 87.6V91.7M89.3 87.6h7.6M89.3 91.7h7.6M95.2 94.4V98.6M91.4 94.4h7.6M91.4 98.6h7.6M97.2 100.7V105.0M93.4 100.7h7.6M93.4 105.0h7.6M99.3 108.6V113.0M95.5 108.6h7.6M95.5 113.0h7.6M101.3 117.0V121.5M97.5 117.0h7.6M97.5 121.5h7.6M103.4 130.9V135.5M99.6 130.9h7.6M99.6 135.5h7.6M105.5 139.5V144.2M101.7 139.5h7.6M101.7 144.2h7.6M107.5 148.1V153.0M103.7 148.1h7.6M103.7 153.0h7.6M109.6 151.4V156.3M105.8 151.4h7.6M105.8 156.3h7.6M111.6 163.5V168.6M107.8 163.5h7.6M107.8 168.6h7.6M113.7 184.1V189.3M109.9 184.1h7.6M109.9 189.3h7.6M115.7 200.3V205.6M111.9 200.3h7.6M111.9 205.6h7.6M117.2 207.8V213.2M113.4 207.8h7.6M113.4 213.2h7.6M118.7 216.2V221.7M114.9 216.2h7.6M114.9 221.7h7.6M120.2 221.1V226.7M116.4 221.1h7.6M116.4 226.7h7.6M121.6 227.1V232.8M117.8 227.1h7.6M117.8 232.8h7.6M123.1 237.1V242.8M119.3 237.1h7.6M119.3 242.8h7.6M124.6 238.3V244.2M120.8 238.3h7.6M120.8 244.2h7.6M126.0 242.8V248.8M122.2 242.8h7.6M122.2 248.8h7.6M127.5 250.5V256.6M123.7 250.5h7.6M123.7 256.6h7.6M129.0 249.2V255.4M125.2 249.2h7.6M125.2 255.4h7.6M130.4 253.2V259.5M126.6 253.2h7.6M126.6 259.5h7.6M131.9 261.0V267.4M128.1 261.0h7.6M128.1 267.4h7.6M133.4 263.6V270.1M129.6 263.6h7.6M129.6 270.1h7.6M134.9 267.1V273.7M131.1 267.1h7.6M131.1 273.7h7.6M136.3 264.2V270.9M132.5 264.2h7.6M132.5 270.9h7.6M137.8 267.2V274.0M134.0 267.2h7.6M134.0 274.0h7.6M139.3 279.9V286.9M135.5 279.9h7.6M135.5 286.9h7.6M140.7 278.8V285.8M136.9 278.8h7.6M136.9 285.8h7.6M142.2 290.7V297.8M138.4 290.7h7.6M138.4 297.8h7.6M143.7 293.3V300.6M139.9 293.3h7.6M139.9 300.6h7.6M145.1 284.8V292.3M141.3 284.8h7.6M141.3 292.3h7.6M146.6 283.3V290.9M142.8 283.3h7.6M142.8 290.9h7.6M148.1 292.8V300.5M144.3 292.8h7.6M144.3 300.5h7.6M149.6 289.6V297.4M145.8 289.6h7.6M145.8 297.4h7.6M151.0 300.3V308.2M147.2 300.3h7.6M147.2 308.2h7.6M152.5 301.0V309.1M148.7 301.0h7.6M148.7 309.1h7.6M154.0 291.8V300.0M150.2 291.8h7.6M150.2 300.0h7.6M155.4 295.2V303.6M151.6 295.2h7.6M151.6 303.6h7.6M156.9 292.3V300.8M153.1 292.3h7.6M153.1 300.8h7.6M158.4 299.8V308.4M154.6 299.8h7.6M154.6 308.4h7.6M159.8 298.3V307.1M156.0 298.3h7.6M156.0 307.1h7.6M161.3 303.4V312.3M157.5 303.4h7.6M157.5 312.3h7.6M162.8 292.3V301.4M159.0 292.3h7.6M159.0 301.4h7.6M164.2 301.0V310.2M160.4 301.0h7.6M160.4 310.2h7.6M165.7 291.1V300.5M161.9 291.1h7.6M161.9 300.5h7.6M167.2 306.9V316.4M163.4 306.9h7.6M163.4 316.4h7.6M168.7 301.6V311.3M164.9 301.6h7.6M164.9 311.3h7.6M170.1 298.9V308.8M166.3 298.9h7.6M166.3 308.8h7.6M171.6 297.6V307.6M167.8 297.6h7.6M167.8 307.6h7.6M173.1 296.4V306.6M169.3 296.4h7.6M169.3 306.6h7.6M174.5 298.1V308.5M170.7 298.1h7.6M170.7 308.5h7.6M176.0 310.9V321.5M172.2 310.9h7.6M172.2 321.5h7.6M177.5 296.7V307.4M173.7 296.7h7.6M173.7 307.4h7.6M178.9 295.3V306.2M175.1 295.3h7.6M175.1 306.2h7.6M180.4 307.0V318.1M176.6 307.0h7.6M176.6 318.1h7.6M181.9 312.4V323.7M178.1 312.4h7.6M178.1 323.7h7.6M183.4 300.9V312.3M179.6 300.9h7.6M179.6 312.3h7.6M184.8 297.7V309.4M181.0 297.7h7.6M181.0 309.4h7.6M186.3 299.5V311.4M182.5 299.5h7.6M182.5 311.4h7.6M187.8 302.9V315.0M184.0 302.9h7.6M184.0 315.0h7.6M189.2 309.3V321.6M185.4 309.3h7.6M185.4 321.6h7.6M190.7 313.2V325.7M186.9 313.2h7.6M186.9 325.7h7.6M192.2 302.9V315.5M188.4 302.9h7.6M188.4 315.5h7.6M193.6 306.7V319.6M189.8 306.7h7.6M189.8 319.6h7.6M195.1 309.0V322.1M191.3 309.0h7.6M191.3 322.1h7.6M196.6 304.0V317.4M192.8 304.0h7.6M192.8 317.4h7.6M198.1 303.3V316.8M194.3 303.3h7.6M194.3 316.8h7.6M199.5 313.1V326.9M195.7 313.1h7.6M195.7 326.9h7.6M201.0 304.7V318.7M197.2 304.7h7.6M197.2 318.7h7.6M202.5 317.8V332.1M198.7 317.8h7.6M198.7 332.1h7.6M203.9 307.7V322.2M200.1 307.7h7.6M200.1 322.2h7.6M205.4 306.6V321.4M201.6 306.6h7.6M201.6 321.4h7.6M206.9 300.6V315.6M203.1 300.6h7.6M203.1 315.6h7.6M208.3 309.2V324.5M204.5 309.2h7.6M204.5 324.5h7.6M209.8 308.5V323.9M206.0 308.5h7.6M206.0 323.9h7.6M211.3 312.9V328.6M207.5 312.9h7.6M207.5 328.6h7.6M212.8 310.3V326.3M209.0 310.3h7.6M209.0 326.3h7.6M214.2 306.3V322.5M210.4 306.3h7.6M210.4 322.5h7.6M215.7 305.8V322.4M211.9 305.8h7.6M211.9 322.4h7.6M217.2 314.4V331.3M213.4 314.4h7.6M213.4 331.3h7.6M218.6 321.5V338.8M214.8 321.5h7.6M214.8 338.8h7.6M220.1 300.7V318.4M216.3 300.7h7.6M216.3 318.4h7.6M221.6 307.9V326.0M217.8 307.9h7.6M217.8 326.0h7.6M223.0 317.7V336.3M219.2 317.7h7.6M219.2 336.3h7.6M224.5 301.1V320.1M220.7 301.1h7.6M220.7 320.1h7.6M226.0 320.5V339.9M222.2 320.5h7.6M222.2 339.9h7.6M227.5 317.8V337.6M223.7 317.8h7.6M223.7 337.6h7.6M228.9 327.9V348.2M225.1 327.9h7.6M225.1 348.2h7.6M230.4 300.6V321.3M226.6 300.6h7.6M226.6 321.3h7.6M231.9 329.9V351.2M228.1 329.9h7.6M228.1 351.2h7.6M234.4 301.2V323.2M230.6 301.2h7.6M230.6 323.2h7.6M236.9 312.8V335.7M233.1 312.8h7.6M233.1 335.7h7.6M239.4 325.9V349.7M235.6 325.9h7.6M235.6 349.7h7.6M241.9 332.6V357.4M238.1 332.6h7.6M238.1 357.4h7.6M244.4 307.8V333.5M240.6 307.8h7.6M240.6 333.5h7.6M246.9 305.6V332.3M243.1 305.6h7.6M243.1 332.3h7.6M249.4 321.7V349.5M245.6 321.7h7.6M245.6 349.5h7.6M251.9 318.8V347.8M248.1 318.8h7.6M248.1 347.8h7.6M254.4 295.8V325.8M250.6 295.8h7.6M250.6 325.8h7.6M256.9 317.2V348.5M253.1 317.2h7.6M253.1 348.5h7.6M259.4 342.3V374.8M255.6 342.3h7.6M255.6 374.8h7.6M261.9 305.2V339.0M258.1 305.2h7.6M258.1 339.0h7.6M264.4 336.6V371.7M260.6 336.6h7.6M260.6 371.7h7.6M266.9 326.5V363.0M263.1 326.5h7.6M263.1 363.0h7.6M269.4 324.3V362.2M265.6 324.3h7.6M265.6 362.2h7.6M271.9 356.9V396.3M268.1 356.9h7.6M268.1 396.3h7.6M274.4 308.8V349.8M270.6 308.8h7.6M270.6 349.8h7.6M276.9 311.5V354.1M273.1 311.5h7.6M273.1 354.1h7.6M279.4 296.2V340.4M275.6 296.2h7.6M275.6 340.4h7.6M281.8 322.4V368.4M278.0 322.4h7.6M278.0 368.4h7.6M284.3 347.3V395.1M280.5 347.3h7.6M280.5 395.1h7.6M286.8 349.4V399.1M283.0 349.4h7.6M283.0 399.1h7.6M289.3 337.2V388.8M285.5 337.2h7.6M285.5 388.8h7.6M291.8 347.7V401.4M288.0 347.7h7.6M288.0 401.4h7.6M294.3 345.4V401.2M290.5 345.4h7.6M290.5 401.2h7.6M296.8 327.4V385.4M293.0 327.4h7.6M293.0 385.4h7.6M299.3 347.9V408.2M295.5 347.9h7.6M295.5 408.2h7.6M301.8 352.8V415.4M298.0 352.8h7.6M298.0 415.4h7.6M303.9 341.3V406.0M300.1 341.3h7.6M300.1 406.0h7.6" stroke="#0040ff" stroke-width="1.3"/>
<path d="M81.8 66.1a3.1 3.1 0 1 0 6.2 0a3.1 3.1 0 1 0 -6.2 0M83.8 72.0a3.1 3.1 0 1 0 6.2 0a3.1 3.1 0 1 0 -6.2 0M85.9 79.2a3.1 3.1 0 1 0 6.2 0a3.1 3.1 0 1 0 -6.2 0M87.9 83.8a3.1 3.1 0 1 0 6.2 0a3.1 3.1 0 1 0 -6.2 0M90.0 89.6a3.1 3.1 0 1 0 6.2 0a3.1 3.1 0 1 0 -6.2 0M92.1 96.5a3.1 3.1 0 1 0 6.2 0a3.1 3.1 0 1 0 -6.2 0M94.1 102.8a3.1 3.1 0 1 0 6.2 0a3.1 3.1 0 1 0 -6.2 0M96.2 110.8a3.1 3.1 0 1 0 6.2 0a3.1 3.1 0 1 0 -6.2 0M98.2 119.2a3.1 3.1 0 1 0 6.2 0a3.1 3.1 0 1 0 -6.2 0M100.3 133.2a3.1 3.1 0 1 0 6.2 0a3.1 3.1 0 1 0 -6.2 0M102.4 141.8a3.1 3.1 0 1 0 6.2 0a3.1 3.1 0 1 0 -6.2 0M104.4 150.5a3.1 3.1 0 1 0 6.2 0a3.1 3.1 0 1 0 -6.2 0M106.5 153.9a3.1 3.1 0 1 0 6.2 0a3.1 3.1 0 1 0 -6.2 0M108.5 166.1a3.1 3.1 0 1 0 6.2 0a3.1 3.1 0 1 0 -6.2 0M110.6 186.7a3.1 3.1 0 1 0 6.2 0a3.1 3.1 0 1 0 -6.2 0M112.6 203.0a3.1 3.1 0 1 0 6.2 0a3.1 3.1 0 1 0 -6.2 0M114.1 210.5a3.1 3.1 0 1 0 6.2 0a3.1 3.1 0 1 0 -6.2 0M115.6 218.9a3.1 3.1 0 1 0 6.2 0a3.1 3.1 0 1 0 -6.2 0M117.1 223.9a3.1 3.1 0 1 0 6.2 0a3.1 3.1 0 1 0 -6.2 0M118.5 230.0a3.1 3.1 0 1 0 6.2 0a3.1 3.1 0 1 0 -6.2 0M120.0 239.9a3.1 3.1 0 1 0 6.2 0a3.1 3.1 0 1 0 -6.2 0M121.5 241.3a3.1 3.1 0 1 0 6.2 0a3.1 3.1 0 1 0 -6.2 0M122.9 245.8a3.1 3.1 0 1 0 6.2 0a3.1 3.1 0 1 0 -6.2 0M124.4 253.6a3.1 3.1 0 1 0 6.2 0a3.1 3.1 0 1 0 -6.2 0M125.9 252.3a3.1 3.1 0 1 0 6.2 0a3.1 3.1 0 1 0 -6.2 0M127.3 256.4a3.1 3.1 0 1 0 6.2 0a3.1 3.1 0 1 0 -6.2 0M128.8 264.2a3.1 3.1 0 1 0 6.2 0a3.1 3.1 0 1 0 -6.2 0M130.3 266.8a3.1 3.1 0 1 0 6.2 0a3.1 3.1 0 1 0 -6.2 0M131.8 270.4a3.1 3.1 0 1 0 6.2 0a3.1 3.1 0 1 0 -6.2 0M133.2 267.6a3.1 3.1 0 1 0 6.2 0a3.1 3.1 0 1 0 -6.2 0M134.7 270.6a3.1 3.1 0 1 0 6.2 0a3.1 3.1 0 1 0 -6.2 0M136.2 283.4a3.1 3.1 0 1 0 6.2 0a3.1 3.1 0 1 0 -6.2 0M137.6 282.3a3.1 3.1 0 1 0 6.2 0a3.1 3.1 0 1 0 -6.2 0M139.1 294.3a3.1 3.1 0 1 0 6.2 0a3.1 3.1 0 1 0 -6.2 0M140.6 297.0a3.1 3.1 0 1 0 6.2 0a3.1 3.1 0 1 0 -6.2 0M142.0 288.6a3.1 3.1 0 1 0 6.2 0a3.1 3.1 0 1 0 -6.2 0M143.5 287.1a3.1 3.1 0 1 0 6.2 0a3.1 3.1 0 1 0 -6.2 0M145.0 296.6a3.1 3.1 0 1 0 6.2 0a3.1 3.1 0 1 0 -6.2 0M146.5 293.5a3.1 3.1 0 1 0 6.2 0a3.1 3.1 0 1 0 -6.2 0M147.9 304.3a3.1 3.1 0 1 0 6.2 0a3.1 3.1 0 1 0 -6.2 0M149.4 305.0a3.1 3.1 0 1 0 6.2 0a3.1 3.1 0 1 0 -6.2 0M150.9 295.9a3.1 3.1 0 1 0 6.2 0a3.1 3.1 0 1 0 -6.2 0M152.3 299.4a3.1 3.1 0 1 0 6.2 0a3.1 3.1 0 1 0 -6.2 0M153.8 296.6a3.1 3.1 0 1 0 6.2 0a3.1 3.1 0 1 0 -6.2 0M155.3 304.1a3.1 3.1 0 1 0 6.2 0a3.1 3.1 0 1 0 -6.2 0M156.7 302.7a3.1 3.1 0 1 0 6.2 0a3.1 3.1 0 1 0 -6.2 0M158.2 307.9a3.1 3.1 0 1 0 6.2 0a3.1 3.1 0 1 0 -6.2 0M159.7 296.9a3.1 3.1 0 1 0 6.2 0a3.1 3.1 0 1 0 -6.2 0M161.1 305.6a3.1 3.1 0 1 0 6.2 0a3.1 3.1 0 1 0 -6.2 0M162.6 295.8a3.1 3.1 0 1 0 6.2 0a3.1 3.1 0 1 0 -6.2 0M164.1 311.7a3.1 3.1 0 1 0 6.2 0a3.1 3.1 0 1 0 -6.2 0M165.6 306.5a3.1 3.1 0 1 0 6.2 0a3.1 3.1 0 1 0 -6.2 0M167.0 303.9a3.1 3.1 0 1 0 6.2 0a3.1 3.1 0 1 0 -6.2 0M168.5 302.6a3.1 3.1 0 1 0 6.2 0a3.1 3.1 0 1 0 -6.2 0M170.0 301.5a3.1 3.1 0 1 0 6.2 0a3.1 3.1 0 1 0 -6.2 0M171.4 303.3a3.1 3.1 0 1 0 6.2 0a3.1 3.1 0 1 0 -6.2 0M172.9 316.2a3.1 3.1 0 1 0 6.2 0a3.1 3.1 0 1 0 -6.2 0M174.4 302.0a3.1 3.1 0 1 0 6.2 0a3.1 3.1 0 1 0 -6.2 0M175.8 300.7a3.1 3.1 0 1 0 6.2 0a3.1 3.1 0 1 0 -6.2 0M177.3 312.6a3.1 3.1 0 1 0 6.2 0a3.1 3.1 0 1 0 -6.2 0M178.8 318.1a3.1 3.1 0 1 0 6.2 0a3.1 3.1 0 1 0 -6.2 0M180.3 306.6a3.1 3.1 0 1 0 6.2 0a3.1 3.1 0 1 0 -6.2 0M181.7 303.5a3.1 3.1 0 1 0 6.2 0a3.1 3.1 0 1 0 -6.2 0M183.2 305.4a3.1 3.1 0 1 0 6.2 0a3.1 3.1 0 1 0 -6.2 0M184.7 308.9a3.1 3.1 0 1 0 6.2 0a3.1 3.1 0 1 0 -6.2 0M186.1 315.5a3.1 3.1 0 1 0 6.2 0a3.1 3.1 0 1 0 -6.2 0M187.6 319.4a3.1 3.1 0 1 0 6.2 0a3.1 3.1 0 1 0 -6.2 0M189.1 309.2a3.1 3.1 0 1 0 6.2 0a3.1 3.1 0 1 0 -6.2 0M190.5 313.2a3.1 3.1 0 1 0 6.2 0a3.1 3.1 0 1 0 -6.2 0M192.0 315.6a3.1 3.1 0 1 0 6.2 0a3.1 3.1 0 1 0 -6.2 0M193.5 310.7a3.1 3.1 0 1 0 6.2 0a3.1 3.1 0 1 0 -6.2 0M195.0 310.0a3.1 3.1 0 1 0 6.2 0a3.1 3.1 0 1 0 -6.2 0M196.4 320.0a3.1 3.1 0 1 0 6.2 0a3.1 3.1 0 1 0 -6.2 0M197.9 311.7a3.1 3.1 0 1 0 6.2 0a3.1 3.1 0 1 0 -6.2 0M199.4 325.0a3.1 3.1 0 1 0 6.2 0a3.1 3.1 0 1 0 -6.2 0M200.8 315.0a3.1 3.1 0 1 0 6.2 0a3.1 3.1 0 1 0 -6.2 0M202.3 314.0a3.1 3.1 0 1 0 6.2 0a3.1 3.1 0 1 0 -6.2 0M203.8 308.1a3.1 3.1 0 1 0 6.2 0a3.1 3.1 0 1 0 -6.2 0M205.2 316.9a3.1 3.1 0 1 0 6.2 0a3.1 3.1 0 1 0 -6.2 0M206.7 316.2a3.1 3.1 0 1 0 6.2 0a3.1 3.1 0 1 0 -6.2 0M208.2 320.7a3.1 3.1 0 1 0 6.2 0a3.1 3.1 0 1 0 -6.2 0M209.7 318.3a3.1 3.1 0 1 0 6.2 0a3.1 3.1 0 1 0 -6.2 0M211.1 314.4a3.1 3.1 0 1 0 6.2 0a3.1 3.1 0 1 0 -6.2 0M212.6 314.1a3.1 3.1 0 1 0 6.2 0a3.1 3.1 0 1 0 -6.2 0M214.1 322.9a3.1 3.1 0 1 0 6.2 0a3.1 3.1 0 1 0 -6.2 0M215.5 330.1a3.1 3.1 0 1 0 6.2 0a3.1 3.1 0 1 0 -6.2 0M217.0 309.5a3.1 3.1 0 1 0 6.2 0a3.1 3.1 0 1 0 -6.2 0M218.5 317.0a3.1 3.1 0 1 0 6.2 0a3.1 3.1 0 1 0 -6.2 0M219.9 327.0a3.1 3.1 0 1 0 6.2 0a3.1 3.1 0 1 0 -6.2 0M221.4 310.6a3.1 3.1 0 1 0 6.2 0a3.1 3.1 0 1 0 -6.2 0M222.9 330.2a3.1 3.1 0 1 0 6.2 0a3.1 3.1 0 1 0 -6.2 0M224.4 327.7a3.1 3.1 0 1 0 6.2 0a3.1 3.1 0 1 0 -6.2 0M225.8 338.1a3.1 3.1 0 1 0 6.2 0a3.1 3.1 0 1 0 -6.2 0M227.3 311.0a3.1 3.1 0 1 0 6.2 0a3.1 3.1 0 1 0 -6.2 0M228.8 340.6a3.1 3.1 0 1 0 6.2 0a3.1 3.1 0 1 0 -6.2 0M231.3 312.2a3.1 3.1 0 1 0 6.2 0a3.1 3.1 0 1 0 -6.2 0M233.8 324.2a3.1 3.1 0 1 0 6.2 0a3.1 3.1 0 1 0 -6.2 0M236.3 337.8a3.1 3.1 0 1 0 6.2 0a3.1 3.1 0 1 0 -6.2 0M238.8 345.0a3.1 3.1 0 1 0 6.2 0a3.1 3.1 0 1 0 -6.2 0M241.3 320.6a3.1 3.1 0 1 0 6.2 0a3.1 3.1 0 1 0 -6.2 0M243.8 318.9a3.1 3.1 0 1 0 6.2 0a3.1 3.1 0 1 0 -6.2 0M246.3 335.6a3.1 3.1 0 1 0 6.2 0a3.1 3.1 0 1 0 -6.2 0M248.8 333.3a3.1 3.1 0 1 0 6.2 0a3.1 3.1 0 1 0 -6.2 0M251.3 310.8a3.1 3.1 0 1 0 6.2 0a3.1 3.1 0 1 0 -6.2 0M253.8 332.9a3.1 3.1 0 1 0 6.2 0a3.1 3.1 0 1 0 -6.2 0M256.3 358.6a3.1 3.1 0 1 0 6.2 0a3.1 3.1 0 1 0 -6.2 0M258.8 322.1a3.1 3.1 0 1 0 6.2 0a3.1 3.1 0 1 0 -6.2 0M261.3 354.2a3.1 3.1 0 1 0 6.2 0a3.1 3.1 0 1 0 -6.2 0M263.8 344.7a3.1 3.1 0 1 0 6.2 0a3.1 3.1 0 1 0 -6.2 0M266.3 343.3a3.1 3.1 0 1 0 6.2 0a3.1 3.1 0 1 0 -6.2 0M268.8 376.6a3.1 3.1 0 1 0 6.2 0a3.1 3.1 0 1 0 -6.2 0M271.3 329.3a3.1 3.1 0 1 0 6.2 0a3.1 3.1 0 1 0 -6.2 0M273.8 332.8a3.1 3.1 0 1 0 6.2 0a3.1 3.1 0 1 0 -6.2 0M276.3 318.3a3.1 3.1 0 1 0 6.2 0a3.1 3.1 0 1 0 -6.2 0M278.7 345.4a3.1 3.1 0 1 0 6.2 0a3.1 3.1 0 1 0 -6.2 0M281.2 371.2a3.1 3.1 0 1 0 6.2 0a3.1 3.1 0 1 0 -6.2 0M283.7 374.3a3.1 3.1 0 1 0 6.2 0a3.1 3.1 0 1 0 -6.2 0M286.2 363.0a3.1 3.1 0 1 0 6.2 0a3.1 3.1 0 1 0 -6.2 0M288.7 374.6a3.1 3.1 0 1 0 6.2 0a3.1 3.1 0 1 0 -6.2 0M291.2 373.3a3.1 3.1 0 1 0 6.2 0a3.1 3.1 0 1 0 -6.2 0M293.7 356.4a3.1 3.1 0 1 0 6.2 0a3.1 3.1 0 1 0 -6.2 0M296.2 378.1a3.1 3.1 0 1 0 6.2 0a3.1 3.1 0 1 0 -6.2 0M298.7 384.1a3.1 3.1 0 1 0 6.2 0a3.1 3.1 0 1 0 -6.2 0M300.8 373.6a3.1 3.1 0 1 0 6.2 0a3.1 3.1 0 1 0 -6.2 0" stroke="#0040ff" stroke-width="1.75"/>
<path d="M84.1 66.0V69.8M80.3 66.0h7.6M80.3 69.8h7.6M86.2 69.8V73.6M82.4 69.8h7.6M82.4 73.6h7.6M88.3 74.9V78.8M84.5 74.9h7.6M84.5 78.8h7.6M90.3 77.8V81.8M86.5 77.8h7.6M86.5 81.8h7.6M92.4 83.3V87.4M88.6 83.3h7.6M88.6 87.4h7.6M94.4 90.1V94.3M90.6 90.1h7.6M90.6 94.3h7.6M96.5 94.9V99.2M92.7 94.9h7.6M92.7 99.2h7.6M98.5 100.4V104.8M94.7 100.4h7.6M94.7 104.8h7.6M100.6 106.9V111.4M96.8 106.9h7.6M96.8 111.4h7.6M102.7 115.1V119.7M98.9 115.1h7.6M98.9 119.7h7.6M104.7 123.9V128.7M100.9 123.9h7.6M100.9 128.7h7.6M106.8 140.1V144.9M103.0 140.1h7.6M103.0 144.9h7.6M108.8 150.5V155.4M105.0 150.5h7.6M105.0 155.4h7.6M110.9 162.4V167.5M107.1 162.4h7.6M107.1 167.5h7.6M112.9 170.0V175.1M109.1 170.0h7.6M109.1 175.1h7.6M115.0 176.1V181.4M111.2 176.1h7.6M111.2 181.4h7.6M117.1 184.8V190.2M113.3 184.8h7.6M113.3 190.2h7.6M118.5 192.0V197.5M114.7 192.0h7.6M114.7 197.5h7.6M120.0 199.4V205.0M116.2 199.4h7.6M116.2 205.0h7.6M121.5 201.2V206.8M117.7 201.2h7.6M117.7 206.8h7.6M122.9 208.5V214.3M119.1 208.5h7.6M119.1 214.3h7.6M124.4 209.4V215.2M120.6 209.4h7.6M120.6 215.2h7.6M125.9 213.3V219.2M122.1 213.3h7.6M122.1 219.2h7.6M127.4 221.1V227.1M123.6 221.1h7.6M123.6 227.1h7.6M128.8 220.6V226.8M125.0 220.6h7.6M125.0 226.8h7.6M130.3 225.1V231.3M126.5 225.1h7.6M126.5 231.3h7.6M131.8 231.2V237.6M128.0 231.2h7.6M128.0 237.6h7.6M133.2 232.5V239.0M129.4 232.5h7.6M129.4 239.0h7.6M134.7 234.6V241.2M130.9 234.6h7.6M130.9 241.2h7.6M136.2 230.6V237.3M132.4 230.6h7.6M132.4 237.3h7.6M137.6 230.9V237.7M133.8 230.9h7.6M133.8 237.7h7.6M139.1 239.9V246.9M135.3 239.9h7.6M135.3 246.9h7.6M140.6 236.5V243.5M136.8 236.5h7.6M136.8 243.5h7.6M142.1 245.5V252.7M138.3 245.5h7.6M138.3 252.7h7.6M143.5 246.8V254.1M139.7 246.8h7.6M139.7 254.1h7.6M145.0 238.0V245.5M141.2 238.0h7.6M141.2 245.5h7.6M146.5 235.6V243.1M142.7 235.6h7.6M142.7 243.1h7.6M147.9 243.1V250.7M144.1 243.1h7.6M144.1 250.7h7.6M149.4 239.3V247.1M145.6 239.3h7.6M145.6 247.1h7.6M150.9 248.7V256.6M147.1 248.7h7.6M147.1 256.6h7.6M152.3 249.4V257.5M148.5 249.4h7.6M148.5 257.5h7.6M153.8 241.3V249.5M150.0 241.3h7.6M150.0 249.5h7.6M155.3 244.5V252.8M151.5 244.5h7.6M151.5 252.8h7.6M156.8 242.1V250.5M153.0 242.1h7.6M153.0 250.5h7.6M158.2 249.0V257.6M154.4 249.0h7.6M154.4 257.6h7.6M159.7 248.0V256.7M155.9 248.0h7.6M155.9 256.7h7.6M161.2 252.9V261.8M157.4 252.9h7.6M157.4 261.8h7.6M162.6 243.2V252.2M158.8 243.2h7.6M158.8 252.2h7.6M164.1 251.3V260.5M160.3 251.3h7.6M160.3 260.5h7.6M165.6 242.7V252.1M161.8 242.7h7.6M161.8 252.1h7.6M167.0 257.2V266.7M163.2 257.2h7.6M163.2 266.7h7.6M168.5 252.4V262.1M164.7 252.4h7.6M164.7 262.1h7.6M170.0 249.9V259.7M166.2 249.9h7.6M166.2 259.7h7.6M171.5 248.6V258.6M167.7 248.6h7.6M167.7 258.6h7.6M172.9 247.3V257.5M169.1 247.3h7.6M169.1 257.5h7.6M174.4 248.7V259.1M170.6 248.7h7.6M170.6 259.1h7.6M175.9 260.2V270.7M172.1 260.2h7.6M172.1 270.7h7.6M177.3 247.2V257.9M173.5 247.2h7.6M173.5 257.9h7.6M178.8 245.9V256.7M175.0 245.9h7.6M175.0 256.7h7.6M180.3 256.3V267.3M176.5 256.3h7.6M176.5 267.3h7.6M181.7 261.0V272.2M177.9 261.0h7.6M177.9 272.2h7.6M183.2 250.5V261.9M179.4 250.5h7.6M179.4 261.9h7.6M184.7 247.5V259.1M180.9 247.5h7.6M180.9 259.1h7.6M186.2 248.6V260.5M182.4 248.6h7.6M182.4 260.5h7.6M187.6 251.1V263.2M183.8 251.1h7.6M183.8 263.2h7.6M189.1 256.4V268.6M185.3 256.4h7.6M185.3 268.6h7.6M190.6 259.3V271.7M186.8 259.3h7.6M186.8 271.7h7.6M192.0 249.5V262.1M188.2 249.5h7.6M188.2 262.1h7.6M193.5 252.4V265.3M189.7 252.4h7.6M189.7 265.3h7.6M195.0 253.9V267.0M191.2 253.9h7.6M191.2 267.0h7.6M196.4 248.9V262.2M192.6 248.9h7.6M192.6 262.2h7.6M197.9 247.7V261.2M194.1 247.7h7.6M194.1 261.2h7.6M199.4 256.0V269.7M195.6 256.0h7.6M195.6 269.7h7.6M200.9 247.9V261.8M197.1 247.9h7.6M197.1 261.8h7.6M202.3 259.2V273.4M198.5 259.2h7.6M198.5 273.4h7.6M203.8 249.7V264.1M200.0 249.7h7.6M200.0 264.1h7.6M205.3 248.3V263.0M201.5 248.3h7.6M201.5 263.0h7.6M206.7 242.4V257.4M202.9 242.4h7.6M202.9 257.4h7.6M208.2 249.8V265.0M204.4 249.8h7.6M204.4 265.0h7.6M209.7 248.6V264.1M205.9 248.6h7.6M205.9 264.1h7.6M211.1 252.2V267.9M207.3 252.2h7.6M207.3 267.9h7.6M212.6 249.5V265.4M208.8 249.5h7.6M208.8 265.4h7.6M214.1 245.4V261.6M210.3 245.4h7.6M210.3 261.6h7.6M215.6 244.6V261.1M211.8 244.6h7.6M211.8 261.1h7.6M217.0 251.8V268.7M213.2 251.8h7.6M213.2 268.7h7.6M218.5 257.8V275.1M214.7 257.8h7.6M214.7 275.1h7.6M220.0 238.7V256.3M216.2 238.7h7.6M216.2 256.3h7.6M221.4 244.6V262.7M217.6 244.6h7.6M217.6 262.7h7.6M222.9 252.9V271.4M219.1 252.9h7.6M219.1 271.4h7.6M224.4 237.5V256.4M220.6 237.5h7.6M220.6 256.4h7.6M225.8 254.4V273.8M222.0 254.4h7.6M222.0 273.8h7.6M227.3 251.5V271.3M223.5 251.5h7.6M223.5 271.3h7.6M228.8 260.1V280.4M225.0 260.1h7.6M225.0 280.4h7.6M230.3 234.9V255.7M226.5 234.9h7.6M226.5 255.7h7.6M231.7 260.9V282.1M227.9 260.9h7.6M227.9 282.1h7.6M234.2 234.1V256.1M230.4 234.1h7.6M230.4 256.1h7.6M236.7 243.7V266.6M232.9 243.7h7.6M232.9 266.6h7.6M239.2 255.4V279.2M235.4 255.4h7.6M235.4 279.2h7.6M241.7 261.7V286.4M237.9 261.7h7.6M237.9 286.4h7.6M244.2 239.5V265.2M240.4 239.5h7.6M240.4 265.2h7.6M246.7 237.7V264.4M242.9 237.7h7.6M242.9 264.4h7.6M249.2 252.6V280.4M245.4 252.6h7.6M245.4 280.4h7.6M251.7 250.3V279.1M247.9 250.3h7.6M247.9 279.1h7.6M254.2 229.5V259.5M250.4 229.5h7.6M250.4 259.5h7.6M256.7 249.0V280.2M252.9 249.0h7.6M252.9 280.2h7.6M259.2 271.7V304.1M255.4 271.7h7.6M255.4 304.1h7.6M261.7 237.8V271.5M257.9 237.8h7.6M257.9 271.5h7.6M264.2 266.2V301.2M260.4 266.2h7.6M260.4 301.2h7.6M266.7 256.8V293.2M262.9 256.8h7.6M262.9 293.2h7.6M269.2 254.7V292.5M265.4 254.7h7.6M265.4 292.5h7.6M271.7 284.3V323.6M267.9 284.3h7.6M267.9 323.6h7.6M274.2 239.6V280.5M270.4 239.6h7.6M270.4 280.5h7.6M276.7 240.7V283.2M272.9 240.7h7.6M272.9 283.2h7.6M279.2 225.4V269.5M275.4 225.4h7.6M275.4 269.5h7.6M281.7 248.0V293.9M277.9 248.0h7.6M277.9 293.9h7.6M284.2 269.5V317.2M280.4 269.5h7.6M280.4 317.2h7.6M286.7 270.1V319.7M282.9 270.1h7.6M282.9 319.7h7.6M289.2 257.5V309.1M285.4 257.5h7.6M285.4 309.1h7.6M291.7 265.5V319.0M287.9 265.5h7.6M287.9 319.0h7.6M294.2 261.1V316.8M290.4 261.1h7.6M290.4 316.8h7.6M296.7 242.3V300.2M292.9 242.3h7.6M292.9 300.2h7.6M299.2 258.9V319.1M295.4 258.9h7.6M295.4 319.1h7.6M301.7 261.1V323.6M297.9 261.1h7.6M297.9 323.6h7.6M303.9 248.6V313.3M300.1 248.6h7.6M300.1 313.3h7.6" stroke="#009a00" stroke-width="1.3"/>
<path d="M80.9 64.7h6.4v6.4h-6.4zM83.0 68.5h6.4v6.4h-6.4zM85.1 73.7h6.4v6.4h-6.4zM87.1 76.6h6.4v6.4h-6.4zM89.2 82.2h6.4v6.4h-6.4zM91.2 89.0h6.4v6.4h-6.4zM93.3 93.9h6.4v6.4h-6.4zM95.3 99.4h6.4v6.4h-6.4zM97.4 105.9h6.4v6.4h-6.4zM99.5 114.2h6.4v6.4h-6.4zM101.5 123.1h6.4v6.4h-6.4zM103.6 139.3h6.4v6.4h-6.4zM105.6 149.7h6.4v6.4h-6.4zM107.7 161.8h6.4v6.4h-6.4zM109.7 169.4h6.4v6.4h-6.4zM111.8 175.5h6.4v6.4h-6.4zM113.9 184.3h6.4v6.4h-6.4zM115.3 191.6h6.4v6.4h-6.4zM116.8 199.0h6.4v6.4h-6.4zM118.3 200.8h6.4v6.4h-6.4zM119.7 208.2h6.4v6.4h-6.4zM121.2 209.1h6.4v6.4h-6.4zM122.7 213.1h6.4v6.4h-6.4zM124.2 220.9h6.4v6.4h-6.4zM125.6 220.5h6.4v6.4h-6.4zM127.1 225.0h6.4v6.4h-6.4zM128.6 231.2h6.4v6.4h-6.4zM130.0 232.5h6.4v6.4h-6.4zM131.5 234.7h6.4v6.4h-6.4zM133.0 230.8h6.4v6.4h-6.4zM134.4 231.1h6.4v6.4h-6.4zM135.9 240.2h6.4v6.4h-6.4zM137.4 236.8h6.4v6.4h-6.4zM138.9 245.9h6.4v6.4h-6.4zM140.3 247.2h6.4v6.4h-6.4zM141.8 238.5h6.4v6.4h-6.4zM143.3 236.1h6.4v6.4h-6.4zM144.7 243.7h6.4v6.4h-6.4zM146.2 240.0h6.4v6.4h-6.4zM147.7 249.4h6.4v6.4h-6.4zM149.1 250.3h6.4v6.4h-6.4zM150.6 242.2h6.4v6.4h-6.4zM152.1 245.5h6.4v6.4h-6.4zM153.6 243.1h6.4v6.4h-6.4zM155.0 250.1h6.4v6.4h-6.4zM156.5 249.2h6.4v6.4h-6.4zM158.0 254.1h6.4v6.4h-6.4zM159.4 244.5h6.4v6.4h-6.4zM160.9 252.7h6.4v6.4h-6.4zM162.4 244.2h6.4v6.4h-6.4zM163.8 258.7h6.4v6.4h-6.4zM165.3 254.1h6.4v6.4h-6.4zM166.8 251.6h6.4v6.4h-6.4zM168.3 250.4h6.4v6.4h-6.4zM169.7 249.2h6.4v6.4h-6.4zM171.2 250.7h6.4v6.4h-6.4zM172.7 262.2h6.4v6.4h-6.4zM174.1 249.4h6.4v6.4h-6.4zM175.6 248.1h6.4v6.4h-6.4zM177.1 258.6h6.4v6.4h-6.4zM178.5 263.4h6.4v6.4h-6.4zM180.0 253.0h6.4v6.4h-6.4zM181.5 250.1h6.4v6.4h-6.4zM183.0 251.3h6.4v6.4h-6.4zM184.4 254.0h6.4v6.4h-6.4zM185.9 259.3h6.4v6.4h-6.4zM187.4 262.3h6.4v6.4h-6.4zM188.8 252.6h6.4v6.4h-6.4zM190.3 255.6h6.4v6.4h-6.4zM191.8 257.3h6.4v6.4h-6.4zM193.2 252.4h6.4v6.4h-6.4zM194.7 251.3h6.4v6.4h-6.4zM196.2 259.7h6.4v6.4h-6.4zM197.7 251.7h6.4v6.4h-6.4zM199.1 263.1h6.4v6.4h-6.4zM200.6 253.7h6.4v6.4h-6.4zM202.1 252.4h6.4v6.4h-6.4zM203.5 246.7h6.4v6.4h-6.4zM205.0 254.2h6.4v6.4h-6.4zM206.5 253.2h6.4v6.4h-6.4zM207.9 256.8h6.4v6.4h-6.4zM209.4 254.2h6.4v6.4h-6.4zM210.9 250.3h6.4v6.4h-6.4zM212.4 249.6h6.4v6.4h-6.4zM213.8 257.1h6.4v6.4h-6.4zM215.3 263.2h6.4v6.4h-6.4zM216.8 244.3h6.4v6.4h-6.4zM218.2 250.5h6.4v6.4h-6.4zM219.7 259.0h6.4v6.4h-6.4zM221.2 243.8h6.4v6.4h-6.4zM222.6 260.9h6.4v6.4h-6.4zM224.1 258.2h6.4v6.4h-6.4zM225.6 267.0h6.4v6.4h-6.4zM227.1 242.1h6.4v6.4h-6.4zM228.5 268.3h6.4v6.4h-6.4zM231.0 241.9h6.4v6.4h-6.4zM233.5 251.9h6.4v6.4h-6.4zM236.0 264.1h6.4v6.4h-6.4zM238.5 270.9h6.4v6.4h-6.4zM241.0 249.1h6.4v6.4h-6.4zM243.5 247.9h6.4v6.4h-6.4zM246.0 263.3h6.4v6.4h-6.4zM248.5 261.5h6.4v6.4h-6.4zM251.0 241.3h6.4v6.4h-6.4zM253.5 261.4h6.4v6.4h-6.4zM256.0 284.7h6.4v6.4h-6.4zM258.5 251.4h6.4v6.4h-6.4zM261.0 280.5h6.4v6.4h-6.4zM263.5 271.8h6.4v6.4h-6.4zM266.0 270.4h6.4v6.4h-6.4zM268.5 300.8h6.4v6.4h-6.4zM271.0 256.8h6.4v6.4h-6.4zM273.5 258.8h6.4v6.4h-6.4zM276.0 244.2h6.4v6.4h-6.4zM278.5 267.7h6.4v6.4h-6.4zM281.0 290.2h6.4v6.4h-6.4zM283.5 291.7h6.4v6.4h-6.4zM286.0 280.1h6.4v6.4h-6.4zM288.5 289.0h6.4v6.4h-6.4zM291.0 285.7h6.4v6.4h-6.4zM293.5 268.0h6.4v6.4h-6.4zM296.0 285.8h6.4v6.4h-6.4zM298.5 289.2h6.4v6.4h-6.4zM300.7 277.8h6.4v6.4h-6.4z" stroke="#009a00" stroke-width="1.75"/>
<path d="M84.1 62.5V66.2M80.3 62.5h7.6M80.3 66.2h7.6M86.2 66.7V70.5M82.4 66.7h7.6M82.4 70.5h7.6M88.3 72.7V76.6M84.5 72.7h7.6M84.5 76.6h7.6M90.3 77.5V81.5M86.5 77.5h7.6M86.5 81.5h7.6M92.4 82.4V86.5M88.6 82.4h7.6M88.6 86.5h7.6M94.4 87.3V91.5M90.6 87.3h7.6M90.6 91.5h7.6M96.5 93.3V97.6M92.7 93.3h7.6M92.7 97.6h7.6M98.5 98.4V102.8M94.7 98.4h7.6M94.7 102.8h7.6M100.6 104.8V109.3M96.8 104.8h7.6M96.8 109.3h7.6M102.7 112.4V117.0M98.9 112.4h7.6M98.9 117.0h7.6M104.7 117.0V121.7M100.9 117.0h7.6M100.9 121.7h7.6M106.8 121.7V126.5M103.0 121.7h7.6M103.0 126.5h7.6M108.8 129.0V134.0M105.0 129.0h7.6M105.0 134.0h7.6M110.9 131.8V136.8M107.1 131.8h7.6M107.1 136.8h7.6M112.9 138.2V143.3M109.1 138.2h7.6M109.1 143.3h7.6M115.0 147.2V152.5M111.2 147.2h7.6M111.2 152.5h7.6M117.1 156.8V162.2M113.3 156.8h7.6M113.3 162.2h7.6M118.5 159.1V164.6M114.7 159.1h7.6M114.7 164.6h7.6M120.0 157.8V163.4M116.2 157.8h7.6M116.2 163.4h7.6M121.5 162.7V168.4M117.7 162.7h7.6M117.7 168.4h7.6M122.9 164.0V169.8M119.1 164.0h7.6M119.1 169.8h7.6M124.4 165.3V171.1M120.6 165.3h7.6M120.6 171.1h7.6M125.9 166.4V172.4M122.1 166.4h7.6M122.1 172.4h7.6M127.4 166.0V172.1M123.6 166.0h7.6M123.6 172.1h7.6M128.8 166.6V172.8M125.0 166.6h7.6M125.0 172.8h7.6M130.3 168.3V174.6M126.5 168.3h7.6M126.5 174.6h7.6M131.8 166.6V173.0M128.0 166.6h7.6M128.0 173.0h7.6M133.2 170.3V176.8M129.4 170.3h7.6M129.4 176.8h7.6M134.7 169.9V176.5M130.9 169.9h7.6M130.9 176.5h7.6M136.2 174.9V181.6M132.4 174.9h7.6M132.4 181.6h7.6M137.6 172.6V179.5M133.8 172.6h7.6M133.8 179.5h7.6M139.1 170.9V177.8M135.3 170.9h7.6M135.3 177.8h7.6M140.6 172.4V179.5M136.8 172.4h7.6M136.8 179.5h7.6M142.1 176.0V183.2M138.3 176.0h7.6M138.3 183.2h7.6M143.5 174.7V182.0M139.7 174.7h7.6M139.7 182.0h7.6M145.0 171.8V179.2M141.2 171.8h7.6M141.2 179.2h7.6M146.5 177.5V185.1M142.7 177.5h7.6M142.7 185.1h7.6M147.9 178.7V186.4M144.1 178.7h7.6M144.1 186.4h7.6M149.4 175.6V183.4M145.6 175.6h7.6M145.6 183.4h7.6M150.9 179.1V187.0M147.1 179.1h7.6M147.1 187.0h7.6M152.3 178.7V186.8M148.5 178.7h7.6M148.5 186.8h7.6M153.8 182.0V190.2M150.0 182.0h7.6M150.0 190.2h7.6M155.3 176.0V184.4M151.5 176.0h7.6M151.5 184.4h7.6M156.8 183.9V192.3M153.0 183.9h7.6M153.0 192.3h7.6M158.2 181.9V190.6M154.4 181.9h7.6M154.4 190.6h7.6M159.7 186.0V194.8M155.9 186.0h7.6M155.9 194.8h7.6M161.2 182.1V191.0M157.4 182.1h7.6M157.4 191.0h7.6M162.6 187.6V196.6M158.8 187.6h7.6M158.8 196.6h7.6M164.1 179.4V188.6M160.3 179.4h7.6M160.3 188.6h7.6M165.6 185.4V194.8M161.8 185.4h7.6M161.8 194.8h7.6M167.0 188.0V197.5M163.2 188.0h7.6M163.2 197.5h7.6M168.5 191.3V201.0M164.7 191.3h7.6M164.7 201.0h7.6M170.0 187.4V197.2M166.2 187.4h7.6M166.2 197.2h7.6M171.5 186.8V196.9M167.7 186.8h7.6M167.7 196.9h7.6M172.9 190.1V200.3M169.1 190.1h7.6M169.1 200.3h7.6M174.4 185.8V196.1M170.6 185.8h7.6M170.6 196.1h7.6M175.9 189.4V199.9M172.1 189.4h7.6M172.1 199.9h7.6M177.3 190.4V201.2M173.5 190.4h7.6M173.5 201.2h7.6M178.8 191.8V202.7M175.0 191.8h7.6M175.0 202.7h7.6M180.3 194.7V205.7M176.5 194.7h7.6M176.5 205.7h7.6M181.7 191.5V202.8M177.9 191.5h7.6M177.9 202.8h7.6M183.2 197.5V209.0M179.4 197.5h7.6M179.4 209.0h7.6M184.7 185.9V197.5M180.9 185.9h7.6M180.9 197.5h7.6M186.2 188.7V200.6M182.4 188.7h7.6M182.4 200.6h7.6M187.6 191.6V203.7M183.8 191.6h7.6M183.8 203.7h7.6M189.1 201.7V214.0M185.3 201.7h7.6M185.3 214.0h7.6M190.6 197.5V209.9M186.8 197.5h7.6M186.8 209.9h7.6M192.0 192.3V204.9M188.2 192.3h7.6M188.2 204.9h7.6M193.5 195.8V208.6M189.7 195.8h7.6M189.7 208.6h7.6M195.0 190.1V203.2M191.2 190.1h7.6M191.2 203.2h7.6M196.4 193.6V206.9M192.6 193.6h7.6M192.6 206.9h7.6M197.9 194.1V207.7M194.1 194.1h7.6M194.1 207.7h7.6M199.4 190.9V204.7M195.6 190.9h7.6M195.6 204.7h7.6M200.9 199.7V213.7M197.1 199.7h7.6M197.1 213.7h7.6M202.3 202.1V216.3M198.5 202.1h7.6M198.5 216.3h7.6M203.8 197.6V212.0M200.0 197.6h7.6M200.0 212.0h7.6M205.3 193.5V208.2M201.5 193.5h7.6M201.5 208.2h7.6M206.7 199.1V214.1M202.9 199.1h7.6M202.9 214.1h7.6M208.2 200.4V215.6M204.4 200.4h7.6M204.4 215.6h7.6M209.7 193.5V208.9M205.9 193.5h7.6M205.9 208.9h7.6M211.1 192.8V208.5M207.3 192.8h7.6M207.3 208.5h7.6M212.6 202.0V218.0M208.8 202.0h7.6M208.8 218.0h7.6M214.1 201.8V218.0M210.3 201.8h7.6M210.3 218.0h7.6M215.6 187.5V204.0M211.8 187.5h7.6M211.8 204.0h7.6M217.0 199.4V216.3M213.2 199.4h7.6M213.2 216.3h7.6M218.5 197.0V214.3M214.7 197.0h7.6M214.7 214.3h7.6M220.0 203.6V221.3M216.2 203.6h7.6M216.2 221.3h7.6M221.4 201.0V219.1M217.6 201.0h7.6M217.6 219.1h7.6M222.9 191.9V210.3M219.1 191.9h7.6M219.1 210.3h7.6M224.4 205.5V224.4M220.6 205.5h7.6M220.6 224.4h7.6M225.8 190.1V209.5M222.0 190.1h7.6M222.0 209.5h7.6M227.3 205.8V225.6M223.5 205.8h7.6M223.5 225.6h7.6M228.8 200.6V220.9M225.0 200.6h7.6M225.0 220.9h7.6M230.3 199.3V220.1M226.5 199.3h7.6M226.5 220.1h7.6M231.7 213.8V235.0M227.9 213.8h7.6M227.9 235.0h7.6M234.2 201.4V223.4M230.4 201.4h7.6M230.4 223.4h7.6M236.7 202.2V225.1M232.9 202.2h7.6M232.9 225.1h7.6M239.2 209.2V233.0M235.4 209.2h7.6M235.4 233.0h7.6M241.7 198.2V223.0M237.9 198.2h7.6M237.9 223.0h7.6M244.2 194.7V220.4M240.4 194.7h7.6M240.4 220.4h7.6M246.7 208.9V235.6M242.9 208.9h7.6M242.9 235.6h7.6M249.2 207.2V235.0M245.4 207.2h7.6M245.4 235.0h7.6M251.7 201.0V229.9M247.9 201.0h7.6M247.9 229.9h7.6M254.2 201.4V231.4M250.4 201.4h7.6M250.4 231.4h7.6M256.7 205.4V236.6M252.9 205.4h7.6M252.9 236.6h7.6M259.2 213.6V246.1M255.4 213.6h7.6M255.4 246.1h7.6M261.7 208.7V242.4M257.9 208.7h7.6M257.9 242.4h7.6M264.2 224.1V259.1M260.4 224.1h7.6M260.4 259.1h7.6M266.7 183.8V220.2M262.9 183.8h7.6M262.9 220.2h7.6M269.2 221.9V259.7M265.4 221.9h7.6M265.4 259.7h7.6M271.7 181.5V220.9M267.9 181.5h7.6M267.9 220.9h7.6M274.2 215.0V255.9M270.4 215.0h7.6M270.4 255.9h7.6M276.7 229.1V271.6M272.9 229.1h7.6M272.9 271.6h7.6M279.2 186.4V230.5M275.4 186.4h7.6M275.4 230.5h7.6M281.7 191.6V237.5M277.9 191.6h7.6M277.9 237.5h7.6M284.2 217.3V265.0M280.4 217.3h7.6M280.4 265.0h7.6M286.7 215.8V265.4M282.9 215.8h7.6M282.9 265.4h7.6M289.2 202.2V253.8M285.4 202.2h7.6M285.4 253.8h7.6M291.7 206.4V260.0M287.9 206.4h7.6M287.9 260.0h7.6M294.2 198.6V254.3M290.4 198.6h7.6M290.4 254.3h7.6M296.7 191.3V249.2M292.9 191.3h7.6M292.9 249.2h7.6M299.2 219.0V279.1M295.4 219.0h7.6M295.4 279.1h7.6M301.7 189.1V251.6M297.9 189.1h7.6M297.9 251.6h7.6M303.9 219.3V284.0M300.1 219.3h7.6M300.1 284.0h7.6" stroke="#9b9b00" stroke-width="1.3"/>
<path d="M84.1 60.5l4.0 6.4h-8.0zM86.2 64.8l4.0 6.4h-8.0zM88.3 70.8l4.0 6.4h-8.0zM90.3 75.7l4.0 6.4h-8.0zM92.4 80.7l4.0 6.4h-8.0zM94.4 85.6l4.0 6.4h-8.0zM96.5 91.7l4.0 6.4h-8.0zM98.5 96.8l4.0 6.4h-8.0zM100.6 103.2l4.0 6.4h-8.0zM102.7 110.9l4.0 6.4h-8.0zM104.7 115.5l4.0 6.4h-8.0zM106.8 120.3l4.0 6.4h-8.0zM108.8 127.7l4.0 6.4h-8.0zM110.9 130.5l4.0 6.4h-8.0zM112.9 136.9l4.0 6.4h-8.0zM115.0 146.1l4.0 6.4h-8.0zM117.1 155.7l4.0 6.4h-8.0zM118.5 158.1l4.0 6.4h-8.0zM120.0 156.8l4.0 6.4h-8.0zM121.5 161.7l4.0 6.4h-8.0zM122.9 163.1l4.0 6.4h-8.0zM124.4 164.4l4.0 6.4h-8.0zM125.9 165.6l4.0 6.4h-8.0zM127.4 165.3l4.0 6.4h-8.0zM128.8 165.9l4.0 6.4h-8.0zM130.3 167.6l4.0 6.4h-8.0zM131.8 166.0l4.0 6.4h-8.0zM133.2 169.7l4.0 6.4h-8.0zM134.7 169.4l4.0 6.4h-8.0zM136.2 174.4l4.0 6.4h-8.0zM137.6 172.2l4.0 6.4h-8.0zM139.1 170.5l4.0 6.4h-8.0zM140.6 172.2l4.0 6.4h-8.0zM142.1 175.8l4.0 6.4h-8.0zM143.5 174.6l4.0 6.4h-8.0zM145.0 171.7l4.0 6.4h-8.0zM146.5 177.5l4.0 6.4h-8.0zM147.9 178.7l4.0 6.4h-8.0zM149.4 175.7l4.0 6.4h-8.0zM150.9 179.2l4.0 6.4h-8.0zM152.3 178.9l4.0 6.4h-8.0zM153.8 182.3l4.0 6.4h-8.0zM155.3 176.4l4.0 6.4h-8.0zM156.8 184.3l4.0 6.4h-8.0zM158.2 182.4l4.0 6.4h-8.0zM159.7 186.6l4.0 6.4h-8.0zM161.2 182.8l4.0 6.4h-8.0zM162.6 188.3l4.0 6.4h-8.0zM164.1 180.2l4.0 6.4h-8.0zM165.6 186.3l4.0 6.4h-8.0zM167.0 188.9l4.0 6.4h-8.0zM168.5 192.3l4.0 6.4h-8.0zM170.0 188.5l4.0 6.4h-8.0zM171.5 188.0l4.0 6.4h-8.0zM172.9 191.4l4.0 6.4h-8.0zM174.4 187.1l4.0 6.4h-8.0zM175.9 190.8l4.0 6.4h-8.0zM177.3 192.0l4.0 6.4h-8.0zM178.8 193.4l4.0 6.4h-8.0zM180.3 196.4l4.0 6.4h-8.0zM181.7 193.3l4.0 6.4h-8.0zM183.2 199.5l4.0 6.4h-8.0zM184.7 187.9l4.0 6.4h-8.0zM186.2 190.9l4.0 6.4h-8.0zM187.6 193.9l4.0 6.4h-8.0zM189.1 204.0l4.0 6.4h-8.0zM190.6 199.9l4.0 6.4h-8.0zM192.0 194.8l4.0 6.4h-8.0zM193.5 198.4l4.0 6.4h-8.0zM195.0 192.9l4.0 6.4h-8.0zM196.4 196.5l4.0 6.4h-8.0zM197.9 197.1l4.0 6.4h-8.0zM199.4 194.0l4.0 6.4h-8.0zM200.9 202.9l4.0 6.4h-8.0zM202.3 205.4l4.0 6.4h-8.0zM203.8 201.0l4.0 6.4h-8.0zM205.3 197.0l4.0 6.4h-8.0zM206.7 202.8l4.0 6.4h-8.0zM208.2 204.2l4.0 6.4h-8.0zM209.7 197.4l4.0 6.4h-8.0zM211.1 196.9l4.0 6.4h-8.0zM212.6 206.2l4.0 6.4h-8.0zM214.1 206.1l4.0 6.4h-8.0zM215.6 192.0l4.0 6.4h-8.0zM217.0 204.0l4.0 6.4h-8.0zM218.5 201.8l4.0 6.4h-8.0zM220.0 208.7l4.0 6.4h-8.0zM221.4 206.3l4.0 6.4h-8.0zM222.9 197.3l4.0 6.4h-8.0zM224.4 211.2l4.0 6.4h-8.0zM225.8 196.0l4.0 6.4h-8.0zM227.3 211.9l4.0 6.4h-8.0zM228.8 206.9l4.0 6.4h-8.0zM230.3 205.9l4.0 6.4h-8.0zM231.7 220.6l4.0 6.4h-8.0zM234.2 208.6l4.0 6.4h-8.0zM236.7 209.9l4.0 6.4h-8.0zM239.2 217.3l4.0 6.4h-8.0zM241.7 206.8l4.0 6.4h-8.0zM244.2 203.7l4.0 6.4h-8.0zM246.7 218.4l4.0 6.4h-8.0zM249.2 217.3l4.0 6.4h-8.0zM251.7 211.6l4.0 6.4h-8.0zM254.2 212.6l4.0 6.4h-8.0zM256.7 217.2l4.0 6.4h-8.0zM259.2 226.0l4.0 6.4h-8.0zM261.7 221.7l4.0 6.4h-8.0zM264.2 237.8l4.0 6.4h-8.0zM266.7 198.2l4.0 6.4h-8.0zM269.2 237.0l4.0 6.4h-8.0zM271.7 197.4l4.0 6.4h-8.0zM274.2 231.6l4.0 6.4h-8.0zM276.7 246.6l4.0 6.4h-8.0zM279.2 204.7l4.0 6.4h-8.0zM281.7 210.8l4.0 6.4h-8.0zM284.2 237.3l4.0 6.4h-8.0zM286.7 236.8l4.0 6.4h-8.0zM289.2 224.2l4.0 6.4h-8.0zM291.7 229.4l4.0 6.4h-8.0zM294.2 222.6l4.0 6.4h-8.0zM296.7 216.5l4.0 6.4h-8.0zM299.2 245.3l4.0 6.4h-8.0zM301.7 216.6l4.0 6.4h-8.0zM303.9 247.9l4.0 6.4h-8.0z" stroke="#9b9b00" stroke-width="1.75"/>
<path d="M84.9 53.0V56.8M81.1 53.0h7.6M81.1 56.8h7.6M86.9 55.1V58.9M83.1 55.1h7.6M83.1 58.9h7.6M89.0 57.9V61.9M85.2 57.9h7.6M85.2 61.9h7.6M91.0 58.7V62.8M87.2 58.7h7.6M87.2 62.8h7.6M93.1 61.5V65.6M89.3 61.5h7.6M89.3 65.6h7.6M95.2 66.5V70.8M91.4 66.5h7.6M91.4 70.8h7.6M97.2 70.0V74.3M93.4 70.0h7.6M93.4 74.3h7.6M99.3 74.4V78.8M95.5 74.4h7.6M95.5 78.8h7.6M101.3 83.8V88.3M97.5 83.8h7.6M97.5 88.3h7.6M103.4 89.4V94.0M99.6 89.4h7.6M99.6 94.0h7.6M105.5 94.9V99.7M101.7 94.9h7.6M101.7 99.7h7.6M107.5 102.4V107.3M103.7 102.4h7.6M103.7 107.3h7.6M109.6 106.9V111.9M105.8 106.9h7.6M105.8 111.9h7.6M111.6 114.2V119.3M107.8 114.2h7.6M107.8 119.3h7.6M113.7 118.5V123.7M109.9 118.5h7.6M109.9 123.7h7.6M115.7 123.1V128.4M111.9 123.1h7.6M111.9 128.4h7.6M117.2 122.1V127.5M113.4 122.1h7.6M113.4 127.5h7.6M118.7 125.7V131.2M114.9 125.7h7.6M114.9 131.2h7.6M120.2 124.4V130.0M116.4 124.4h7.6M116.4 130.0h7.6M121.6 129.6V135.3M117.8 129.6h7.6M117.8 135.3h7.6M123.1 130.5V136.3M119.3 130.5h7.6M119.3 136.3h7.6M124.6 135.2V141.1M120.8 135.2h7.6M120.8 141.1h7.6M126.0 133.9V139.9M122.2 133.9h7.6M122.2 139.9h7.6M127.5 139.2V145.3M123.7 139.2h7.6M123.7 145.3h7.6M129.0 141.0V147.2M125.2 141.0h7.6M125.2 147.2h7.6M130.4 139.3V145.6M126.6 139.3h7.6M126.6 145.6h7.6M131.9 140.1V146.5M128.1 140.1h7.6M128.1 146.5h7.6M133.4 145.6V152.1M129.6 145.6h7.6M129.6 152.1h7.6M134.9 146.3V152.9M131.1 146.3h7.6M131.1 152.9h7.6M136.3 146.1V152.8M132.5 146.1h7.6M132.5 152.8h7.6M137.8 140.2V147.0M134.0 140.2h7.6M134.0 147.0h7.6M139.3 146.1V153.0M135.5 146.1h7.6M135.5 153.0h7.6M140.7 150.9V158.0M136.9 150.9h7.6M136.9 158.0h7.6M142.2 145.2V152.4M138.4 145.2h7.6M138.4 152.4h7.6M143.7 152.7V160.0M139.9 152.7h7.6M139.9 160.0h7.6M145.1 138.2V145.6M141.3 138.2h7.6M141.3 145.6h7.6M146.6 147.4V154.9M142.8 147.4h7.6M142.8 154.9h7.6M148.1 158.2V165.9M144.3 158.2h7.6M144.3 165.9h7.6M149.6 144.7V152.5M145.8 144.7h7.6M145.8 152.5h7.6M151.0 154.0V162.0M147.2 154.0h7.6M147.2 162.0h7.6M152.5 147.5V155.6M148.7 147.5h7.6M148.7 155.6h7.6M154.0 140.8V149.0M150.2 140.8h7.6M150.2 149.0h7.6M155.4 150.8V159.2M151.6 150.8h7.6M151.6 159.2h7.6M156.9 151.4V159.9M153.1 151.4h7.6M153.1 159.9h7.6M158.4 157.4V166.1M154.6 157.4h7.6M154.6 166.1h7.6M159.8 156.4V165.2M156.0 156.4h7.6M156.0 165.2h7.6M161.3 150.9V159.8M157.5 150.9h7.6M157.5 159.8h7.6M162.8 145.5V154.6M159.0 145.5h7.6M159.0 154.6h7.6M164.2 153.7V162.9M160.4 153.7h7.6M160.4 162.9h7.6M165.7 162.3V171.7M161.9 162.3h7.6M161.9 171.7h7.6M167.2 147.6V157.2M163.4 147.6h7.6M163.4 157.2h7.6M168.7 163.8V173.5M164.9 163.8h7.6M164.9 173.5h7.6M170.1 148.7V158.5M166.3 148.7h7.6M166.3 158.5h7.6M171.6 162.7V172.7M167.8 162.7h7.6M167.8 172.7h7.6M173.1 156.6V166.8M169.3 156.6h7.6M169.3 166.8h7.6M174.5 149.3V159.6M170.7 149.3h7.6M170.7 159.6h7.6M176.0 154.7V165.3M172.2 154.7h7.6M172.2 165.3h7.6M177.5 156.4V167.1M173.7 156.4h7.6M173.7 167.1h7.6M178.9 163.2V174.1M175.1 163.2h7.6M175.1 174.1h7.6M180.4 164.6V175.7M176.6 164.6h7.6M176.6 175.7h7.6M181.9 154.5V165.8M178.1 154.5h7.6M178.1 165.8h7.6M183.4 155.8V167.2M179.6 155.8h7.6M179.6 167.2h7.6M184.8 161.9V173.6M181.0 161.9h7.6M181.0 173.6h7.6M186.3 159.6V171.4M182.5 159.6h7.6M182.5 171.4h7.6M187.8 159.4V171.4M184.0 159.4h7.6M184.0 171.4h7.6M189.2 172.9V185.1M185.4 172.9h7.6M185.4 185.1h7.6M190.7 161.4V173.8M186.9 161.4h7.6M186.9 173.8h7.6M192.2 170.7V183.3M188.4 170.7h7.6M188.4 183.3h7.6M193.6 157.2V170.1M189.8 157.2h7.6M189.8 170.1h7.6M195.1 163.5V176.6M191.3 163.5h7.6M191.3 176.6h7.6M196.6 164.3V177.6M192.8 164.3h7.6M192.8 177.6h7.6M198.1 153.5V167.0M194.3 153.5h7.6M194.3 167.0h7.6M199.5 169.9V183.6M195.7 169.9h7.6M195.7 183.6h7.6M201.0 161.6V175.6M197.2 161.6h7.6M197.2 175.6h7.6M202.5 172.6V186.9M198.7 172.6h7.6M198.7 186.9h7.6M203.9 169.5V183.9M200.1 169.5h7.6M200.1 183.9h7.6M205.4 165.8V180.6M201.6 165.8h7.6M201.6 180.6h7.6M206.9 156.1V171.1M203.1 156.1h7.6M203.1 171.1h7.6M208.3 180.7V195.9M204.5 180.7h7.6M204.5 195.9h7.6M209.8 155.6V171.1M206.0 155.6h7.6M206.0 171.1h7.6M211.3 185.0V200.7M207.5 185.0h7.6M207.5 200.7h7.6M212.8 160.0V176.0M209.0 160.0h7.6M209.0 176.0h7.6M214.2 156.1V172.4M210.4 156.1h7.6M210.4 172.4h7.6M215.7 175.6V192.1M211.9 175.6h7.6M211.9 192.1h7.6M217.2 157.7V174.6M213.4 157.7h7.6M213.4 174.6h7.6M218.6 179.7V197.0M214.8 179.7h7.6M214.8 197.0h7.6M220.1 158.6V176.3M216.3 158.6h7.6M216.3 176.3h7.6M221.6 174.2V192.3M217.8 174.2h7.6M217.8 192.3h7.6M223.0 173.9V192.4M219.2 173.9h7.6M219.2 192.4h7.6M224.5 165.0V183.9M220.7 165.0h7.6M220.7 183.9h7.6M226.0 149.7V169.1M222.2 149.7h7.6M222.2 169.1h7.6M227.5 167.8V187.7M223.7 167.8h7.6M223.7 187.7h7.6M228.9 163.3V183.6M225.1 163.3h7.6M225.1 183.6h7.6M230.4 172.9V193.7M226.6 172.9h7.6M226.6 193.7h7.6M231.9 189.3V210.6M228.1 189.3h7.6M228.1 210.6h7.6M234.4 146.9V169.0M230.6 146.9h7.6M230.6 169.0h7.6M236.9 166.9V189.8M233.1 166.9h7.6M233.1 189.8h7.6M239.4 185.5V209.4M235.6 185.5h7.6M235.6 209.4h7.6M241.9 159.3V184.1M238.1 159.3h7.6M238.1 184.1h7.6M244.4 155.1V180.8M240.6 155.1h7.6M240.6 180.8h7.6M246.9 158.9V185.7M243.1 158.9h7.6M243.1 185.7h7.6M249.4 189.1V216.9M245.6 189.1h7.6M245.6 216.9h7.6M251.9 139.5V168.4M248.1 139.5h7.6M248.1 168.4h7.6M254.4 200.8V230.8M250.6 200.8h7.6M250.6 230.8h7.6M256.9 202.9V234.2M253.1 202.9h7.6M253.1 234.2h7.6M259.4 175.0V207.5M255.6 175.0h7.6M255.6 207.5h7.6M261.9 163.7V197.5M258.1 163.7h7.6M258.1 197.5h7.6M264.4 135.8V170.9M260.6 135.8h7.6M260.6 170.9h7.6M266.9 183.8V220.3M263.1 183.8h7.6M263.1 220.3h7.6M269.4 185.4V223.4M265.6 185.4h7.6M265.6 223.4h7.6M271.9 191.4V230.8M268.1 191.4h7.6M268.1 230.8h7.6M274.4 191.8V232.8M270.6 191.8h7.6M270.6 232.8h7.6M276.9 125.1V167.7M273.1 125.1h7.6M273.1 167.7h7.6M279.4 177.4V221.6M275.6 177.4h7.6M275.6 221.6h7.6M281.8 140.0V186.0M278.0 140.0h7.6M278.0 186.0h7.6M284.3 149.8V197.6M280.5 149.8h7.6M280.5 197.6h7.6M286.8 152.5V202.2M283.0 152.5h7.6M283.0 202.2h7.6M289.3 149.0V200.7M285.5 149.0h7.6M285.5 200.7h7.6M291.8 143.4V197.1M288.0 143.4h7.6M288.0 197.1h7.6M294.3 153.1V208.9M290.5 153.1h7.6M290.5 208.9h7.6M296.8 155.2V213.3M293.0 155.2h7.6M293.0 213.3h7.6M299.3 110.2V170.5M295.5 110.2h7.6M295.5 170.5h7.6M301.8 103.1V165.7M298.0 103.1h7.6M298.0 165.7h7.6M303.9 141.6V206.3M300.1 141.6h7.6M300.1 206.3h7.6" stroke="#d20000" stroke-width="1.3"/>
<path d="M84.9 50.8l4.1 4.1l-4.1 4.1l-4.1 -4.1zM86.9 52.9l4.1 4.1l-4.1 4.1l-4.1 -4.1zM89.0 55.8l4.1 4.1l-4.1 4.1l-4.1 -4.1zM91.0 56.7l4.1 4.1l-4.1 4.1l-4.1 -4.1zM93.1 59.5l4.1 4.1l-4.1 4.1l-4.1 -4.1zM95.2 64.5l4.1 4.1l-4.1 4.1l-4.1 -4.1zM97.2 68.0l4.1 4.1l-4.1 4.1l-4.1 -4.1zM99.3 72.5l4.1 4.1l-4.1 4.1l-4.1 -4.1zM101.3 82.0l4.1 4.1l-4.1 4.1l-4.1 -4.1zM103.4 87.6l4.1 4.1l-4.1 4.1l-4.1 -4.1zM105.5 93.2l4.1 4.1l-4.1 4.1l-4.1 -4.1zM107.5 100.8l4.1 4.1l-4.1 4.1l-4.1 -4.1zM109.6 105.3l4.1 4.1l-4.1 4.1l-4.1 -4.1zM111.6 112.6l4.1 4.1l-4.1 4.1l-4.1 -4.1zM113.7 117.0l4.1 4.1l-4.1 4.1l-4.1 -4.1zM115.7 121.7l4.1 4.1l-4.1 4.1l-4.1 -4.1zM117.2 120.7l4.1 4.1l-4.1 4.1l-4.1 -4.1zM118.7 124.4l4.1 4.1l-4.1 4.1l-4.1 -4.1zM120.2 123.1l4.1 4.1l-4.1 4.1l-4.1 -4.1zM121.6 128.4l4.1 4.1l-4.1 4.1l-4.1 -4.1zM123.1 129.3l4.1 4.1l-4.1 4.1l-4.1 -4.1zM124.6 134.0l4.1 4.1l-4.1 4.1l-4.1 -4.1zM126.0 132.8l4.1 4.1l-4.1 4.1l-4.1 -4.1zM127.5 138.2l4.1 4.1l-4.1 4.1l-4.1 -4.1zM129.0 140.0l4.1 4.1l-4.1 4.1l-4.1 -4.1zM130.4 138.4l4.1 4.1l-4.1 4.1l-4.1 -4.1zM131.9 139.2l4.1 4.1l-4.1 4.1l-4.1 -4.1zM133.4 144.8l4.1 4.1l-4.1 4.1l-4.1 -4.1zM134.9 145.5l4.1 4.1l-4.1 4.1l-4.1 -4.1zM136.3 145.4l4.1 4.1l-4.1 4.1l-4.1 -4.1zM137.8 139.5l4.1 4.1l-4.1 4.1l-4.1 -4.1zM139.3 145.5l4.1 4.1l-4.1 4.1l-4.1 -4.1zM140.7 150.3l4.1 4.1l-4.1 4.1l-4.1 -4.1zM142.2 144.7l4.1 4.1l-4.1 4.1l-4.1 -4.1zM143.7 152.2l4.1 4.1l-4.1 4.1l-4.1 -4.1zM145.1 137.8l4.1 4.1l-4.1 4.1l-4.1 -4.1zM146.6 147.1l4.1 4.1l-4.1 4.1l-4.1 -4.1zM148.1 158.0l4.1 4.1l-4.1 4.1l-4.1 -4.1zM149.6 144.5l4.1 4.1l-4.1 4.1l-4.1 -4.1zM151.0 153.9l4.1 4.1l-4.1 4.1l-4.1 -4.1zM152.5 147.5l4.1 4.1l-4.1 4.1l-4.1 -4.1zM154.0 140.8l4.1 4.1l-4.1 4.1l-4.1 -4.1zM155.4 150.9l4.1 4.1l-4.1 4.1l-4.1 -4.1zM156.9 151.6l4.1 4.1l-4.1 4.1l-4.1 -4.1zM158.4 157.6l4.1 4.1l-4.1 4.1l-4.1 -4.1zM159.8 156.7l4.1 4.1l-4.1 4.1l-4.1 -4.1zM161.3 151.2l4.1 4.1l-4.1 4.1l-4.1 -4.1zM162.8 145.9l4.1 4.1l-4.1 4.1l-4.1 -4.1zM164.2 154.2l4.1 4.1l-4.1 4.1l-4.1 -4.1zM165.7 162.9l4.1 4.1l-4.1 4.1l-4.1 -4.1zM167.2 148.3l4.1 4.1l-4.1 4.1l-4.1 -4.1zM168.7 164.6l4.1 4.1l-4.1 4.1l-4.1 -4.1zM170.1 149.5l4.1 4.1l-4.1 4.1l-4.1 -4.1zM171.6 163.6l4.1 4.1l-4.1 4.1l-4.1 -4.1zM173.1 157.6l4.1 4.1l-4.1 4.1l-4.1 -4.1zM174.5 150.4l4.1 4.1l-4.1 4.1l-4.1 -4.1zM176.0 155.9l4.1 4.1l-4.1 4.1l-4.1 -4.1zM177.5 157.7l4.1 4.1l-4.1 4.1l-4.1 -4.1zM178.9 164.6l4.1 4.1l-4.1 4.1l-4.1 -4.1zM180.4 166.1l4.1 4.1l-4.1 4.1l-4.1 -4.1zM181.9 156.0l4.1 4.1l-4.1 4.1l-4.1 -4.1zM183.4 157.4l4.1 4.1l-4.1 4.1l-4.1 -4.1zM184.8 163.6l4.1 4.1l-4.1 4.1l-4.1 -4.1zM186.3 161.4l4.1 4.1l-4.1 4.1l-4.1 -4.1zM187.8 161.3l4.1 4.1l-4.1 4.1l-4.1 -4.1zM189.2 174.9l4.1 4.1l-4.1 4.1l-4.1 -4.1zM190.7 163.5l4.1 4.1l-4.1 4.1l-4.1 -4.1zM192.2 172.9l4.1 4.1l-4.1 4.1l-4.1 -4.1zM193.6 159.6l4.1 4.1l-4.1 4.1l-4.1 -4.1zM195.1 166.0l4.1 4.1l-4.1 4.1l-4.1 -4.1zM196.6 166.8l4.1 4.1l-4.1 4.1l-4.1 -4.1zM198.1 156.2l4.1 4.1l-4.1 4.1l-4.1 -4.1zM199.5 172.7l4.1 4.1l-4.1 4.1l-4.1 -4.1zM201.0 164.5l4.1 4.1l-4.1 4.1l-4.1 -4.1zM202.5 175.6l4.1 4.1l-4.1 4.1l-4.1 -4.1zM203.9 172.6l4.1 4.1l-4.1 4.1l-4.1 -4.1zM205.4 169.1l4.1 4.1l-4.1 4.1l-4.1 -4.1zM206.9 159.5l4.1 4.1l-4.1 4.1l-4.1 -4.1zM208.3 184.2l4.1 4.1l-4.1 4.1l-4.1 -4.1zM209.8 159.3l4.1 4.1l-4.1 4.1l-4.1 -4.1zM211.3 188.7l4.1 4.1l-4.1 4.1l-4.1 -4.1zM212.8 163.9l4.1 4.1l-4.1 4.1l-4.1 -4.1zM214.2 160.1l4.1 4.1l-4.1 4.1l-4.1 -4.1zM215.7 179.7l4.1 4.1l-4.1 4.1l-4.1 -4.1zM217.2 162.0l4.1 4.1l-4.1 4.1l-4.1 -4.1zM218.6 184.3l4.1 4.1l-4.1 4.1l-4.1 -4.1zM220.1 163.3l4.1 4.1l-4.1 4.1l-4.1 -4.1zM221.6 179.1l4.1 4.1l-4.1 4.1l-4.1 -4.1zM223.0 179.1l4.1 4.1l-4.1 4.1l-4.1 -4.1zM224.5 170.3l4.1 4.1l-4.1 4.1l-4.1 -4.1zM226.0 155.3l4.1 4.1l-4.1 4.1l-4.1 -4.1zM227.5 173.6l4.1 4.1l-4.1 4.1l-4.1 -4.1zM228.9 169.3l4.1 4.1l-4.1 4.1l-4.1 -4.1zM230.4 179.2l4.1 4.1l-4.1 4.1l-4.1 -4.1zM231.9 195.9l4.1 4.1l-4.1 4.1l-4.1 -4.1zM234.4 153.8l4.1 4.1l-4.1 4.1l-4.1 -4.1zM236.9 174.3l4.1 4.1l-4.1 4.1l-4.1 -4.1zM239.4 193.3l4.1 4.1l-4.1 4.1l-4.1 -4.1zM241.9 167.6l4.1 4.1l-4.1 4.1l-4.1 -4.1zM244.4 163.9l4.1 4.1l-4.1 4.1l-4.1 -4.1zM246.9 168.2l4.1 4.1l-4.1 4.1l-4.1 -4.1zM249.4 198.9l4.1 4.1l-4.1 4.1l-4.1 -4.1zM251.9 149.8l4.1 4.1l-4.1 4.1l-4.1 -4.1zM254.4 211.7l4.1 4.1l-4.1 4.1l-4.1 -4.1zM256.9 214.5l4.1 4.1l-4.1 4.1l-4.1 -4.1zM259.4 187.2l4.1 4.1l-4.1 4.1l-4.1 -4.1zM261.9 176.5l4.1 4.1l-4.1 4.1l-4.1 -4.1zM264.4 149.2l4.1 4.1l-4.1 4.1l-4.1 -4.1zM266.9 198.0l4.1 4.1l-4.1 4.1l-4.1 -4.1zM269.4 200.3l4.1 4.1l-4.1 4.1l-4.1 -4.1zM271.9 207.0l4.1 4.1l-4.1 4.1l-4.1 -4.1zM274.4 208.2l4.1 4.1l-4.1 4.1l-4.1 -4.1zM276.9 142.3l4.1 4.1l-4.1 4.1l-4.1 -4.1zM279.4 195.4l4.1 4.1l-4.1 4.1l-4.1 -4.1zM281.8 158.9l4.1 4.1l-4.1 4.1l-4.1 -4.1zM284.3 169.6l4.1 4.1l-4.1 4.1l-4.1 -4.1zM286.8 173.2l4.1 4.1l-4.1 4.1l-4.1 -4.1zM289.3 170.7l4.1 4.1l-4.1 4.1l-4.1 -4.1zM291.8 166.1l4.1 4.1l-4.1 4.1l-4.1 -4.1zM294.3 176.9l4.1 4.1l-4.1 4.1l-4.1 -4.1zM296.8 180.1l4.1 4.1l-4.1 4.1l-4.1 -4.1zM299.3 136.2l4.1 4.1l-4.1 4.1l-4.1 -4.1zM301.8 130.3l4.1 4.1l-4.1 4.1l-4.1 -4.1zM303.9 169.9l4.1 4.1l-4.1 4.1l-4.1 -4.1z" stroke="#d20000" stroke-width="1.75"/>
<path d="M86.2 110.5 86.9 111.9 87.6 113.2 88.4 114.8 89.1 116.0 89.8 117.3 90.6 118.7 91.3 120.1 92.0 121.6 92.7 123.1 93.5 124.8 94.2 126.5 94.9 128.3 95.7 130.1 96.4 132.1 97.1 134.1 97.8 136.2 98.6 138.4 99.3 140.7 100.0 143.0 100.8 145.4 101.5 147.8 102.2 150.2 102.9 152.6 103.7 155.1 104.4 157.5 105.1 160.0 105.9 162.5 106.6 165.0 107.3 167.7 108.0 170.4 108.8 173.2 109.5 176.1 110.2 179.0 110.9 182.0 111.7 185.0 112.4 188.1 113.1 191.1 113.9 194.2 114.6 197.3 115.3 200.4 116.0 203.4 116.8 206.4 117.5 209.4 118.2 212.3 119.0 215.1 119.7 217.9 120.4 220.6 121.1 223.2 121.9 225.8 122.6 228.4 123.3 230.9 124.1 233.5 124.8 236.0 125.5 238.6 126.2 241.0 127.0 243.4 127.7 245.6 128.4 247.8 129.2 249.9 129.9 251.9 130.6 253.8 131.3 255.8 132.1 257.7 132.8 259.5 133.5 261.2 134.2 262.9 135.0 264.4 135.7 265.7 136.4 266.9 137.2 268.0 137.9 269.0 138.6 270.0 139.3 271.0 140.1 271.9 140.8 272.8 141.5 273.7 142.3 274.6 143.0 275.4 143.7 276.2 144.4 277.0 145.2 277.7 145.9 278.5 146.6 279.2 147.4 279.9 148.1 280.7 148.8 281.3 149.5 282.0 150.3 282.6 151.0 283.2 151.7 283.8 152.5 284.3 153.2 284.8 153.9 285.3 154.6 285.8 155.4 286.3 156.1 286.8 156.8 287.2 157.5 287.7 158.3 288.2 159.0 288.7 159.7 289.2 160.5 289.7 161.2 290.2 161.9 290.7 162.6 291.2 163.4 291.7 164.1 292.1 164.8 292.6 165.6 293.1 166.3 293.6 167.0 294.0 167.7 294.4 168.5 294.7 169.2 295.1 169.9 295.4 170.7 295.7 171.4 296.0 172.1 296.3 172.8 296.6 173.6 296.9 174.3 297.2 175.0 297.5 175.8 297.8 176.5 298.1 177.2 298.4 177.9 298.7 178.7 299.0 179.4 299.3 180.1 299.6 180.8 299.9 181.6 300.1 182.3 300.4 183.0 300.7 183.8 301.0 184.5 301.2 185.2 301.4 185.9 301.6 186.7 301.8 187.4 302.0 188.1 302.1 188.9 302.3 189.6 302.4 190.3 302.6 191.0 302.7 191.8 302.9 192.5 303.0 193.2 303.1 194.0 303.3 194.7 303.4 195.4 303.6 196.1 303.7 196.9 303.9 197.6 304.0 198.3 304.2 199.1 304.3 199.8 304.5 200.5 304.6 201.2 304.7 202.0 304.9 202.7 305.0 203.4 305.2 204.1 305.3 204.9 305.5 205.6 305.6 206.3 305.8 207.1 305.9 207.8 306.1 208.5 306.2 209.2 306.3 210.0 306.5 210.7 306.6 211.4 306.8 212.2 306.9 212.9 307.1 213.6 307.2 214.3 307.4 215.1 307.5 215.8 307.7 216.5 307.8 217.3 307.9 218.0 308.1 218.7 308.2 219.4 308.3 220.2 308.4 220.9 308.5 221.6 308.5 222.4 308.6 223.1 308.6 223.8 308.7 224.5 308.7 225.3 308.7 226.0 308.8 226.7 308.8 227.4 308.8 228.2 308.9 228.9 308.9 229.6 308.9 230.4 308.9 231.1 309.0 231.8 309.0 232.5 309.0 233.3 309.1 234.0 309.1 234.7 309.1 235.5 309.2 236.2 309.2 236.9 309.2 237.6 309.2 238.4 309.3 239.1 309.3 239.8 309.3 240.6 309.4 241.3 309.4 242.0 309.4 242.7 309.5 243.5 309.5 244.2 309.5 244.9 309.6 245.7 309.6 246.4 309.6 247.1 309.6 247.8 309.7 248.6 309.7 249.3 309.7 250.0 309.8 250.7 309.8 251.5 309.8 252.2 309.9 252.9 309.9 253.7 309.9 254.4 310.0 255.1 310.0 255.8 310.0 256.6 310.0 257.3 310.1 258.0 310.1 258.8 310.1 259.5 310.2 260.2 310.2 260.9 310.2 261.7 310.3 262.4 310.3 263.1 310.3 263.9 310.3 264.6 310.4 265.3 310.4 266.0 310.4 266.8 310.5 267.5 310.5 268.2 310.5 269.0 310.6 269.7 310.6 270.4 310.6 271.1 310.7 271.9 310.7 272.6 310.7 273.3 310.7 274.0 310.8 274.8 310.8 275.5 310.8 276.2 310.9 277.0 310.9 277.7 310.9 278.4 311.0 279.1 311.0 279.9 311.0 280.6 311.1 281.3 311.1 282.1 311.1 282.8 311.1 283.5 311.2 284.2 311.2 285.0 311.2 285.7 311.3 286.4 311.3 287.2 311.3 287.9 311.4 288.6 311.4 289.3 311.4 290.1 311.5 290.8 311.5 291.5 311.5 292.3 311.5 293.0 311.6 293.7 311.6 294.4 311.6 295.2 311.7 295.9 311.7 296.6 311.7 297.3 311.8 298.1 311.8 298.8 311.8 299.5 311.8 300.3 311.9 301.0 311.9 301.7 311.9 302.4 312.0 303.2 312.0 303.9 312.0" stroke="#0040ff" stroke-width="1.7"/>
<path d="M86.2 110.5 86.9 111.8 87.6 113.2 88.4 114.6 89.1 115.9 89.8 117.2 90.6 118.5 91.3 119.8 92.0 121.2 92.7 122.5 93.5 123.9 94.2 125.3 94.9 126.8 95.7 128.2 96.4 129.7 97.1 131.2 97.8 132.7 98.6 134.3 99.3 136.0 100.0 137.8 100.8 139.7 101.5 141.7 102.2 143.7 102.9 145.8 103.7 147.9 104.4 150.1 105.1 152.4 105.9 154.7 106.6 157.0 107.3 159.4 108.0 161.8 108.8 164.2 109.5 166.6 110.2 169.0 110.9 171.4 111.7 173.9 112.4 176.3 113.1 178.8 113.9 181.3 114.6 183.9 115.3 186.6 116.0 189.4 116.8 192.2 117.5 195.1 118.2 197.9 119.0 200.7 119.7 203.5 120.4 206.2 121.1 208.7 121.9 211.0 122.6 213.2 123.3 215.2 124.1 217.1 124.8 218.9 125.5 220.6 126.2 222.2 127.0 223.8 127.7 225.2 128.4 226.6 129.2 227.9 129.9 229.1 130.6 230.3 131.3 231.4 132.1 232.5 132.8 233.6 133.5 234.7 134.2 235.7 135.0 236.7 135.7 237.6 136.4 238.4 137.2 239.2 137.9 240.0 138.6 240.8 139.3 241.5 140.1 242.3 140.8 243.0 141.5 243.8 142.3 244.5 143.0 245.3 143.7 246.1 144.4 246.8 145.2 247.6 145.9 248.3 146.6 249.1 147.4 249.8 148.1 250.5 148.8 251.2 149.5 251.8 150.3 252.4 151.0 253.0 151.7 253.5 152.5 253.9 153.2 254.4 153.9 254.8 154.6 255.2 155.4 255.6 156.1 256.0 156.8 256.5 157.5 256.9 158.3 257.3 159.0 257.7 159.7 258.1 160.5 258.5 161.2 259.0 161.9 259.4 162.6 259.8 163.4 260.2 164.1 260.6 164.8 261.0 165.6 261.4 166.3 261.8 167.0 262.2 167.7 262.6 168.5 262.9 169.2 263.2 169.9 263.6 170.7 263.9 171.4 264.2 172.1 264.5 172.8 264.8 173.6 265.1 174.3 265.4 175.0 265.8 175.8 266.1 176.5 266.4 177.2 266.7 177.9 267.0 178.7 267.3 179.4 267.6 180.1 267.9 180.8 268.3 181.6 268.6 182.3 268.9 183.0 269.2 183.8 269.5 184.5 269.7 185.2 270.0 185.9 270.3 186.7 270.5 187.4 270.7 188.1 271.0 188.9 271.2 189.6 271.4 190.3 271.6 191.0 271.8 191.8 272.0 192.5 272.3 193.2 272.5 194.0 272.7 194.7 272.9 195.4 273.1 196.1 273.4 196.9 273.6 197.6 273.8 198.3 274.0 199.1 274.2 199.8 274.4 200.5 274.7 201.2 274.9 202.0 275.1 202.7 275.3 203.4 275.5 204.1 275.8 204.9 276.0 205.6 276.2 206.3 276.4 207.1 276.6 207.8 276.8 208.5 277.1 209.2 277.3 210.0 277.5 210.7 277.7 211.4 277.9 212.2 278.1 212.9 278.4 213.6 278.6 214.3 278.8 215.1 279.0 215.8 279.2 216.5 279.5 217.3 279.7 218.0 279.9 218.7 280.1 219.4 280.3 220.2 280.5 220.9 280.7 221.6 280.9 222.4 281.1 223.1 281.3 223.8 281.4 224.5 281.6 225.3 281.8 226.0 282.0 226.7 282.2 227.4 282.4 228.2 282.5 228.9 282.7 229.6 282.9 230.4 283.1 231.1 283.3 231.8 283.4 232.5 283.6 233.3 283.8 234.0 284.0 234.7 284.2 235.5 284.4 236.2 284.5 236.9 284.7 237.6 284.9 238.4 285.1 239.1 285.3 239.8 285.4 240.6 285.6 241.3 285.8 242.0 286.0 242.7 286.2 243.5 286.4 244.2 286.5 244.9 286.7 245.7 286.9 246.4 287.1 247.1 287.3 247.8 287.4 248.6 287.6 249.3 287.8 250.0 288.0 250.7 288.2 251.5 288.4 252.2 288.5 252.9 288.7 253.7 288.9 254.4 289.0 255.1 289.2 255.8 289.3 256.6 289.4 257.3 289.5 258.0 289.6 258.8 289.7 259.5 289.8 260.2 289.8 260.9 289.9 261.7 290.0 262.4 290.1 263.1 290.1 263.9 290.2 264.6 290.3 265.3 290.4 266.0 290.4 266.8 290.5 267.5 290.6 268.2 290.7 269.0 290.8 269.7 290.8 270.4 290.9 271.1 291.0 271.9 291.1 272.6 291.1 273.3 291.2 274.0 291.3 274.8 291.4 275.5 291.4 276.2 291.5 277.0 291.6 277.7 291.7 278.4 291.8 279.1 291.8 279.9 291.9 280.6 292.0 281.3 292.1 282.1 292.1 282.8 292.2 283.5 292.3 284.2 292.4 285.0 292.4 285.7 292.5 286.4 292.6 287.2 292.7 287.9 292.7 288.6 292.8 289.3 292.9 290.1 293.0 290.8 293.1 291.5 293.1 292.3 293.2 293.0 293.3 293.7 293.4 294.4 293.4 295.2 293.5 295.9 293.6 296.6 293.7 297.3 293.7 298.1 293.8 298.8 293.9 299.5 294.0 300.3 294.0 301.0 294.1 301.7 294.2 302.4 294.3 303.2 294.3 303.9 294.4" stroke="#009a00" stroke-width="1.7"/>
<path d="M86.2 110.5 86.9 111.3 87.6 112.1 88.4 113.0 89.1 113.8 89.8 114.5 90.6 115.4 91.3 116.2 92.0 117.1 92.7 118.2 93.5 119.3 94.2 120.6 94.9 122.0 95.7 123.5 96.4 125.2 97.1 126.8 97.8 128.5 98.6 130.2 99.3 132.0 100.0 133.7 100.8 135.4 101.5 137.2 102.2 139.0 102.9 140.8 103.7 142.5 104.4 144.3 105.1 146.1 105.9 147.9 106.6 149.7 107.3 151.4 108.0 153.1 108.8 154.8 109.5 156.4 110.2 158.0 110.9 159.7 111.7 161.2 112.4 162.8 113.1 164.3 113.9 165.8 114.6 167.2 115.3 168.5 116.0 169.8 116.8 171.0 117.5 172.1 118.2 173.3 119.0 174.4 119.7 175.5 120.4 176.6 121.1 177.7 121.9 178.7 122.6 179.6 123.3 180.5 124.1 181.3 124.8 182.0 125.5 182.7 126.2 183.4 127.0 184.0 127.7 184.5 128.4 185.1 129.2 185.6 129.9 186.1 130.6 186.5 131.3 186.9 132.1 187.4 132.8 187.8 133.5 188.2 134.2 188.6 135.0 189.0 135.7 189.3 136.4 189.7 137.2 190.1 137.9 190.4 138.6 190.7 139.3 191.0 140.1 191.2 140.8 191.4 141.5 191.7 142.3 191.9 143.0 192.1 143.7 192.3 144.4 192.5 145.2 192.7 145.9 192.9 146.6 193.2 147.4 193.4 148.1 193.6 148.8 193.8 149.5 194.0 150.3 194.2 151.0 194.4 151.7 194.6 152.5 194.8 153.2 195.1 153.9 195.3 154.6 195.5 155.4 195.7 156.1 195.9 156.8 196.1 157.5 196.3 158.3 196.5 159.0 196.7 159.7 196.9 160.5 197.2 161.2 197.4 161.9 197.6 162.6 197.8 163.4 198.0 164.1 198.2 164.8 198.4 165.6 198.6 166.3 198.8 167.0 199.0 167.7 199.2 168.5 199.4 169.2 199.6 169.9 199.8 170.7 200.0 171.4 200.2 172.1 200.4 172.8 200.6 173.6 200.8 174.3 201.0 175.0 201.2 175.8 201.4 176.5 201.6 177.2 201.8 177.9 202.0 178.7 202.2 179.4 202.4 180.1 202.6 180.8 202.8 181.6 203.0 182.3 203.2 183.0 203.4 183.8 203.6 184.5 203.8 185.2 204.0 185.9 204.2 186.7 204.4 187.4 204.6 188.1 204.8 188.9 205.0 189.6 205.1 190.3 205.3 191.0 205.5 191.8 205.7 192.5 205.9 193.2 206.1 194.0 206.2 194.7 206.4 195.4 206.6 196.1 206.8 196.9 207.0 197.6 207.2 198.3 207.4 199.1 207.5 199.8 207.7 200.5 207.9 201.2 208.1 202.0 208.3 202.7 208.5 203.4 208.6 204.1 208.8 204.9 209.0 205.6 209.2 206.3 209.4 207.1 209.6 207.8 209.7 208.5 209.9 209.2 210.1 210.0 210.3 210.7 210.5 211.4 210.7 212.2 210.8 212.9 211.0 213.6 211.2 214.3 211.4 215.1 211.6 215.8 211.8 216.5 212.0 217.3 212.2 218.0 212.5 218.7 212.7 219.4 212.9 220.2 213.1 220.9 213.3 221.6 213.5 222.4 213.7 223.1 213.9 223.8 214.2 224.5 214.4 225.3 214.6 226.0 214.8 226.7 215.0 227.4 215.2 228.2 215.4 228.9 215.6 229.6 215.9 230.4 216.1 231.1 216.3 231.8 216.5 232.5 216.7 233.3 216.9 234.0 217.1 234.7 217.4 235.5 217.6 236.2 217.8 236.9 218.0 237.6 218.2 238.4 218.4 239.1 218.6 239.8 218.8 240.6 219.1 241.3 219.3 242.0 219.5 242.7 219.7 243.5 219.9 244.2 220.1 244.9 220.3 245.7 220.5 246.4 220.8 247.1 221.0 247.8 221.2 248.6 221.4 249.3 221.6 250.0 221.8 250.7 222.0 251.5 222.2 252.2 222.5 252.9 222.7 253.7 222.9 254.4 223.1 255.1 223.3 255.8 223.5 256.6 223.7 257.3 223.9 258.0 224.2 258.8 224.4 259.5 224.6 260.2 224.8 260.9 225.0 261.7 225.2 262.4 225.4 263.1 225.6 263.9 225.8 264.6 226.0 265.3 226.2 266.0 226.3 266.8 226.5 267.5 226.7 268.2 226.8 269.0 227.0 269.7 227.1 270.4 227.3 271.1 227.4 271.9 227.6 272.6 227.7 273.3 227.9 274.0 228.0 274.8 228.2 275.5 228.3 276.2 228.5 277.0 228.6 277.7 228.8 278.4 228.9 279.1 229.1 279.9 229.2 280.6 229.4 281.3 229.5 282.1 229.7 282.8 229.8 283.5 230.0 284.2 230.1 285.0 230.3 285.7 230.4 286.4 230.6 287.2 230.7 287.9 230.9 288.6 231.1 289.3 231.2 290.1 231.4 290.8 231.5 291.5 231.7 292.3 231.8 293.0 232.0 293.7 232.1 294.4 232.3 295.2 232.4 295.9 232.6 296.6 232.7 297.3 232.9 298.1 233.0 298.8 233.2 299.5 233.3 300.3 233.5 301.0 233.6 301.7 233.8 302.4 233.9 303.2 234.0 303.9 234.1" stroke="#9b9b00" stroke-width="1.7"/>
<path d="M86.2 110.7 86.9 111.6 87.6 112.5 88.4 113.5 89.1 114.3 89.8 115.1 90.6 116.0 91.3 116.9 92.0 117.8 92.7 118.7 93.5 119.7 94.2 120.6 94.9 121.6 95.7 122.6 96.4 123.6 97.1 124.5 97.8 125.5 98.6 126.5 99.3 127.5 100.0 128.4 100.8 129.3 101.5 130.2 102.2 131.1 102.9 131.9 103.7 132.8 104.4 133.6 105.1 134.4 105.9 135.1 106.6 135.8 107.3 136.4 108.0 136.9 108.8 137.4 109.5 137.7 110.2 137.9 110.9 138.1 111.7 138.2 112.4 138.3 113.1 138.3 113.9 138.3 114.6 138.3 115.3 138.3 116.0 138.2 116.8 138.1 117.5 138.0 118.2 137.8 119.0 137.7 119.7 137.6 120.4 137.5 121.1 137.3 121.9 137.2 122.6 137.1 123.3 137.0 124.1 136.9 124.8 136.8 125.5 136.7 126.2 136.6 127.0 136.5 127.7 136.4 128.4 136.4 129.2 136.3 129.9 136.3 130.6 136.3 131.3 136.3 132.1 136.3 132.8 136.4 133.5 136.4 134.2 136.5 135.0 136.6 135.7 136.8 136.4 136.9 137.2 137.1 137.9 137.3 138.6 137.5 139.3 137.7 140.1 137.9 140.8 138.1 141.5 138.3 142.3 138.6 143.0 138.8 143.7 139.1 144.4 139.3 145.2 139.5 145.9 139.8 146.6 140.1 147.4 140.3 148.1 140.6 148.8 140.9 149.5 141.2 150.3 141.5 151.0 141.8 151.7 142.1 152.5 142.4 153.2 142.7 153.9 143.1 154.6 143.4 155.4 143.7 156.1 144.0 156.8 144.4 157.5 144.7 158.3 145.0 159.0 145.4 159.7 145.7 160.5 146.0 161.2 146.3 161.9 146.5 162.6 146.8 163.4 147.0 164.1 147.2 164.8 147.3 165.6 147.5 166.3 147.7 167.0 147.8 167.7 148.0 168.5 148.1 169.2 148.3 169.9 148.4 170.7 148.6 171.4 148.7 172.1 148.9 172.8 149.0 173.6 149.2 174.3 149.4 175.0 149.5 175.8 149.7 176.5 149.9 177.2 150.1 177.9 150.2 178.7 150.4 179.4 150.6 180.1 150.8 180.8 151.0 181.6 151.2 182.3 151.4 183.0 151.5 183.8 151.7 184.5 151.9 185.2 152.1 185.9 152.3 186.7 152.5 187.4 152.6 188.1 152.8 188.9 153.0 189.6 153.1 190.3 153.3 191.0 153.5 191.8 153.6 192.5 153.8 193.2 154.0 194.0 154.1 194.7 154.3 195.4 154.4 196.1 154.6 196.9 154.8 197.6 154.9 198.3 155.1 199.1 155.3 199.8 155.4 200.5 155.6 201.2 155.7 202.0 155.9 202.7 156.1 203.4 156.2 204.1 156.4 204.9 156.6 205.6 156.7 206.3 156.9 207.1 157.1 207.8 157.2 208.5 157.4 209.2 157.6 210.0 157.8 210.7 157.9 211.4 158.1 212.2 158.3 212.9 158.4 213.6 158.6 214.3 158.8 215.1 159.0 215.8 159.2 216.5 159.4 217.3 159.6 218.0 159.8 218.7 160.0 219.4 160.1 220.2 160.3 220.9 160.5 221.6 160.7 222.4 160.9 223.1 161.1 223.8 161.3 224.5 161.5 225.3 161.7 226.0 161.9 226.7 162.1 227.4 162.3 228.2 162.5 228.9 162.7 229.6 162.9 230.4 163.1 231.1 163.3 231.8 163.5 232.5 163.7 233.3 163.9 234.0 164.1 234.7 164.3 235.5 164.5 236.2 164.7 236.9 164.9 237.6 165.1 238.4 165.3 239.1 165.5 239.8 165.7 240.6 165.9 241.3 166.1 242.0 166.3 242.7 166.5 243.5 166.7 244.2 166.9 244.9 167.1 245.7 167.3 246.4 167.5 247.1 167.7 247.8 167.8 248.6 168.0 249.3 168.2 250.0 168.4 250.7 168.6 251.5 168.8 252.2 169.0 252.9 169.2 253.7 169.4 254.4 169.6 255.1 169.8 255.8 170.0 256.6 170.2 257.3 170.4 258.0 170.6 258.8 170.8 259.5 171.0 260.2 171.2 260.9 171.4 261.7 171.6 262.4 171.8 263.1 172.0 263.9 172.2 264.6 172.3 265.3 172.5 266.0 172.7 266.8 172.8 267.5 173.0 268.2 173.1 269.0 173.3 269.7 173.4 270.4 173.6 271.1 173.7 271.9 173.9 272.6 174.0 273.3 174.2 274.0 174.3 274.8 174.5 275.5 174.6 276.2 174.8 277.0 174.9 277.7 175.1 278.4 175.2 279.1 175.4 279.9 175.6 280.6 175.7 281.3 175.9 282.1 176.0 282.8 176.2 283.5 176.3 284.2 176.5 285.0 176.6 285.7 176.8 286.4 176.9 287.2 177.1 287.9 177.2 288.6 177.4 289.3 177.5 290.1 177.7 290.8 177.8 291.5 178.0 292.3 178.1 293.0 178.3 293.7 178.4 294.4 178.6 295.2 178.7 295.9 178.9 296.6 179.0 297.3 179.2 298.1 179.3 298.8 179.5 299.5 179.6 300.3 179.8 301.0 179.9 301.7 180.1 302.4 180.2 303.2 180.3 303.9 180.4" stroke="#d20000" stroke-width="1.7"/>
</g>
<rect x="83.4" y="15.9" width="220.5" height="440.1" fill="none" stroke="#000" stroke-width="1.60"/>
<path d="M156.90 456.00v-9.50M156.90 15.90v9.50M230.40 456.00v-9.50M230.40 15.90v9.50M98.10 456.00v-5.00M98.10 15.90v5.00M112.80 456.00v-5.00M112.80 15.90v5.00M127.50 456.00v-5.00M127.50 15.90v5.00M142.20 456.00v-5.00M142.20 15.90v5.00M171.60 456.00v-5.00M171.60 15.90v5.00M186.30 456.00v-5.00M186.30 15.90v5.00M201.00 456.00v-5.00M201.00 15.90v5.00M215.70 456.00v-5.00M215.70 15.90v5.00M245.10 456.00v-5.00M245.10 15.90v5.00M259.80 456.00v-5.00M259.80 15.90v5.00M274.50 456.00v-5.00M274.50 15.90v5.00M289.20 456.00v-5.00M289.20 15.90v5.00M83.40 368.00h9.50M303.90 368.00h-9.50M83.40 280.00h9.50M303.90 280.00h-9.50M83.40 192.00h9.50M303.90 192.00h-9.50M83.40 104.00h9.50M303.90 104.00h-9.50M83.40 438.40h5.00M303.90 438.40h-5.00M83.40 420.80h5.00M303.90 420.80h-5.00M83.40 403.20h5.00M303.90 403.20h-5.00M83.40 385.60h5.00M303.90 385.60h-5.00M83.40 350.40h5.00M303.90 350.40h-5.00M83.40 332.80h5.00M303.90 332.80h-5.00M83.40 315.20h5.00M303.90 315.20h-5.00M83.40 297.60h5.00M303.90 297.60h-5.00M83.40 262.40h5.00M303.90 262.40h-5.00M83.40 244.80h5.00M303.90 244.80h-5.00M83.40 227.20h5.00M303.90 227.20h-5.00M83.40 209.60h5.00M303.90 209.60h-5.00M83.40 174.40h5.00M303.90 174.40h-5.00M83.40 156.80h5.00M303.90 156.80h-5.00M83.40 139.20h5.00M303.90 139.20h-5.00M83.40 121.60h5.00M303.90 121.60h-5.00M83.40 86.40h5.00M303.90 86.40h-5.00M83.40 68.80h5.00M303.90 68.80h-5.00M83.40 51.20h5.00M303.90 51.20h-5.00M83.40 33.60h5.00M303.90 33.60h-5.00" stroke="#000" stroke-width="1.50" fill="none"/>
<text x="77.60" y="21.60" font-size="20.90" text-anchor="end" fill="#000">0.25</text>
<text x="77.60" y="109.60" font-size="20.90" text-anchor="end" fill="#000">0.20</text>
<text x="77.60" y="197.60" font-size="20.90" text-anchor="end" fill="#000">0.15</text>
<text x="77.60" y="285.60" font-size="20.90" text-anchor="end" fill="#000">0.10</text>
<text x="77.60" y="373.60" font-size="20.90" text-anchor="end" fill="#000">0.05</text>
<text x="77.60" y="461.60" font-size="20.90" text-anchor="end" fill="#000">0</text>
<text x="83.40" y="477.80" font-size="20.90" text-anchor="middle" fill="#000">0</text>
<text x="156.90" y="477.80" font-size="20.90" text-anchor="middle" fill="#000">5</text>
<text x="230.40" y="477.80" font-size="20.90" text-anchor="middle" fill="#000">10</text>
<text x="303.90" y="477.80" font-size="20.90" text-anchor="middle" fill="#000">15</text>
<text x="192.70" y="509.00" font-size="23.30" text-anchor="middle" fill="#000">Time (μs)</text>
<text transform="translate(21.2,236) rotate(-90)" font-size="23.3" text-anchor="middle">Corrected asymmetry</text>
<text x="288" y="49.4" font-size="20.3" text-anchor="end">Ba<tspan font-size="14.5" dy="4.8">3</tspan><tspan dy="-4.8">ReO</tspan><tspan font-size="14.5" dy="4.8">5</tspan><tspan dy="-4.8">Cl</tspan><tspan font-size="14.5" dy="4.8">2</tspan></text>
<text x="288" y="80.4" font-size="20.3" text-anchor="end"><tspan font-style="italic">T</tspan> = 60 mK</text>
<path d="M113.4 351.5l4.2 4.2l-4.2 4.2l-4.2 -4.2z" fill="none" stroke="#d20000" stroke-width="1.7"/>
<text x="175.80" y="361.40" font-size="17.70" text-anchor="end" fill="#d20000">10 mT</text>
<path d="M113.4 374.6l3.8 6.4h-7.6z" fill="none" stroke="#9b9b00" stroke-width="1.7"/>
<text x="175.80" y="383.40" font-size="17.70" text-anchor="end" fill="#9b9b00">5 mT</text>
<path d="M110.2 396.2h6.4v6.4h-6.4z" fill="none" stroke="#009a00" stroke-width="1.7"/>
<text x="175.80" y="405.20" font-size="17.70" text-anchor="end" fill="#009a00">2 mT</text>
<path d="M110.3 421.3a3.1 3.1 0 1 0 6.2 0a3.1 3.1 0 1 0 -6.2 0" fill="none" stroke="#0040ff" stroke-width="1.7"/>
<text x="175.80" y="427.10" font-size="17.70" text-anchor="end" fill="#0040ff">0 mT</text>
<text x="-1.2" y="17.1" font-size="25.7" font-weight="bold">a</text>
<path d="M412.5 435.5v7.6M416.9 439.8v7.6M421.2 444.0v7.6M425.6 439.9v7.6M430.0 441.0v7.6M434.3 442.2v7.6M438.7 440.2v7.6M443.1 438.1v7.6M447.4 436.8v7.6M451.8 434.7v7.6M456.2 432.8v7.6M458.7 431.1v7.6M461.3 432.2v7.6M463.9 431.0v7.6M466.4 427.2v7.6M469.0 426.9v7.6M471.6 425.0v7.6M474.2 425.3v7.6M476.7 428.3v7.6M479.3 427.2v7.6M481.9 424.7v7.6M484.4 421.7v7.6M487.0 421.6v7.6M489.6 419.9v7.6M492.1 415.5v7.6M494.7 411.6v7.6M497.3 410.3v7.6M499.8 406.8v7.6M502.4 406.9v7.6M505.0 403.6v7.6M507.6 401.5v7.6M510.1 401.1v7.6M512.7 400.2v7.6M515.3 397.0v7.6M517.8 396.3v7.6M520.4 395.7v7.6M523.0 394.0v7.6M525.5 393.8v7.6M528.1 391.1v7.6M530.7 389.9v7.6M533.2 387.2v7.6M535.8 384.5v7.6M538.4 383.9v7.6M540.9 381.4v7.6M543.5 381.7v7.6M546.1 379.6v7.6M548.7 380.6v7.6M551.2 380.2v7.6M553.8 382.0v7.6M556.4 382.6v7.6M558.9 381.5v7.6" stroke="#0a40f5" stroke-width="1.1" fill="none"/>
<path d="M409.4 439.3a3.0 3.0 0 1 0 6.1 0a3.0 3.0 0 1 0 -6.1 0M413.8 443.6a3.0 3.0 0 1 0 6.1 0a3.0 3.0 0 1 0 -6.1 0M418.2 447.8a3.0 3.0 0 1 0 6.1 0a3.0 3.0 0 1 0 -6.1 0M422.6 443.7a3.0 3.0 0 1 0 6.1 0a3.0 3.0 0 1 0 -6.1 0M426.9 444.8a3.0 3.0 0 1 0 6.1 0a3.0 3.0 0 1 0 -6.1 0M431.3 446.0a3.0 3.0 0 1 0 6.1 0a3.0 3.0 0 1 0 -6.1 0M435.7 444.0a3.0 3.0 0 1 0 6.1 0a3.0 3.0 0 1 0 -6.1 0M440.0 441.9a3.0 3.0 0 1 0 6.1 0a3.0 3.0 0 1 0 -6.1 0M444.4 440.6a3.0 3.0 0 1 0 6.1 0a3.0 3.0 0 1 0 -6.1 0M448.8 438.5a3.0 3.0 0 1 0 6.1 0a3.0 3.0 0 1 0 -6.1 0M453.1 436.6a3.0 3.0 0 1 0 6.1 0a3.0 3.0 0 1 0 -6.1 0M455.7 434.9a3.0 3.0 0 1 0 6.1 0a3.0 3.0 0 1 0 -6.1 0M458.3 436.0a3.0 3.0 0 1 0 6.1 0a3.0 3.0 0 1 0 -6.1 0M460.8 434.8a3.0 3.0 0 1 0 6.1 0a3.0 3.0 0 1 0 -6.1 0M463.4 431.0a3.0 3.0 0 1 0 6.1 0a3.0 3.0 0 1 0 -6.1 0M466.0 430.7a3.0 3.0 0 1 0 6.1 0a3.0 3.0 0 1 0 -6.1 0M468.5 428.8a3.0 3.0 0 1 0 6.1 0a3.0 3.0 0 1 0 -6.1 0M471.1 429.1a3.0 3.0 0 1 0 6.1 0a3.0 3.0 0 1 0 -6.1 0M473.7 432.1a3.0 3.0 0 1 0 6.1 0a3.0 3.0 0 1 0 -6.1 0M476.2 431.0a3.0 3.0 0 1 0 6.1 0a3.0 3.0 0 1 0 -6.1 0M478.8 428.5a3.0 3.0 0 1 0 6.1 0a3.0 3.0 0 1 0 -6.1 0M481.4 425.5a3.0 3.0 0 1 0 6.1 0a3.0 3.0 0 1 0 -6.1 0M483.9 425.4a3.0 3.0 0 1 0 6.1 0a3.0 3.0 0 1 0 -6.1 0M486.5 423.7a3.0 3.0 0 1 0 6.1 0a3.0 3.0 0 1 0 -6.1 0M489.1 419.3a3.0 3.0 0 1 0 6.1 0a3.0 3.0 0 1 0 -6.1 0M491.7 415.4a3.0 3.0 0 1 0 6.1 0a3.0 3.0 0 1 0 -6.1 0M494.2 414.1a3.0 3.0 0 1 0 6.1 0a3.0 3.0 0 1 0 -6.1 0M496.8 410.6a3.0 3.0 0 1 0 6.1 0a3.0 3.0 0 1 0 -6.1 0M499.4 410.7a3.0 3.0 0 1 0 6.1 0a3.0 3.0 0 1 0 -6.1 0M501.9 407.4a3.0 3.0 0 1 0 6.1 0a3.0 3.0 0 1 0 -6.1 0M504.5 405.3a3.0 3.0 0 1 0 6.1 0a3.0 3.0 0 1 0 -6.1 0M507.1 404.9a3.0 3.0 0 1 0 6.1 0a3.0 3.0 0 1 0 -6.1 0M509.6 404.0a3.0 3.0 0 1 0 6.1 0a3.0 3.0 0 1 0 -6.1 0M512.2 400.8a3.0 3.0 0 1 0 6.1 0a3.0 3.0 0 1 0 -6.1 0M514.8 400.1a3.0 3.0 0 1 0 6.1 0a3.0 3.0 0 1 0 -6.1 0M517.3 399.5a3.0 3.0 0 1 0 6.1 0a3.0 3.0 0 1 0 -6.1 0M519.9 397.8a3.0 3.0 0 1 0 6.1 0a3.0 3.0 0 1 0 -6.1 0M522.5 397.6a3.0 3.0 0 1 0 6.1 0a3.0 3.0 0 1 0 -6.1 0M525.1 394.9a3.0 3.0 0 1 0 6.1 0a3.0 3.0 0 1 0 -6.1 0M527.6 393.7a3.0 3.0 0 1 0 6.1 0a3.0 3.0 0 1 0 -6.1 0M530.2 391.0a3.0 3.0 0 1 0 6.1 0a3.0 3.0 0 1 0 -6.1 0M532.8 388.3a3.0 3.0 0 1 0 6.1 0a3.0 3.0 0 1 0 -6.1 0M535.3 387.7a3.0 3.0 0 1 0 6.1 0a3.0 3.0 0 1 0 -6.1 0M537.9 385.2a3.0 3.0 0 1 0 6.1 0a3.0 3.0 0 1 0 -6.1 0M540.5 385.5a3.0 3.0 0 1 0 6.1 0a3.0 3.0 0 1 0 -6.1 0M543.0 383.4a3.0 3.0 0 1 0 6.1 0a3.0 3.0 0 1 0 -6.1 0M545.6 384.4a3.0 3.0 0 1 0 6.1 0a3.0 3.0 0 1 0 -6.1 0M548.2 384.0a3.0 3.0 0 1 0 6.1 0a3.0 3.0 0 1 0 -6.1 0M550.7 385.8a3.0 3.0 0 1 0 6.1 0a3.0 3.0 0 1 0 -6.1 0M553.3 386.4a3.0 3.0 0 1 0 6.1 0a3.0 3.0 0 1 0 -6.1 0M555.9 385.3a3.0 3.0 0 1 0 6.1 0a3.0 3.0 0 1 0 -6.1 0" stroke="#0a40f5" stroke-width="1.6" fill="none"/>
<path d="M413.3 407.9v7.6M417.6 410.8v7.6M422.0 410.1v7.6M426.4 406.4v7.6M430.7 405.6v7.6M435.1 410.1v7.6M439.5 404.7v7.6M443.8 401.6v7.6M448.2 400.3v7.6M452.6 398.7v7.6M454.9 397.1v7.6M457.2 395.2v7.6M459.5 391.9v7.6M461.8 392.6v7.6M464.1 393.0v7.6M466.4 396.0v7.6M468.8 393.2v7.6M471.1 390.6v7.6M473.4 389.3v7.6M475.7 387.7v7.6M478.0 385.7v7.6M480.3 384.9v7.6M482.6 380.7v7.6M484.9 379.2v7.6M487.3 377.5v7.6M489.6 375.3v7.6M491.9 371.3v7.6M494.2 371.6v7.6M496.5 371.2v7.6M498.8 369.9v7.6M501.1 366.0v7.6M503.4 366.8v7.6M505.8 363.8v7.6M508.1 362.2v7.6M510.4 364.4v7.6M512.7 359.8v7.6M515.0 360.1v7.6M517.3 359.7v7.6M519.6 358.0v7.6M521.9 355.9v7.6M524.2 354.9v7.6M526.6 353.7v7.6M528.9 354.5v7.6M531.2 353.4v7.6M533.5 353.9v7.6M535.8 354.3v7.6M538.1 355.8v7.6M540.4 356.0v7.6M542.7 357.1v7.6M545.1 359.6v7.6M547.4 360.7v7.6M549.7 362.3v7.6M552.0 363.8v7.6M554.3 365.1v7.6M556.6 369.0v7.6M558.9 369.3v7.6M561.2 370.2v7.6M563.6 374.2v7.6M565.9 375.7v7.6M568.2 375.0v7.6M570.5 379.5v7.6M572.8 381.1v7.6M575.1 382.4v7.6M577.4 385.3v7.6M579.7 387.7v7.6M582.1 389.4v7.6M584.4 391.3v7.6M586.7 393.5v7.6M589.0 394.8v7.6M591.3 395.2v7.6M593.6 398.0v7.6M595.9 398.5v7.6M598.2 401.0v7.6M600.5 402.6v7.6M602.9 404.6v7.6M605.2 407.2v7.6M607.5 408.4v7.6" stroke="#00aaff" stroke-width="1.1" fill="none"/>
<path d="M410.2 411.7a3.0 3.0 0 1 0 6.1 0a3.0 3.0 0 1 0 -6.1 0M414.6 414.6a3.0 3.0 0 1 0 6.1 0a3.0 3.0 0 1 0 -6.1 0M419.0 413.9a3.0 3.0 0 1 0 6.1 0a3.0 3.0 0 1 0 -6.1 0M423.3 410.2a3.0 3.0 0 1 0 6.1 0a3.0 3.0 0 1 0 -6.1 0M427.7 409.4a3.0 3.0 0 1 0 6.1 0a3.0 3.0 0 1 0 -6.1 0M432.1 413.9a3.0 3.0 0 1 0 6.1 0a3.0 3.0 0 1 0 -6.1 0M436.4 408.5a3.0 3.0 0 1 0 6.1 0a3.0 3.0 0 1 0 -6.1 0M440.8 405.4a3.0 3.0 0 1 0 6.1 0a3.0 3.0 0 1 0 -6.1 0M445.2 404.1a3.0 3.0 0 1 0 6.1 0a3.0 3.0 0 1 0 -6.1 0M449.5 402.5a3.0 3.0 0 1 0 6.1 0a3.0 3.0 0 1 0 -6.1 0M451.8 400.9a3.0 3.0 0 1 0 6.1 0a3.0 3.0 0 1 0 -6.1 0M454.1 399.0a3.0 3.0 0 1 0 6.1 0a3.0 3.0 0 1 0 -6.1 0M456.5 395.7a3.0 3.0 0 1 0 6.1 0a3.0 3.0 0 1 0 -6.1 0M458.8 396.4a3.0 3.0 0 1 0 6.1 0a3.0 3.0 0 1 0 -6.1 0M461.1 396.8a3.0 3.0 0 1 0 6.1 0a3.0 3.0 0 1 0 -6.1 0M463.4 399.8a3.0 3.0 0 1 0 6.1 0a3.0 3.0 0 1 0 -6.1 0M465.7 397.0a3.0 3.0 0 1 0 6.1 0a3.0 3.0 0 1 0 -6.1 0M468.0 394.4a3.0 3.0 0 1 0 6.1 0a3.0 3.0 0 1 0 -6.1 0M470.3 393.1a3.0 3.0 0 1 0 6.1 0a3.0 3.0 0 1 0 -6.1 0M472.6 391.5a3.0 3.0 0 1 0 6.1 0a3.0 3.0 0 1 0 -6.1 0M475.0 389.5a3.0 3.0 0 1 0 6.1 0a3.0 3.0 0 1 0 -6.1 0M477.3 388.7a3.0 3.0 0 1 0 6.1 0a3.0 3.0 0 1 0 -6.1 0M479.6 384.5a3.0 3.0 0 1 0 6.1 0a3.0 3.0 0 1 0 -6.1 0M481.9 383.0a3.0 3.0 0 1 0 6.1 0a3.0 3.0 0 1 0 -6.1 0M484.2 381.3a3.0 3.0 0 1 0 6.1 0a3.0 3.0 0 1 0 -6.1 0M486.5 379.1a3.0 3.0 0 1 0 6.1 0a3.0 3.0 0 1 0 -6.1 0M488.8 375.1a3.0 3.0 0 1 0 6.1 0a3.0 3.0 0 1 0 -6.1 0M491.1 375.4a3.0 3.0 0 1 0 6.1 0a3.0 3.0 0 1 0 -6.1 0M493.5 375.0a3.0 3.0 0 1 0 6.1 0a3.0 3.0 0 1 0 -6.1 0M495.8 373.7a3.0 3.0 0 1 0 6.1 0a3.0 3.0 0 1 0 -6.1 0M498.1 369.8a3.0 3.0 0 1 0 6.1 0a3.0 3.0 0 1 0 -6.1 0M500.4 370.6a3.0 3.0 0 1 0 6.1 0a3.0 3.0 0 1 0 -6.1 0M502.7 367.6a3.0 3.0 0 1 0 6.1 0a3.0 3.0 0 1 0 -6.1 0M505.0 366.0a3.0 3.0 0 1 0 6.1 0a3.0 3.0 0 1 0 -6.1 0M507.3 368.2a3.0 3.0 0 1 0 6.1 0a3.0 3.0 0 1 0 -6.1 0M509.6 363.6a3.0 3.0 0 1 0 6.1 0a3.0 3.0 0 1 0 -6.1 0M512.0 363.9a3.0 3.0 0 1 0 6.1 0a3.0 3.0 0 1 0 -6.1 0M514.3 363.5a3.0 3.0 0 1 0 6.1 0a3.0 3.0 0 1 0 -6.1 0M516.6 361.8a3.0 3.0 0 1 0 6.1 0a3.0 3.0 0 1 0 -6.1 0M518.9 359.7a3.0 3.0 0 1 0 6.1 0a3.0 3.0 0 1 0 -6.1 0M521.2 358.7a3.0 3.0 0 1 0 6.1 0a3.0 3.0 0 1 0 -6.1 0M523.5 357.5a3.0 3.0 0 1 0 6.1 0a3.0 3.0 0 1 0 -6.1 0M525.8 358.3a3.0 3.0 0 1 0 6.1 0a3.0 3.0 0 1 0 -6.1 0M528.1 357.2a3.0 3.0 0 1 0 6.1 0a3.0 3.0 0 1 0 -6.1 0M530.4 357.7a3.0 3.0 0 1 0 6.1 0a3.0 3.0 0 1 0 -6.1 0M532.8 358.1a3.0 3.0 0 1 0 6.1 0a3.0 3.0 0 1 0 -6.1 0M535.1 359.6a3.0 3.0 0 1 0 6.1 0a3.0 3.0 0 1 0 -6.1 0M537.4 359.8a3.0 3.0 0 1 0 6.1 0a3.0 3.0 0 1 0 -6.1 0M539.7 360.9a3.0 3.0 0 1 0 6.1 0a3.0 3.0 0 1 0 -6.1 0M542.0 363.4a3.0 3.0 0 1 0 6.1 0a3.0 3.0 0 1 0 -6.1 0M544.3 364.5a3.0 3.0 0 1 0 6.1 0a3.0 3.0 0 1 0 -6.1 0M546.6 366.1a3.0 3.0 0 1 0 6.1 0a3.0 3.0 0 1 0 -6.1 0M548.9 367.6a3.0 3.0 0 1 0 6.1 0a3.0 3.0 0 1 0 -6.1 0M551.3 368.9a3.0 3.0 0 1 0 6.1 0a3.0 3.0 0 1 0 -6.1 0M553.6 372.8a3.0 3.0 0 1 0 6.1 0a3.0 3.0 0 1 0 -6.1 0M555.9 373.1a3.0 3.0 0 1 0 6.1 0a3.0 3.0 0 1 0 -6.1 0M558.2 374.0a3.0 3.0 0 1 0 6.1 0a3.0 3.0 0 1 0 -6.1 0M560.5 378.0a3.0 3.0 0 1 0 6.1 0a3.0 3.0 0 1 0 -6.1 0M562.8 379.5a3.0 3.0 0 1 0 6.1 0a3.0 3.0 0 1 0 -6.1 0M565.1 378.8a3.0 3.0 0 1 0 6.1 0a3.0 3.0 0 1 0 -6.1 0M567.4 383.3a3.0 3.0 0 1 0 6.1 0a3.0 3.0 0 1 0 -6.1 0M569.8 384.9a3.0 3.0 0 1 0 6.1 0a3.0 3.0 0 1 0 -6.1 0M572.1 386.2a3.0 3.0 0 1 0 6.1 0a3.0 3.0 0 1 0 -6.1 0M574.4 389.1a3.0 3.0 0 1 0 6.1 0a3.0 3.0 0 1 0 -6.1 0M576.7 391.5a3.0 3.0 0 1 0 6.1 0a3.0 3.0 0 1 0 -6.1 0M579.0 393.2a3.0 3.0 0 1 0 6.1 0a3.0 3.0 0 1 0 -6.1 0M581.3 395.1a3.0 3.0 0 1 0 6.1 0a3.0 3.0 0 1 0 -6.1 0M583.6 397.3a3.0 3.0 0 1 0 6.1 0a3.0 3.0 0 1 0 -6.1 0M585.9 398.6a3.0 3.0 0 1 0 6.1 0a3.0 3.0 0 1 0 -6.1 0M588.3 399.0a3.0 3.0 0 1 0 6.1 0a3.0 3.0 0 1 0 -6.1 0M590.6 401.8a3.0 3.0 0 1 0 6.1 0a3.0 3.0 0 1 0 -6.1 0M592.9 402.3a3.0 3.0 0 1 0 6.1 0a3.0 3.0 0 1 0 -6.1 0M595.2 404.8a3.0 3.0 0 1 0 6.1 0a3.0 3.0 0 1 0 -6.1 0M597.5 406.4a3.0 3.0 0 1 0 6.1 0a3.0 3.0 0 1 0 -6.1 0M599.8 408.4a3.0 3.0 0 1 0 6.1 0a3.0 3.0 0 1 0 -6.1 0M602.1 411.0a3.0 3.0 0 1 0 6.1 0a3.0 3.0 0 1 0 -6.1 0M604.4 412.2a3.0 3.0 0 1 0 6.1 0a3.0 3.0 0 1 0 -6.1 0" stroke="#00aaff" stroke-width="1.6" fill="none"/>
<path d="M431.8 349.3v7.6M436.1 350.1v7.6M440.5 350.1v7.6M444.9 351.0v7.6M449.2 346.8v7.6M453.6 346.5v7.6M458.0 342.5v7.6M462.3 341.4v7.6M466.7 340.0v7.6M471.1 339.6v7.6M475.4 339.6v7.6M477.2 340.0v7.6M478.9 339.4v7.6M480.7 337.5v7.6M482.4 338.5v7.6M484.2 337.7v7.6M485.9 337.6v7.6M487.7 336.9v7.6M489.4 336.3v7.6M491.2 335.6v7.6M492.9 335.6v7.6M494.7 335.3v7.6M496.4 335.2v7.6M498.1 334.3v7.6M499.9 335.0v7.6M501.6 333.6v7.6M503.4 332.4v7.6M505.1 333.5v7.6M506.9 332.6v7.6M508.6 330.2v7.6M510.4 332.6v7.6M512.1 332.9v7.6M513.9 331.9v7.6M515.6 330.0v7.6M517.4 329.7v7.6M519.1 331.9v7.6M520.9 330.4v7.6M522.6 331.3v7.6M524.4 332.3v7.6M526.1 333.8v7.6M527.8 332.2v7.6M529.6 334.1v7.6M531.3 333.8v7.6M533.1 335.2v7.6M534.8 335.1v7.6M536.6 336.9v7.6M538.3 339.8v7.6M540.1 340.4v7.6M541.8 340.7v7.6M543.6 343.9v7.6M545.3 344.9v7.6M547.1 346.2v7.6M548.8 349.2v7.6M550.6 350.7v7.6M552.3 352.7v7.6M554.1 353.0v7.6M555.8 355.3v7.6M557.5 356.0v7.6M559.3 358.1v7.6M561.0 359.1v7.6M562.8 361.0v7.6M564.5 361.8v7.6M566.3 363.8v7.6M568.0 365.9v7.6M569.8 365.7v7.6M571.5 367.2v7.6M573.3 367.7v7.6M575.0 370.8v7.6M576.8 372.6v7.6M578.5 374.3v7.6M580.3 377.1v7.6M582.0 376.3v7.6M583.7 376.0v7.6M585.5 378.1v7.6M587.2 380.4v7.6M589.0 379.1v7.6M590.7 381.0v7.6M592.5 381.9v7.6M594.2 383.0v7.6M596.0 383.8v7.6M597.7 384.1v7.6M599.5 386.4v7.6M601.2 386.0v7.6M603.0 386.9v7.6M604.7 386.4v7.6M606.5 388.7v7.6M608.2 387.4v7.6M610.0 388.9v7.6M611.7 388.8v7.6M613.4 391.2v7.6M615.2 390.8v7.6M616.9 391.7v7.6M618.7 393.6v7.6M620.4 393.2v7.6M622.2 393.8v7.6M623.9 394.7v7.6M625.7 395.1v7.6M627.4 396.1v7.6M629.2 395.9v7.6M630.9 395.9v7.6M632.7 397.2v7.6M634.4 398.3v7.6M636.2 397.4v7.6M637.9 399.3v7.6M639.6 400.0v7.6M641.4 401.1v7.6M643.1 404.5v7.6M413.0 348.3v7.6M414.8 356.0v7.6M416.9 360.6v7.6M418.4 363.6v7.6M421.0 357.9v7.6M423.0 356.0v7.6M426.1 357.4v7.6M429.4 359.3v7.6" stroke="#009600" stroke-width="1.1" fill="none"/>
<path d="M428.7 353.1a3.0 3.0 0 1 0 6.1 0a3.0 3.0 0 1 0 -6.1 0M433.1 353.9a3.0 3.0 0 1 0 6.1 0a3.0 3.0 0 1 0 -6.1 0M437.5 353.9a3.0 3.0 0 1 0 6.1 0a3.0 3.0 0 1 0 -6.1 0M441.8 354.8a3.0 3.0 0 1 0 6.1 0a3.0 3.0 0 1 0 -6.1 0M446.2 350.6a3.0 3.0 0 1 0 6.1 0a3.0 3.0 0 1 0 -6.1 0M450.6 350.3a3.0 3.0 0 1 0 6.1 0a3.0 3.0 0 1 0 -6.1 0M454.9 346.3a3.0 3.0 0 1 0 6.1 0a3.0 3.0 0 1 0 -6.1 0M459.3 345.2a3.0 3.0 0 1 0 6.1 0a3.0 3.0 0 1 0 -6.1 0M463.7 343.8a3.0 3.0 0 1 0 6.1 0a3.0 3.0 0 1 0 -6.1 0M468.0 343.4a3.0 3.0 0 1 0 6.1 0a3.0 3.0 0 1 0 -6.1 0M472.4 343.4a3.0 3.0 0 1 0 6.1 0a3.0 3.0 0 1 0 -6.1 0M474.1 343.8a3.0 3.0 0 1 0 6.1 0a3.0 3.0 0 1 0 -6.1 0M475.9 343.2a3.0 3.0 0 1 0 6.1 0a3.0 3.0 0 1 0 -6.1 0M477.6 341.3a3.0 3.0 0 1 0 6.1 0a3.0 3.0 0 1 0 -6.1 0M479.4 342.3a3.0 3.0 0 1 0 6.1 0a3.0 3.0 0 1 0 -6.1 0M481.1 341.5a3.0 3.0 0 1 0 6.1 0a3.0 3.0 0 1 0 -6.1 0M482.9 341.4a3.0 3.0 0 1 0 6.1 0a3.0 3.0 0 1 0 -6.1 0M484.6 340.7a3.0 3.0 0 1 0 6.1 0a3.0 3.0 0 1 0 -6.1 0M486.4 340.1a3.0 3.0 0 1 0 6.1 0a3.0 3.0 0 1 0 -6.1 0M488.1 339.4a3.0 3.0 0 1 0 6.1 0a3.0 3.0 0 1 0 -6.1 0M489.9 339.4a3.0 3.0 0 1 0 6.1 0a3.0 3.0 0 1 0 -6.1 0M491.6 339.1a3.0 3.0 0 1 0 6.1 0a3.0 3.0 0 1 0 -6.1 0M493.4 339.0a3.0 3.0 0 1 0 6.1 0a3.0 3.0 0 1 0 -6.1 0M495.1 338.1a3.0 3.0 0 1 0 6.1 0a3.0 3.0 0 1 0 -6.1 0M496.8 338.8a3.0 3.0 0 1 0 6.1 0a3.0 3.0 0 1 0 -6.1 0M498.6 337.4a3.0 3.0 0 1 0 6.1 0a3.0 3.0 0 1 0 -6.1 0M500.3 336.2a3.0 3.0 0 1 0 6.1 0a3.0 3.0 0 1 0 -6.1 0M502.1 337.3a3.0 3.0 0 1 0 6.1 0a3.0 3.0 0 1 0 -6.1 0M503.8 336.4a3.0 3.0 0 1 0 6.1 0a3.0 3.0 0 1 0 -6.1 0M505.6 334.0a3.0 3.0 0 1 0 6.1 0a3.0 3.0 0 1 0 -6.1 0M507.3 336.4a3.0 3.0 0 1 0 6.1 0a3.0 3.0 0 1 0 -6.1 0M509.1 336.7a3.0 3.0 0 1 0 6.1 0a3.0 3.0 0 1 0 -6.1 0M510.8 335.7a3.0 3.0 0 1 0 6.1 0a3.0 3.0 0 1 0 -6.1 0M512.6 333.8a3.0 3.0 0 1 0 6.1 0a3.0 3.0 0 1 0 -6.1 0M514.3 333.5a3.0 3.0 0 1 0 6.1 0a3.0 3.0 0 1 0 -6.1 0M516.1 335.7a3.0 3.0 0 1 0 6.1 0a3.0 3.0 0 1 0 -6.1 0M517.8 334.2a3.0 3.0 0 1 0 6.1 0a3.0 3.0 0 1 0 -6.1 0M519.6 335.1a3.0 3.0 0 1 0 6.1 0a3.0 3.0 0 1 0 -6.1 0M521.3 336.1a3.0 3.0 0 1 0 6.1 0a3.0 3.0 0 1 0 -6.1 0M523.0 337.6a3.0 3.0 0 1 0 6.1 0a3.0 3.0 0 1 0 -6.1 0M524.8 336.0a3.0 3.0 0 1 0 6.1 0a3.0 3.0 0 1 0 -6.1 0M526.5 337.9a3.0 3.0 0 1 0 6.1 0a3.0 3.0 0 1 0 -6.1 0M528.3 337.6a3.0 3.0 0 1 0 6.1 0a3.0 3.0 0 1 0 -6.1 0M530.0 339.0a3.0 3.0 0 1 0 6.1 0a3.0 3.0 0 1 0 -6.1 0M531.8 338.9a3.0 3.0 0 1 0 6.1 0a3.0 3.0 0 1 0 -6.1 0M533.5 340.7a3.0 3.0 0 1 0 6.1 0a3.0 3.0 0 1 0 -6.1 0M535.3 343.6a3.0 3.0 0 1 0 6.1 0a3.0 3.0 0 1 0 -6.1 0M537.0 344.2a3.0 3.0 0 1 0 6.1 0a3.0 3.0 0 1 0 -6.1 0M538.8 344.5a3.0 3.0 0 1 0 6.1 0a3.0 3.0 0 1 0 -6.1 0M540.5 347.7a3.0 3.0 0 1 0 6.1 0a3.0 3.0 0 1 0 -6.1 0M542.3 348.7a3.0 3.0 0 1 0 6.1 0a3.0 3.0 0 1 0 -6.1 0M544.0 350.0a3.0 3.0 0 1 0 6.1 0a3.0 3.0 0 1 0 -6.1 0M545.8 353.0a3.0 3.0 0 1 0 6.1 0a3.0 3.0 0 1 0 -6.1 0M547.5 354.5a3.0 3.0 0 1 0 6.1 0a3.0 3.0 0 1 0 -6.1 0M549.3 356.5a3.0 3.0 0 1 0 6.1 0a3.0 3.0 0 1 0 -6.1 0M551.0 356.8a3.0 3.0 0 1 0 6.1 0a3.0 3.0 0 1 0 -6.1 0M552.7 359.1a3.0 3.0 0 1 0 6.1 0a3.0 3.0 0 1 0 -6.1 0M554.5 359.8a3.0 3.0 0 1 0 6.1 0a3.0 3.0 0 1 0 -6.1 0M556.2 361.9a3.0 3.0 0 1 0 6.1 0a3.0 3.0 0 1 0 -6.1 0M558.0 362.9a3.0 3.0 0 1 0 6.1 0a3.0 3.0 0 1 0 -6.1 0M559.7 364.8a3.0 3.0 0 1 0 6.1 0a3.0 3.0 0 1 0 -6.1 0M561.5 365.6a3.0 3.0 0 1 0 6.1 0a3.0 3.0 0 1 0 -6.1 0M563.2 367.6a3.0 3.0 0 1 0 6.1 0a3.0 3.0 0 1 0 -6.1 0M565.0 369.7a3.0 3.0 0 1 0 6.1 0a3.0 3.0 0 1 0 -6.1 0M566.7 369.5a3.0 3.0 0 1 0 6.1 0a3.0 3.0 0 1 0 -6.1 0M568.5 371.0a3.0 3.0 0 1 0 6.1 0a3.0 3.0 0 1 0 -6.1 0M570.2 371.5a3.0 3.0 0 1 0 6.1 0a3.0 3.0 0 1 0 -6.1 0M572.0 374.6a3.0 3.0 0 1 0 6.1 0a3.0 3.0 0 1 0 -6.1 0M573.7 376.4a3.0 3.0 0 1 0 6.1 0a3.0 3.0 0 1 0 -6.1 0M575.5 378.1a3.0 3.0 0 1 0 6.1 0a3.0 3.0 0 1 0 -6.1 0M577.2 380.9a3.0 3.0 0 1 0 6.1 0a3.0 3.0 0 1 0 -6.1 0M579.0 380.1a3.0 3.0 0 1 0 6.1 0a3.0 3.0 0 1 0 -6.1 0M580.7 379.8a3.0 3.0 0 1 0 6.1 0a3.0 3.0 0 1 0 -6.1 0M582.4 381.9a3.0 3.0 0 1 0 6.1 0a3.0 3.0 0 1 0 -6.1 0M584.2 384.2a3.0 3.0 0 1 0 6.1 0a3.0 3.0 0 1 0 -6.1 0M585.9 382.9a3.0 3.0 0 1 0 6.1 0a3.0 3.0 0 1 0 -6.1 0M587.7 384.8a3.0 3.0 0 1 0 6.1 0a3.0 3.0 0 1 0 -6.1 0M589.4 385.7a3.0 3.0 0 1 0 6.1 0a3.0 3.0 0 1 0 -6.1 0M591.2 386.8a3.0 3.0 0 1 0 6.1 0a3.0 3.0 0 1 0 -6.1 0M592.9 387.6a3.0 3.0 0 1 0 6.1 0a3.0 3.0 0 1 0 -6.1 0M594.7 387.9a3.0 3.0 0 1 0 6.1 0a3.0 3.0 0 1 0 -6.1 0M596.4 390.2a3.0 3.0 0 1 0 6.1 0a3.0 3.0 0 1 0 -6.1 0M598.2 389.8a3.0 3.0 0 1 0 6.1 0a3.0 3.0 0 1 0 -6.1 0M599.9 390.7a3.0 3.0 0 1 0 6.1 0a3.0 3.0 0 1 0 -6.1 0M601.7 390.2a3.0 3.0 0 1 0 6.1 0a3.0 3.0 0 1 0 -6.1 0M603.4 392.5a3.0 3.0 0 1 0 6.1 0a3.0 3.0 0 1 0 -6.1 0M605.2 391.2a3.0 3.0 0 1 0 6.1 0a3.0 3.0 0 1 0 -6.1 0M606.9 392.7a3.0 3.0 0 1 0 6.1 0a3.0 3.0 0 1 0 -6.1 0M608.6 392.6a3.0 3.0 0 1 0 6.1 0a3.0 3.0 0 1 0 -6.1 0M610.4 395.0a3.0 3.0 0 1 0 6.1 0a3.0 3.0 0 1 0 -6.1 0M612.1 394.6a3.0 3.0 0 1 0 6.1 0a3.0 3.0 0 1 0 -6.1 0M613.9 395.5a3.0 3.0 0 1 0 6.1 0a3.0 3.0 0 1 0 -6.1 0M615.6 397.4a3.0 3.0 0 1 0 6.1 0a3.0 3.0 0 1 0 -6.1 0M617.4 397.0a3.0 3.0 0 1 0 6.1 0a3.0 3.0 0 1 0 -6.1 0M619.1 397.6a3.0 3.0 0 1 0 6.1 0a3.0 3.0 0 1 0 -6.1 0M620.9 398.5a3.0 3.0 0 1 0 6.1 0a3.0 3.0 0 1 0 -6.1 0M622.6 398.9a3.0 3.0 0 1 0 6.1 0a3.0 3.0 0 1 0 -6.1 0M624.4 399.9a3.0 3.0 0 1 0 6.1 0a3.0 3.0 0 1 0 -6.1 0M626.1 399.7a3.0 3.0 0 1 0 6.1 0a3.0 3.0 0 1 0 -6.1 0M627.9 399.7a3.0 3.0 0 1 0 6.1 0a3.0 3.0 0 1 0 -6.1 0M629.6 401.0a3.0 3.0 0 1 0 6.1 0a3.0 3.0 0 1 0 -6.1 0M631.4 402.1a3.0 3.0 0 1 0 6.1 0a3.0 3.0 0 1 0 -6.1 0M633.1 401.2a3.0 3.0 0 1 0 6.1 0a3.0 3.0 0 1 0 -6.1 0M634.9 403.1a3.0 3.0 0 1 0 6.1 0a3.0 3.0 0 1 0 -6.1 0M636.6 403.8a3.0 3.0 0 1 0 6.1 0a3.0 3.0 0 1 0 -6.1 0M638.3 404.9a3.0 3.0 0 1 0 6.1 0a3.0 3.0 0 1 0 -6.1 0M640.1 408.3a3.0 3.0 0 1 0 6.1 0a3.0 3.0 0 1 0 -6.1 0M410.0 352.1a3.0 3.0 0 1 0 6.1 0a3.0 3.0 0 1 0 -6.1 0M411.8 359.8a3.0 3.0 0 1 0 6.1 0a3.0 3.0 0 1 0 -6.1 0M413.8 364.4a3.0 3.0 0 1 0 6.1 0a3.0 3.0 0 1 0 -6.1 0M415.4 367.4a3.0 3.0 0 1 0 6.1 0a3.0 3.0 0 1 0 -6.1 0M417.9 361.7a3.0 3.0 0 1 0 6.1 0a3.0 3.0 0 1 0 -6.1 0M420.0 359.8a3.0 3.0 0 1 0 6.1 0a3.0 3.0 0 1 0 -6.1 0M423.1 361.2a3.0 3.0 0 1 0 6.1 0a3.0 3.0 0 1 0 -6.1 0M426.4 363.1a3.0 3.0 0 1 0 6.1 0a3.0 3.0 0 1 0 -6.1 0" stroke="#009600" stroke-width="1.6" fill="none"/>
<path d="M415.2 339.7v7.6M419.5 338.6v7.6M423.9 337.6v7.6M428.3 334.8v7.6M432.6 332.7v7.6M437.0 330.8v7.6M441.4 328.4v7.6M445.7 327.8v7.6M450.1 324.2v7.6M454.5 323.3v7.6M458.8 321.2v7.6M460.6 320.0v7.6M462.3 319.6v7.6M464.1 320.0v7.6M465.8 317.9v7.6M467.6 318.4v7.6M469.3 318.9v7.6M471.1 317.9v7.6M472.8 318.1v7.6M474.6 316.9v7.6M476.3 317.7v7.6M478.1 316.2v7.6M479.8 317.5v7.6M481.6 315.5v7.6M483.3 315.8v7.6M485.0 315.0v7.6M486.8 316.1v7.6M488.5 316.8v7.6M490.3 316.0v7.6M492.0 314.9v7.6M493.8 313.2v7.6M495.5 313.7v7.6M497.3 312.9v7.6M499.0 314.0v7.6M500.8 313.4v7.6M502.5 312.9v7.6M504.3 311.6v7.6M506.0 312.4v7.6M507.8 311.8v7.6M509.5 310.3v7.6M511.3 311.8v7.6M513.0 311.4v7.6M514.7 312.4v7.6M516.5 311.9v7.6M518.2 311.4v7.6M520.0 311.3v7.6M521.7 313.4v7.6M523.5 315.0v7.6M525.2 313.8v7.6M527.0 314.0v7.6M528.7 316.3v7.6M530.5 316.6v7.6M532.2 317.6v7.6M534.0 320.3v7.6M535.7 322.0v7.6M537.5 321.8v7.6M539.2 322.8v7.6M540.9 325.6v7.6M542.7 326.4v7.6M544.4 328.2v7.6M546.2 329.8v7.6M547.9 331.5v7.6M549.7 331.4v7.6M551.4 333.7v7.6M553.2 335.3v7.6M554.9 337.0v7.6M556.7 337.6v7.6M558.4 339.4v7.6M560.2 340.2v7.6M561.9 342.0v7.6M563.7 342.5v7.6M565.4 344.2v7.6M567.2 344.8v7.6M568.9 347.4v7.6M570.6 348.2v7.6M572.4 349.7v7.6M574.1 349.0v7.6M575.9 351.5v7.6M577.6 352.3v7.6M579.4 354.4v7.6M581.1 355.0v7.6M582.9 356.6v7.6M584.6 356.6v7.6M586.4 358.3v7.6M588.1 357.7v7.6M589.9 360.4v7.6M591.6 360.2v7.6M593.4 361.9v7.6M595.1 362.4v7.6M596.8 364.2v7.6M598.6 364.5v7.6M600.3 365.4v7.6M602.1 366.7v7.6M603.8 366.7v7.6M605.6 368.9v7.6M607.3 368.9v7.6M609.1 369.8v7.6M610.8 370.5v7.6M612.6 371.9v7.6M614.3 371.2v7.6M616.1 372.7v7.6M617.8 373.1v7.6M619.6 373.8v7.6M621.3 373.9v7.6M623.1 374.0v7.6M624.8 372.9v7.6M626.5 376.9v7.6M628.3 375.2v7.6M630.0 375.7v7.6M631.8 375.6v7.6M633.5 376.7v7.6M635.3 376.9v7.6M637.0 376.3v7.6M638.8 377.7v7.6M640.5 377.9v7.6M642.3 378.3v7.6M644.0 378.3v7.6M645.8 377.8v7.6M647.5 379.8v7.6M649.3 378.8v7.6M651.0 381.3v7.6M413.0 322.0v7.6" stroke="#9b9b00" stroke-width="1.1" fill="none"/>
<path d="M412.1 343.5a3.0 3.0 0 1 0 6.1 0a3.0 3.0 0 1 0 -6.1 0M416.5 342.4a3.0 3.0 0 1 0 6.1 0a3.0 3.0 0 1 0 -6.1 0M420.9 341.4a3.0 3.0 0 1 0 6.1 0a3.0 3.0 0 1 0 -6.1 0M425.2 338.6a3.0 3.0 0 1 0 6.1 0a3.0 3.0 0 1 0 -6.1 0M429.6 336.5a3.0 3.0 0 1 0 6.1 0a3.0 3.0 0 1 0 -6.1 0M434.0 334.6a3.0 3.0 0 1 0 6.1 0a3.0 3.0 0 1 0 -6.1 0M438.3 332.2a3.0 3.0 0 1 0 6.1 0a3.0 3.0 0 1 0 -6.1 0M442.7 331.6a3.0 3.0 0 1 0 6.1 0a3.0 3.0 0 1 0 -6.1 0M447.1 328.0a3.0 3.0 0 1 0 6.1 0a3.0 3.0 0 1 0 -6.1 0M451.4 327.1a3.0 3.0 0 1 0 6.1 0a3.0 3.0 0 1 0 -6.1 0M455.8 325.0a3.0 3.0 0 1 0 6.1 0a3.0 3.0 0 1 0 -6.1 0M457.5 323.8a3.0 3.0 0 1 0 6.1 0a3.0 3.0 0 1 0 -6.1 0M459.3 323.4a3.0 3.0 0 1 0 6.1 0a3.0 3.0 0 1 0 -6.1 0M461.0 323.8a3.0 3.0 0 1 0 6.1 0a3.0 3.0 0 1 0 -6.1 0M462.8 321.7a3.0 3.0 0 1 0 6.1 0a3.0 3.0 0 1 0 -6.1 0M464.5 322.2a3.0 3.0 0 1 0 6.1 0a3.0 3.0 0 1 0 -6.1 0M466.3 322.7a3.0 3.0 0 1 0 6.1 0a3.0 3.0 0 1 0 -6.1 0M468.0 321.7a3.0 3.0 0 1 0 6.1 0a3.0 3.0 0 1 0 -6.1 0M469.8 321.9a3.0 3.0 0 1 0 6.1 0a3.0 3.0 0 1 0 -6.1 0M471.5 320.7a3.0 3.0 0 1 0 6.1 0a3.0 3.0 0 1 0 -6.1 0M473.3 321.5a3.0 3.0 0 1 0 6.1 0a3.0 3.0 0 1 0 -6.1 0M475.0 320.0a3.0 3.0 0 1 0 6.1 0a3.0 3.0 0 1 0 -6.1 0M476.8 321.3a3.0 3.0 0 1 0 6.1 0a3.0 3.0 0 1 0 -6.1 0M478.5 319.3a3.0 3.0 0 1 0 6.1 0a3.0 3.0 0 1 0 -6.1 0M480.3 319.6a3.0 3.0 0 1 0 6.1 0a3.0 3.0 0 1 0 -6.1 0M482.0 318.8a3.0 3.0 0 1 0 6.1 0a3.0 3.0 0 1 0 -6.1 0M483.7 319.9a3.0 3.0 0 1 0 6.1 0a3.0 3.0 0 1 0 -6.1 0M485.5 320.6a3.0 3.0 0 1 0 6.1 0a3.0 3.0 0 1 0 -6.1 0M487.2 319.8a3.0 3.0 0 1 0 6.1 0a3.0 3.0 0 1 0 -6.1 0M489.0 318.7a3.0 3.0 0 1 0 6.1 0a3.0 3.0 0 1 0 -6.1 0M490.7 317.0a3.0 3.0 0 1 0 6.1 0a3.0 3.0 0 1 0 -6.1 0M492.5 317.5a3.0 3.0 0 1 0 6.1 0a3.0 3.0 0 1 0 -6.1 0M494.2 316.7a3.0 3.0 0 1 0 6.1 0a3.0 3.0 0 1 0 -6.1 0M496.0 317.8a3.0 3.0 0 1 0 6.1 0a3.0 3.0 0 1 0 -6.1 0M497.7 317.2a3.0 3.0 0 1 0 6.1 0a3.0 3.0 0 1 0 -6.1 0M499.5 316.7a3.0 3.0 0 1 0 6.1 0a3.0 3.0 0 1 0 -6.1 0M501.2 315.4a3.0 3.0 0 1 0 6.1 0a3.0 3.0 0 1 0 -6.1 0M503.0 316.2a3.0 3.0 0 1 0 6.1 0a3.0 3.0 0 1 0 -6.1 0M504.7 315.6a3.0 3.0 0 1 0 6.1 0a3.0 3.0 0 1 0 -6.1 0M506.5 314.1a3.0 3.0 0 1 0 6.1 0a3.0 3.0 0 1 0 -6.1 0M508.2 315.6a3.0 3.0 0 1 0 6.1 0a3.0 3.0 0 1 0 -6.1 0M509.9 315.2a3.0 3.0 0 1 0 6.1 0a3.0 3.0 0 1 0 -6.1 0M511.7 316.2a3.0 3.0 0 1 0 6.1 0a3.0 3.0 0 1 0 -6.1 0M513.4 315.7a3.0 3.0 0 1 0 6.1 0a3.0 3.0 0 1 0 -6.1 0M515.2 315.2a3.0 3.0 0 1 0 6.1 0a3.0 3.0 0 1 0 -6.1 0M516.9 315.1a3.0 3.0 0 1 0 6.1 0a3.0 3.0 0 1 0 -6.1 0M518.7 317.2a3.0 3.0 0 1 0 6.1 0a3.0 3.0 0 1 0 -6.1 0M520.4 318.8a3.0 3.0 0 1 0 6.1 0a3.0 3.0 0 1 0 -6.1 0M522.2 317.6a3.0 3.0 0 1 0 6.1 0a3.0 3.0 0 1 0 -6.1 0M523.9 317.8a3.0 3.0 0 1 0 6.1 0a3.0 3.0 0 1 0 -6.1 0M525.7 320.1a3.0 3.0 0 1 0 6.1 0a3.0 3.0 0 1 0 -6.1 0M527.4 320.4a3.0 3.0 0 1 0 6.1 0a3.0 3.0 0 1 0 -6.1 0M529.2 321.4a3.0 3.0 0 1 0 6.1 0a3.0 3.0 0 1 0 -6.1 0M530.9 324.1a3.0 3.0 0 1 0 6.1 0a3.0 3.0 0 1 0 -6.1 0M532.7 325.8a3.0 3.0 0 1 0 6.1 0a3.0 3.0 0 1 0 -6.1 0M534.4 325.6a3.0 3.0 0 1 0 6.1 0a3.0 3.0 0 1 0 -6.1 0M536.2 326.6a3.0 3.0 0 1 0 6.1 0a3.0 3.0 0 1 0 -6.1 0M537.9 329.4a3.0 3.0 0 1 0 6.1 0a3.0 3.0 0 1 0 -6.1 0M539.6 330.2a3.0 3.0 0 1 0 6.1 0a3.0 3.0 0 1 0 -6.1 0M541.4 332.0a3.0 3.0 0 1 0 6.1 0a3.0 3.0 0 1 0 -6.1 0M543.1 333.6a3.0 3.0 0 1 0 6.1 0a3.0 3.0 0 1 0 -6.1 0M544.9 335.3a3.0 3.0 0 1 0 6.1 0a3.0 3.0 0 1 0 -6.1 0M546.6 335.2a3.0 3.0 0 1 0 6.1 0a3.0 3.0 0 1 0 -6.1 0M548.4 337.5a3.0 3.0 0 1 0 6.1 0a3.0 3.0 0 1 0 -6.1 0M550.1 339.1a3.0 3.0 0 1 0 6.1 0a3.0 3.0 0 1 0 -6.1 0M551.9 340.8a3.0 3.0 0 1 0 6.1 0a3.0 3.0 0 1 0 -6.1 0M553.6 341.4a3.0 3.0 0 1 0 6.1 0a3.0 3.0 0 1 0 -6.1 0M555.4 343.2a3.0 3.0 0 1 0 6.1 0a3.0 3.0 0 1 0 -6.1 0M557.1 344.0a3.0 3.0 0 1 0 6.1 0a3.0 3.0 0 1 0 -6.1 0M558.9 345.8a3.0 3.0 0 1 0 6.1 0a3.0 3.0 0 1 0 -6.1 0M560.6 346.3a3.0 3.0 0 1 0 6.1 0a3.0 3.0 0 1 0 -6.1 0M562.4 348.0a3.0 3.0 0 1 0 6.1 0a3.0 3.0 0 1 0 -6.1 0M564.1 348.6a3.0 3.0 0 1 0 6.1 0a3.0 3.0 0 1 0 -6.1 0M565.8 351.2a3.0 3.0 0 1 0 6.1 0a3.0 3.0 0 1 0 -6.1 0M567.6 352.0a3.0 3.0 0 1 0 6.1 0a3.0 3.0 0 1 0 -6.1 0M569.3 353.5a3.0 3.0 0 1 0 6.1 0a3.0 3.0 0 1 0 -6.1 0M571.1 352.8a3.0 3.0 0 1 0 6.1 0a3.0 3.0 0 1 0 -6.1 0M572.8 355.3a3.0 3.0 0 1 0 6.1 0a3.0 3.0 0 1 0 -6.1 0M574.6 356.1a3.0 3.0 0 1 0 6.1 0a3.0 3.0 0 1 0 -6.1 0M576.3 358.2a3.0 3.0 0 1 0 6.1 0a3.0 3.0 0 1 0 -6.1 0M578.1 358.8a3.0 3.0 0 1 0 6.1 0a3.0 3.0 0 1 0 -6.1 0M579.8 360.4a3.0 3.0 0 1 0 6.1 0a3.0 3.0 0 1 0 -6.1 0M581.6 360.4a3.0 3.0 0 1 0 6.1 0a3.0 3.0 0 1 0 -6.1 0M583.3 362.1a3.0 3.0 0 1 0 6.1 0a3.0 3.0 0 1 0 -6.1 0M585.1 361.5a3.0 3.0 0 1 0 6.1 0a3.0 3.0 0 1 0 -6.1 0M586.8 364.2a3.0 3.0 0 1 0 6.1 0a3.0 3.0 0 1 0 -6.1 0M588.6 364.0a3.0 3.0 0 1 0 6.1 0a3.0 3.0 0 1 0 -6.1 0M590.3 365.7a3.0 3.0 0 1 0 6.1 0a3.0 3.0 0 1 0 -6.1 0M592.1 366.2a3.0 3.0 0 1 0 6.1 0a3.0 3.0 0 1 0 -6.1 0M593.8 368.0a3.0 3.0 0 1 0 6.1 0a3.0 3.0 0 1 0 -6.1 0M595.5 368.3a3.0 3.0 0 1 0 6.1 0a3.0 3.0 0 1 0 -6.1 0M597.3 369.2a3.0 3.0 0 1 0 6.1 0a3.0 3.0 0 1 0 -6.1 0M599.0 370.5a3.0 3.0 0 1 0 6.1 0a3.0 3.0 0 1 0 -6.1 0M600.8 370.5a3.0 3.0 0 1 0 6.1 0a3.0 3.0 0 1 0 -6.1 0M602.5 372.7a3.0 3.0 0 1 0 6.1 0a3.0 3.0 0 1 0 -6.1 0M604.3 372.7a3.0 3.0 0 1 0 6.1 0a3.0 3.0 0 1 0 -6.1 0M606.0 373.6a3.0 3.0 0 1 0 6.1 0a3.0 3.0 0 1 0 -6.1 0M607.8 374.3a3.0 3.0 0 1 0 6.1 0a3.0 3.0 0 1 0 -6.1 0M609.5 375.7a3.0 3.0 0 1 0 6.1 0a3.0 3.0 0 1 0 -6.1 0M611.3 375.0a3.0 3.0 0 1 0 6.1 0a3.0 3.0 0 1 0 -6.1 0M613.0 376.5a3.0 3.0 0 1 0 6.1 0a3.0 3.0 0 1 0 -6.1 0M614.8 376.9a3.0 3.0 0 1 0 6.1 0a3.0 3.0 0 1 0 -6.1 0M616.5 377.6a3.0 3.0 0 1 0 6.1 0a3.0 3.0 0 1 0 -6.1 0M618.3 377.7a3.0 3.0 0 1 0 6.1 0a3.0 3.0 0 1 0 -6.1 0M620.0 377.8a3.0 3.0 0 1 0 6.1 0a3.0 3.0 0 1 0 -6.1 0M621.8 376.7a3.0 3.0 0 1 0 6.1 0a3.0 3.0 0 1 0 -6.1 0M623.5 380.7a3.0 3.0 0 1 0 6.1 0a3.0 3.0 0 1 0 -6.1 0M625.2 379.0a3.0 3.0 0 1 0 6.1 0a3.0 3.0 0 1 0 -6.1 0M627.0 379.5a3.0 3.0 0 1 0 6.1 0a3.0 3.0 0 1 0 -6.1 0M628.7 379.4a3.0 3.0 0 1 0 6.1 0a3.0 3.0 0 1 0 -6.1 0M630.5 380.5a3.0 3.0 0 1 0 6.1 0a3.0 3.0 0 1 0 -6.1 0M632.2 380.7a3.0 3.0 0 1 0 6.1 0a3.0 3.0 0 1 0 -6.1 0M634.0 380.1a3.0 3.0 0 1 0 6.1 0a3.0 3.0 0 1 0 -6.1 0M635.7 381.5a3.0 3.0 0 1 0 6.1 0a3.0 3.0 0 1 0 -6.1 0M637.5 381.7a3.0 3.0 0 1 0 6.1 0a3.0 3.0 0 1 0 -6.1 0M639.2 382.1a3.0 3.0 0 1 0 6.1 0a3.0 3.0 0 1 0 -6.1 0M641.0 382.1a3.0 3.0 0 1 0 6.1 0a3.0 3.0 0 1 0 -6.1 0M642.7 381.6a3.0 3.0 0 1 0 6.1 0a3.0 3.0 0 1 0 -6.1 0M644.5 383.6a3.0 3.0 0 1 0 6.1 0a3.0 3.0 0 1 0 -6.1 0M646.2 382.6a3.0 3.0 0 1 0 6.1 0a3.0 3.0 0 1 0 -6.1 0M648.0 385.1a3.0 3.0 0 1 0 6.1 0a3.0 3.0 0 1 0 -6.1 0M410.0 325.8a3.0 3.0 0 1 0 6.1 0a3.0 3.0 0 1 0 -6.1 0" stroke="#9b9b00" stroke-width="1.6" fill="none"/>
<path d="M414.3 332.0v7.6M418.7 327.5v7.6M423.0 327.1v7.6M427.4 327.3v7.6M431.8 324.7v7.6M436.1 322.9v7.6M440.5 321.5v7.6M444.9 321.2v7.6M449.2 318.2v7.6M453.6 317.1v7.6M458.0 316.9v7.6M459.7 316.2v7.6M461.5 314.8v7.6M463.2 314.8v7.6M465.0 313.8v7.6M466.7 312.5v7.6M468.5 312.0v7.6M470.2 312.6v7.6M471.9 312.0v7.6M473.7 311.5v7.6M475.4 310.7v7.6M477.2 310.1v7.6M478.9 309.8v7.6M480.7 308.6v7.6M482.4 308.5v7.6M484.2 308.0v7.6M485.9 308.7v7.6M487.7 307.8v7.6M489.4 306.8v7.6M491.2 305.7v7.6M492.9 305.9v7.6M494.7 303.9v7.6M496.4 304.3v7.6M498.1 303.7v7.6M499.9 303.3v7.6M501.6 302.5v7.6M503.4 301.7v7.6M505.1 302.1v7.6M506.9 300.2v7.6M508.6 301.2v7.6M510.4 299.8v7.6M512.1 299.9v7.6M513.9 299.5v7.6M515.6 298.5v7.6M517.4 298.4v7.6M519.1 297.1v7.6M520.9 298.1v7.6M522.6 297.4v7.6M524.4 298.3v7.6M526.1 298.3v7.6M527.8 299.6v7.6M529.6 301.1v7.6M531.3 301.6v7.6M533.1 303.4v7.6M534.8 305.7v7.6M536.6 306.2v7.6M538.3 306.8v7.6M540.1 309.2v7.6M541.8 309.1v7.6M543.6 311.1v7.6M545.3 312.9v7.6M547.1 313.5v7.6M548.8 316.2v7.6M550.6 317.0v7.6M552.3 318.6v7.6M554.1 319.0v7.6M555.8 321.4v7.6M557.5 323.1v7.6M559.3 323.3v7.6M561.0 325.2v7.6M562.8 326.8v7.6M564.5 328.1v7.6M566.3 328.4v7.6M568.0 330.0v7.6M569.8 331.6v7.6M571.5 330.4v7.6M573.3 332.9v7.6M575.0 333.1v7.6M576.8 334.7v7.6M578.5 335.5v7.6M580.3 338.0v7.6M582.0 338.9v7.6M583.7 339.1v7.6M585.5 340.7v7.6M587.2 341.6v7.6M589.0 342.1v7.6M590.7 345.3v7.6M592.5 345.1v7.6M594.2 345.0v7.6M596.0 347.3v7.6M597.7 348.1v7.6M599.5 348.9v7.6M601.2 350.1v7.6M603.0 351.1v7.6M604.7 352.6v7.6M606.5 352.3v7.6M608.2 353.4v7.6M610.0 352.5v7.6M611.7 354.5v7.6M613.4 354.4v7.6M615.2 355.2v7.6M616.9 354.9v7.6M618.7 356.1v7.6M620.4 356.2v7.6M622.2 357.6v7.6M623.9 357.8v7.6M625.7 358.5v7.6M627.4 358.4v7.6M629.2 358.8v7.6M630.9 359.7v7.6M632.7 360.1v7.6M634.4 359.6v7.6M636.2 360.2v7.6M637.9 360.9v7.6M639.6 361.3v7.6M641.4 361.8v7.6M643.1 361.3v7.6M644.9 362.0v7.6M646.6 362.4v7.6M648.4 362.7v7.6M650.1 362.9v7.6M651.9 363.1v7.6" stroke="#d78c00" stroke-width="1.1" fill="none"/>
<path d="M411.2 335.8a3.0 3.0 0 1 0 6.1 0a3.0 3.0 0 1 0 -6.1 0M415.6 331.3a3.0 3.0 0 1 0 6.1 0a3.0 3.0 0 1 0 -6.1 0M420.0 330.9a3.0 3.0 0 1 0 6.1 0a3.0 3.0 0 1 0 -6.1 0M424.3 331.1a3.0 3.0 0 1 0 6.1 0a3.0 3.0 0 1 0 -6.1 0M428.7 328.5a3.0 3.0 0 1 0 6.1 0a3.0 3.0 0 1 0 -6.1 0M433.1 326.7a3.0 3.0 0 1 0 6.1 0a3.0 3.0 0 1 0 -6.1 0M437.5 325.3a3.0 3.0 0 1 0 6.1 0a3.0 3.0 0 1 0 -6.1 0M441.8 325.0a3.0 3.0 0 1 0 6.1 0a3.0 3.0 0 1 0 -6.1 0M446.2 322.0a3.0 3.0 0 1 0 6.1 0a3.0 3.0 0 1 0 -6.1 0M450.6 320.9a3.0 3.0 0 1 0 6.1 0a3.0 3.0 0 1 0 -6.1 0M454.9 320.7a3.0 3.0 0 1 0 6.1 0a3.0 3.0 0 1 0 -6.1 0M456.7 320.0a3.0 3.0 0 1 0 6.1 0a3.0 3.0 0 1 0 -6.1 0M458.4 318.6a3.0 3.0 0 1 0 6.1 0a3.0 3.0 0 1 0 -6.1 0M460.2 318.6a3.0 3.0 0 1 0 6.1 0a3.0 3.0 0 1 0 -6.1 0M461.9 317.6a3.0 3.0 0 1 0 6.1 0a3.0 3.0 0 1 0 -6.1 0M463.7 316.3a3.0 3.0 0 1 0 6.1 0a3.0 3.0 0 1 0 -6.1 0M465.4 315.8a3.0 3.0 0 1 0 6.1 0a3.0 3.0 0 1 0 -6.1 0M467.1 316.4a3.0 3.0 0 1 0 6.1 0a3.0 3.0 0 1 0 -6.1 0M468.9 315.8a3.0 3.0 0 1 0 6.1 0a3.0 3.0 0 1 0 -6.1 0M470.6 315.3a3.0 3.0 0 1 0 6.1 0a3.0 3.0 0 1 0 -6.1 0M472.4 314.5a3.0 3.0 0 1 0 6.1 0a3.0 3.0 0 1 0 -6.1 0M474.1 313.9a3.0 3.0 0 1 0 6.1 0a3.0 3.0 0 1 0 -6.1 0M475.9 313.6a3.0 3.0 0 1 0 6.1 0a3.0 3.0 0 1 0 -6.1 0M477.6 312.4a3.0 3.0 0 1 0 6.1 0a3.0 3.0 0 1 0 -6.1 0M479.4 312.3a3.0 3.0 0 1 0 6.1 0a3.0 3.0 0 1 0 -6.1 0M481.1 311.8a3.0 3.0 0 1 0 6.1 0a3.0 3.0 0 1 0 -6.1 0M482.9 312.5a3.0 3.0 0 1 0 6.1 0a3.0 3.0 0 1 0 -6.1 0M484.6 311.6a3.0 3.0 0 1 0 6.1 0a3.0 3.0 0 1 0 -6.1 0M486.4 310.6a3.0 3.0 0 1 0 6.1 0a3.0 3.0 0 1 0 -6.1 0M488.1 309.5a3.0 3.0 0 1 0 6.1 0a3.0 3.0 0 1 0 -6.1 0M489.9 309.7a3.0 3.0 0 1 0 6.1 0a3.0 3.0 0 1 0 -6.1 0M491.6 307.7a3.0 3.0 0 1 0 6.1 0a3.0 3.0 0 1 0 -6.1 0M493.4 308.1a3.0 3.0 0 1 0 6.1 0a3.0 3.0 0 1 0 -6.1 0M495.1 307.5a3.0 3.0 0 1 0 6.1 0a3.0 3.0 0 1 0 -6.1 0M496.8 307.1a3.0 3.0 0 1 0 6.1 0a3.0 3.0 0 1 0 -6.1 0M498.6 306.3a3.0 3.0 0 1 0 6.1 0a3.0 3.0 0 1 0 -6.1 0M500.3 305.5a3.0 3.0 0 1 0 6.1 0a3.0 3.0 0 1 0 -6.1 0M502.1 305.9a3.0 3.0 0 1 0 6.1 0a3.0 3.0 0 1 0 -6.1 0M503.8 304.0a3.0 3.0 0 1 0 6.1 0a3.0 3.0 0 1 0 -6.1 0M505.6 305.0a3.0 3.0 0 1 0 6.1 0a3.0 3.0 0 1 0 -6.1 0M507.3 303.6a3.0 3.0 0 1 0 6.1 0a3.0 3.0 0 1 0 -6.1 0M509.1 303.7a3.0 3.0 0 1 0 6.1 0a3.0 3.0 0 1 0 -6.1 0M510.8 303.3a3.0 3.0 0 1 0 6.1 0a3.0 3.0 0 1 0 -6.1 0M512.6 302.3a3.0 3.0 0 1 0 6.1 0a3.0 3.0 0 1 0 -6.1 0M514.3 302.2a3.0 3.0 0 1 0 6.1 0a3.0 3.0 0 1 0 -6.1 0M516.1 300.9a3.0 3.0 0 1 0 6.1 0a3.0 3.0 0 1 0 -6.1 0M517.8 301.9a3.0 3.0 0 1 0 6.1 0a3.0 3.0 0 1 0 -6.1 0M519.6 301.2a3.0 3.0 0 1 0 6.1 0a3.0 3.0 0 1 0 -6.1 0M521.3 302.1a3.0 3.0 0 1 0 6.1 0a3.0 3.0 0 1 0 -6.1 0M523.0 302.1a3.0 3.0 0 1 0 6.1 0a3.0 3.0 0 1 0 -6.1 0M524.8 303.4a3.0 3.0 0 1 0 6.1 0a3.0 3.0 0 1 0 -6.1 0M526.5 304.9a3.0 3.0 0 1 0 6.1 0a3.0 3.0 0 1 0 -6.1 0M528.3 305.4a3.0 3.0 0 1 0 6.1 0a3.0 3.0 0 1 0 -6.1 0M530.0 307.2a3.0 3.0 0 1 0 6.1 0a3.0 3.0 0 1 0 -6.1 0M531.8 309.5a3.0 3.0 0 1 0 6.1 0a3.0 3.0 0 1 0 -6.1 0M533.5 310.0a3.0 3.0 0 1 0 6.1 0a3.0 3.0 0 1 0 -6.1 0M535.3 310.6a3.0 3.0 0 1 0 6.1 0a3.0 3.0 0 1 0 -6.1 0M537.0 313.0a3.0 3.0 0 1 0 6.1 0a3.0 3.0 0 1 0 -6.1 0M538.8 312.9a3.0 3.0 0 1 0 6.1 0a3.0 3.0 0 1 0 -6.1 0M540.5 314.9a3.0 3.0 0 1 0 6.1 0a3.0 3.0 0 1 0 -6.1 0M542.3 316.7a3.0 3.0 0 1 0 6.1 0a3.0 3.0 0 1 0 -6.1 0M544.0 317.3a3.0 3.0 0 1 0 6.1 0a3.0 3.0 0 1 0 -6.1 0M545.8 320.0a3.0 3.0 0 1 0 6.1 0a3.0 3.0 0 1 0 -6.1 0M547.5 320.8a3.0 3.0 0 1 0 6.1 0a3.0 3.0 0 1 0 -6.1 0M549.3 322.4a3.0 3.0 0 1 0 6.1 0a3.0 3.0 0 1 0 -6.1 0M551.0 322.8a3.0 3.0 0 1 0 6.1 0a3.0 3.0 0 1 0 -6.1 0M552.7 325.2a3.0 3.0 0 1 0 6.1 0a3.0 3.0 0 1 0 -6.1 0M554.5 326.9a3.0 3.0 0 1 0 6.1 0a3.0 3.0 0 1 0 -6.1 0M556.2 327.1a3.0 3.0 0 1 0 6.1 0a3.0 3.0 0 1 0 -6.1 0M558.0 329.0a3.0 3.0 0 1 0 6.1 0a3.0 3.0 0 1 0 -6.1 0M559.7 330.6a3.0 3.0 0 1 0 6.1 0a3.0 3.0 0 1 0 -6.1 0M561.5 331.9a3.0 3.0 0 1 0 6.1 0a3.0 3.0 0 1 0 -6.1 0M563.2 332.2a3.0 3.0 0 1 0 6.1 0a3.0 3.0 0 1 0 -6.1 0M565.0 333.8a3.0 3.0 0 1 0 6.1 0a3.0 3.0 0 1 0 -6.1 0M566.7 335.4a3.0 3.0 0 1 0 6.1 0a3.0 3.0 0 1 0 -6.1 0M568.5 334.2a3.0 3.0 0 1 0 6.1 0a3.0 3.0 0 1 0 -6.1 0M570.2 336.7a3.0 3.0 0 1 0 6.1 0a3.0 3.0 0 1 0 -6.1 0M572.0 336.9a3.0 3.0 0 1 0 6.1 0a3.0 3.0 0 1 0 -6.1 0M573.7 338.5a3.0 3.0 0 1 0 6.1 0a3.0 3.0 0 1 0 -6.1 0M575.5 339.3a3.0 3.0 0 1 0 6.1 0a3.0 3.0 0 1 0 -6.1 0M577.2 341.8a3.0 3.0 0 1 0 6.1 0a3.0 3.0 0 1 0 -6.1 0M579.0 342.7a3.0 3.0 0 1 0 6.1 0a3.0 3.0 0 1 0 -6.1 0M580.7 342.9a3.0 3.0 0 1 0 6.1 0a3.0 3.0 0 1 0 -6.1 0M582.4 344.5a3.0 3.0 0 1 0 6.1 0a3.0 3.0 0 1 0 -6.1 0M584.2 345.4a3.0 3.0 0 1 0 6.1 0a3.0 3.0 0 1 0 -6.1 0M585.9 345.9a3.0 3.0 0 1 0 6.1 0a3.0 3.0 0 1 0 -6.1 0M587.7 349.1a3.0 3.0 0 1 0 6.1 0a3.0 3.0 0 1 0 -6.1 0M589.4 348.9a3.0 3.0 0 1 0 6.1 0a3.0 3.0 0 1 0 -6.1 0M591.2 348.8a3.0 3.0 0 1 0 6.1 0a3.0 3.0 0 1 0 -6.1 0M592.9 351.1a3.0 3.0 0 1 0 6.1 0a3.0 3.0 0 1 0 -6.1 0M594.7 351.9a3.0 3.0 0 1 0 6.1 0a3.0 3.0 0 1 0 -6.1 0M596.4 352.7a3.0 3.0 0 1 0 6.1 0a3.0 3.0 0 1 0 -6.1 0M598.2 353.9a3.0 3.0 0 1 0 6.1 0a3.0 3.0 0 1 0 -6.1 0M599.9 354.9a3.0 3.0 0 1 0 6.1 0a3.0 3.0 0 1 0 -6.1 0M601.7 356.4a3.0 3.0 0 1 0 6.1 0a3.0 3.0 0 1 0 -6.1 0M603.4 356.1a3.0 3.0 0 1 0 6.1 0a3.0 3.0 0 1 0 -6.1 0M605.2 357.2a3.0 3.0 0 1 0 6.1 0a3.0 3.0 0 1 0 -6.1 0M606.9 356.3a3.0 3.0 0 1 0 6.1 0a3.0 3.0 0 1 0 -6.1 0M608.6 358.3a3.0 3.0 0 1 0 6.1 0a3.0 3.0 0 1 0 -6.1 0M610.4 358.2a3.0 3.0 0 1 0 6.1 0a3.0 3.0 0 1 0 -6.1 0M612.1 359.0a3.0 3.0 0 1 0 6.1 0a3.0 3.0 0 1 0 -6.1 0M613.9 358.7a3.0 3.0 0 1 0 6.1 0a3.0 3.0 0 1 0 -6.1 0M615.6 359.9a3.0 3.0 0 1 0 6.1 0a3.0 3.0 0 1 0 -6.1 0M617.4 360.0a3.0 3.0 0 1 0 6.1 0a3.0 3.0 0 1 0 -6.1 0M619.1 361.4a3.0 3.0 0 1 0 6.1 0a3.0 3.0 0 1 0 -6.1 0M620.9 361.6a3.0 3.0 0 1 0 6.1 0a3.0 3.0 0 1 0 -6.1 0M622.6 362.3a3.0 3.0 0 1 0 6.1 0a3.0 3.0 0 1 0 -6.1 0M624.4 362.2a3.0 3.0 0 1 0 6.1 0a3.0 3.0 0 1 0 -6.1 0M626.1 362.6a3.0 3.0 0 1 0 6.1 0a3.0 3.0 0 1 0 -6.1 0M627.9 363.5a3.0 3.0 0 1 0 6.1 0a3.0 3.0 0 1 0 -6.1 0M629.6 363.9a3.0 3.0 0 1 0 6.1 0a3.0 3.0 0 1 0 -6.1 0M631.4 363.4a3.0 3.0 0 1 0 6.1 0a3.0 3.0 0 1 0 -6.1 0M633.1 364.0a3.0 3.0 0 1 0 6.1 0a3.0 3.0 0 1 0 -6.1 0M634.9 364.7a3.0 3.0 0 1 0 6.1 0a3.0 3.0 0 1 0 -6.1 0M636.6 365.1a3.0 3.0 0 1 0 6.1 0a3.0 3.0 0 1 0 -6.1 0M638.3 365.6a3.0 3.0 0 1 0 6.1 0a3.0 3.0 0 1 0 -6.1 0M640.1 365.1a3.0 3.0 0 1 0 6.1 0a3.0 3.0 0 1 0 -6.1 0M641.8 365.8a3.0 3.0 0 1 0 6.1 0a3.0 3.0 0 1 0 -6.1 0M643.6 366.2a3.0 3.0 0 1 0 6.1 0a3.0 3.0 0 1 0 -6.1 0M645.3 366.5a3.0 3.0 0 1 0 6.1 0a3.0 3.0 0 1 0 -6.1 0M647.1 366.7a3.0 3.0 0 1 0 6.1 0a3.0 3.0 0 1 0 -6.1 0M648.8 366.9a3.0 3.0 0 1 0 6.1 0a3.0 3.0 0 1 0 -6.1 0" stroke="#d78c00" stroke-width="1.6" fill="none"/>
<path d="M415.2 317.8v7.6M419.5 319.2v7.6M423.9 316.5v7.6M428.3 314.5v7.6M432.6 312.9v7.6M437.0 312.6v7.6M441.4 311.1v7.6M445.7 309.9v7.6M450.1 307.5v7.6M454.5 306.5v7.6M458.8 306.1v7.6M460.6 305.3v7.6M462.3 304.5v7.6M464.1 304.8v7.6M465.8 305.4v7.6M467.6 304.4v7.6M469.3 304.3v7.6M471.1 304.6v7.6M472.8 304.6v7.6M474.6 302.8v7.6M476.3 303.2v7.6M478.1 301.8v7.6M479.8 301.9v7.6M481.6 300.2v7.6M483.3 299.4v7.6M485.0 299.0v7.6M486.8 299.3v7.6M488.5 299.1v7.6M490.3 295.8v7.6M492.0 296.5v7.6M493.8 294.5v7.6M495.5 295.3v7.6M497.3 295.3v7.6M499.0 293.8v7.6M500.8 294.2v7.6M502.5 293.0v7.6M504.3 291.6v7.6M506.0 291.7v7.6M507.8 290.0v7.6M509.5 291.4v7.6M511.3 291.0v7.6M513.0 291.3v7.6M514.7 290.8v7.6M516.5 289.6v7.6M518.2 289.9v7.6M520.0 289.0v7.6M521.7 288.9v7.6M523.5 289.9v7.6M525.2 288.1v7.6M527.0 291.4v7.6M528.7 290.5v7.6M530.5 290.5v7.6M532.2 291.6v7.6M534.0 293.7v7.6M535.7 295.3v7.6M537.5 294.3v7.6M539.2 295.6v7.6M540.9 298.1v7.6M542.7 299.4v7.6M544.4 300.5v7.6M546.2 302.5v7.6M547.9 303.0v7.6M549.7 303.5v7.6M551.4 304.9v7.6M553.2 307.3v7.6M554.9 307.4v7.6M556.7 309.6v7.6M558.4 311.4v7.6M560.2 311.3v7.6M561.9 312.3v7.6M563.7 313.0v7.6M565.4 315.7v7.6M567.2 315.6v7.6M568.9 317.0v7.6M570.6 318.2v7.6M572.4 319.7v7.6M574.1 320.6v7.6M575.9 321.2v7.6M577.6 322.3v7.6M579.4 324.4v7.6M581.1 325.0v7.6M582.9 325.7v7.6M584.6 326.1v7.6M586.4 327.3v7.6M588.1 328.6v7.6M589.9 329.6v7.6M591.6 329.3v7.6M593.4 331.5v7.6M595.1 332.6v7.6M596.8 333.3v7.6M598.6 333.7v7.6M600.3 334.8v7.6M602.1 336.1v7.6M603.8 336.8v7.6M605.6 336.7v7.6M607.3 337.3v7.6M609.1 337.9v7.6M610.8 339.2v7.6M612.6 339.1v7.6M614.3 338.9v7.6M616.1 340.7v7.6M617.8 339.6v7.6M619.6 341.1v7.6M621.3 341.1v7.6M623.1 342.9v7.6M624.8 341.6v7.6M626.5 342.8v7.6M628.3 343.0v7.6M630.0 343.1v7.6M631.8 342.9v7.6M633.5 344.4v7.6M635.3 344.2v7.6M637.0 344.8v7.6M638.8 346.3v7.6M640.5 346.4v7.6M642.3 346.8v7.6M644.0 346.1v7.6M645.8 346.0v7.6M647.5 346.0v7.6M649.3 345.8v7.6M651.0 346.4v7.6" stroke="#d20000" stroke-width="1.1" fill="none"/>
<path d="M412.1 321.6a3.0 3.0 0 1 0 6.1 0a3.0 3.0 0 1 0 -6.1 0M416.5 323.0a3.0 3.0 0 1 0 6.1 0a3.0 3.0 0 1 0 -6.1 0M420.9 320.3a3.0 3.0 0 1 0 6.1 0a3.0 3.0 0 1 0 -6.1 0M425.2 318.3a3.0 3.0 0 1 0 6.1 0a3.0 3.0 0 1 0 -6.1 0M429.6 316.7a3.0 3.0 0 1 0 6.1 0a3.0 3.0 0 1 0 -6.1 0M434.0 316.4a3.0 3.0 0 1 0 6.1 0a3.0 3.0 0 1 0 -6.1 0M438.3 314.9a3.0 3.0 0 1 0 6.1 0a3.0 3.0 0 1 0 -6.1 0M442.7 313.7a3.0 3.0 0 1 0 6.1 0a3.0 3.0 0 1 0 -6.1 0M447.1 311.3a3.0 3.0 0 1 0 6.1 0a3.0 3.0 0 1 0 -6.1 0M451.4 310.3a3.0 3.0 0 1 0 6.1 0a3.0 3.0 0 1 0 -6.1 0M455.8 309.9a3.0 3.0 0 1 0 6.1 0a3.0 3.0 0 1 0 -6.1 0M457.5 309.1a3.0 3.0 0 1 0 6.1 0a3.0 3.0 0 1 0 -6.1 0M459.3 308.3a3.0 3.0 0 1 0 6.1 0a3.0 3.0 0 1 0 -6.1 0M461.0 308.6a3.0 3.0 0 1 0 6.1 0a3.0 3.0 0 1 0 -6.1 0M462.8 309.2a3.0 3.0 0 1 0 6.1 0a3.0 3.0 0 1 0 -6.1 0M464.5 308.2a3.0 3.0 0 1 0 6.1 0a3.0 3.0 0 1 0 -6.1 0M466.3 308.1a3.0 3.0 0 1 0 6.1 0a3.0 3.0 0 1 0 -6.1 0M468.0 308.4a3.0 3.0 0 1 0 6.1 0a3.0 3.0 0 1 0 -6.1 0M469.8 308.4a3.0 3.0 0 1 0 6.1 0a3.0 3.0 0 1 0 -6.1 0M471.5 306.6a3.0 3.0 0 1 0 6.1 0a3.0 3.0 0 1 0 -6.1 0M473.3 307.0a3.0 3.0 0 1 0 6.1 0a3.0 3.0 0 1 0 -6.1 0M475.0 305.6a3.0 3.0 0 1 0 6.1 0a3.0 3.0 0 1 0 -6.1 0M476.8 305.7a3.0 3.0 0 1 0 6.1 0a3.0 3.0 0 1 0 -6.1 0M478.5 304.0a3.0 3.0 0 1 0 6.1 0a3.0 3.0 0 1 0 -6.1 0M480.3 303.2a3.0 3.0 0 1 0 6.1 0a3.0 3.0 0 1 0 -6.1 0M482.0 302.8a3.0 3.0 0 1 0 6.1 0a3.0 3.0 0 1 0 -6.1 0M483.7 303.1a3.0 3.0 0 1 0 6.1 0a3.0 3.0 0 1 0 -6.1 0M485.5 302.9a3.0 3.0 0 1 0 6.1 0a3.0 3.0 0 1 0 -6.1 0M487.2 299.6a3.0 3.0 0 1 0 6.1 0a3.0 3.0 0 1 0 -6.1 0M489.0 300.3a3.0 3.0 0 1 0 6.1 0a3.0 3.0 0 1 0 -6.1 0M490.7 298.3a3.0 3.0 0 1 0 6.1 0a3.0 3.0 0 1 0 -6.1 0M492.5 299.1a3.0 3.0 0 1 0 6.1 0a3.0 3.0 0 1 0 -6.1 0M494.2 299.1a3.0 3.0 0 1 0 6.1 0a3.0 3.0 0 1 0 -6.1 0M496.0 297.6a3.0 3.0 0 1 0 6.1 0a3.0 3.0 0 1 0 -6.1 0M497.7 298.0a3.0 3.0 0 1 0 6.1 0a3.0 3.0 0 1 0 -6.1 0M499.5 296.8a3.0 3.0 0 1 0 6.1 0a3.0 3.0 0 1 0 -6.1 0M501.2 295.4a3.0 3.0 0 1 0 6.1 0a3.0 3.0 0 1 0 -6.1 0M503.0 295.5a3.0 3.0 0 1 0 6.1 0a3.0 3.0 0 1 0 -6.1 0M504.7 293.8a3.0 3.0 0 1 0 6.1 0a3.0 3.0 0 1 0 -6.1 0M506.5 295.2a3.0 3.0 0 1 0 6.1 0a3.0 3.0 0 1 0 -6.1 0M508.2 294.8a3.0 3.0 0 1 0 6.1 0a3.0 3.0 0 1 0 -6.1 0M509.9 295.1a3.0 3.0 0 1 0 6.1 0a3.0 3.0 0 1 0 -6.1 0M511.7 294.6a3.0 3.0 0 1 0 6.1 0a3.0 3.0 0 1 0 -6.1 0M513.4 293.4a3.0 3.0 0 1 0 6.1 0a3.0 3.0 0 1 0 -6.1 0M515.2 293.7a3.0 3.0 0 1 0 6.1 0a3.0 3.0 0 1 0 -6.1 0M516.9 292.8a3.0 3.0 0 1 0 6.1 0a3.0 3.0 0 1 0 -6.1 0M518.7 292.7a3.0 3.0 0 1 0 6.1 0a3.0 3.0 0 1 0 -6.1 0M520.4 293.7a3.0 3.0 0 1 0 6.1 0a3.0 3.0 0 1 0 -6.1 0M522.2 291.9a3.0 3.0 0 1 0 6.1 0a3.0 3.0 0 1 0 -6.1 0M523.9 295.2a3.0 3.0 0 1 0 6.1 0a3.0 3.0 0 1 0 -6.1 0M525.7 294.3a3.0 3.0 0 1 0 6.1 0a3.0 3.0 0 1 0 -6.1 0M527.4 294.3a3.0 3.0 0 1 0 6.1 0a3.0 3.0 0 1 0 -6.1 0M529.2 295.4a3.0 3.0 0 1 0 6.1 0a3.0 3.0 0 1 0 -6.1 0M530.9 297.5a3.0 3.0 0 1 0 6.1 0a3.0 3.0 0 1 0 -6.1 0M532.7 299.1a3.0 3.0 0 1 0 6.1 0a3.0 3.0 0 1 0 -6.1 0M534.4 298.1a3.0 3.0 0 1 0 6.1 0a3.0 3.0 0 1 0 -6.1 0M536.2 299.4a3.0 3.0 0 1 0 6.1 0a3.0 3.0 0 1 0 -6.1 0M537.9 301.9a3.0 3.0 0 1 0 6.1 0a3.0 3.0 0 1 0 -6.1 0M539.6 303.2a3.0 3.0 0 1 0 6.1 0a3.0 3.0 0 1 0 -6.1 0M541.4 304.3a3.0 3.0 0 1 0 6.1 0a3.0 3.0 0 1 0 -6.1 0M543.1 306.3a3.0 3.0 0 1 0 6.1 0a3.0 3.0 0 1 0 -6.1 0M544.9 306.8a3.0 3.0 0 1 0 6.1 0a3.0 3.0 0 1 0 -6.1 0M546.6 307.3a3.0 3.0 0 1 0 6.1 0a3.0 3.0 0 1 0 -6.1 0M548.4 308.7a3.0 3.0 0 1 0 6.1 0a3.0 3.0 0 1 0 -6.1 0M550.1 311.1a3.0 3.0 0 1 0 6.1 0a3.0 3.0 0 1 0 -6.1 0M551.9 311.2a3.0 3.0 0 1 0 6.1 0a3.0 3.0 0 1 0 -6.1 0M553.6 313.4a3.0 3.0 0 1 0 6.1 0a3.0 3.0 0 1 0 -6.1 0M555.4 315.2a3.0 3.0 0 1 0 6.1 0a3.0 3.0 0 1 0 -6.1 0M557.1 315.1a3.0 3.0 0 1 0 6.1 0a3.0 3.0 0 1 0 -6.1 0M558.9 316.1a3.0 3.0 0 1 0 6.1 0a3.0 3.0 0 1 0 -6.1 0M560.6 316.8a3.0 3.0 0 1 0 6.1 0a3.0 3.0 0 1 0 -6.1 0M562.4 319.5a3.0 3.0 0 1 0 6.1 0a3.0 3.0 0 1 0 -6.1 0M564.1 319.4a3.0 3.0 0 1 0 6.1 0a3.0 3.0 0 1 0 -6.1 0M565.8 320.8a3.0 3.0 0 1 0 6.1 0a3.0 3.0 0 1 0 -6.1 0M567.6 322.0a3.0 3.0 0 1 0 6.1 0a3.0 3.0 0 1 0 -6.1 0M569.3 323.5a3.0 3.0 0 1 0 6.1 0a3.0 3.0 0 1 0 -6.1 0M571.1 324.4a3.0 3.0 0 1 0 6.1 0a3.0 3.0 0 1 0 -6.1 0M572.8 325.0a3.0 3.0 0 1 0 6.1 0a3.0 3.0 0 1 0 -6.1 0M574.6 326.1a3.0 3.0 0 1 0 6.1 0a3.0 3.0 0 1 0 -6.1 0M576.3 328.2a3.0 3.0 0 1 0 6.1 0a3.0 3.0 0 1 0 -6.1 0M578.1 328.8a3.0 3.0 0 1 0 6.1 0a3.0 3.0 0 1 0 -6.1 0M579.8 329.5a3.0 3.0 0 1 0 6.1 0a3.0 3.0 0 1 0 -6.1 0M581.6 329.9a3.0 3.0 0 1 0 6.1 0a3.0 3.0 0 1 0 -6.1 0M583.3 331.1a3.0 3.0 0 1 0 6.1 0a3.0 3.0 0 1 0 -6.1 0M585.1 332.4a3.0 3.0 0 1 0 6.1 0a3.0 3.0 0 1 0 -6.1 0M586.8 333.4a3.0 3.0 0 1 0 6.1 0a3.0 3.0 0 1 0 -6.1 0M588.6 333.1a3.0 3.0 0 1 0 6.1 0a3.0 3.0 0 1 0 -6.1 0M590.3 335.3a3.0 3.0 0 1 0 6.1 0a3.0 3.0 0 1 0 -6.1 0M592.1 336.4a3.0 3.0 0 1 0 6.1 0a3.0 3.0 0 1 0 -6.1 0M593.8 337.1a3.0 3.0 0 1 0 6.1 0a3.0 3.0 0 1 0 -6.1 0M595.5 337.5a3.0 3.0 0 1 0 6.1 0a3.0 3.0 0 1 0 -6.1 0M597.3 338.6a3.0 3.0 0 1 0 6.1 0a3.0 3.0 0 1 0 -6.1 0M599.0 339.9a3.0 3.0 0 1 0 6.1 0a3.0 3.0 0 1 0 -6.1 0M600.8 340.6a3.0 3.0 0 1 0 6.1 0a3.0 3.0 0 1 0 -6.1 0M602.5 340.5a3.0 3.0 0 1 0 6.1 0a3.0 3.0 0 1 0 -6.1 0M604.3 341.1a3.0 3.0 0 1 0 6.1 0a3.0 3.0 0 1 0 -6.1 0M606.0 341.7a3.0 3.0 0 1 0 6.1 0a3.0 3.0 0 1 0 -6.1 0M607.8 343.0a3.0 3.0 0 1 0 6.1 0a3.0 3.0 0 1 0 -6.1 0M609.5 342.9a3.0 3.0 0 1 0 6.1 0a3.0 3.0 0 1 0 -6.1 0M611.3 342.7a3.0 3.0 0 1 0 6.1 0a3.0 3.0 0 1 0 -6.1 0M613.0 344.5a3.0 3.0 0 1 0 6.1 0a3.0 3.0 0 1 0 -6.1 0M614.8 343.4a3.0 3.0 0 1 0 6.1 0a3.0 3.0 0 1 0 -6.1 0M616.5 344.9a3.0 3.0 0 1 0 6.1 0a3.0 3.0 0 1 0 -6.1 0M618.3 344.9a3.0 3.0 0 1 0 6.1 0a3.0 3.0 0 1 0 -6.1 0M620.0 346.7a3.0 3.0 0 1 0 6.1 0a3.0 3.0 0 1 0 -6.1 0M621.8 345.4a3.0 3.0 0 1 0 6.1 0a3.0 3.0 0 1 0 -6.1 0M623.5 346.6a3.0 3.0 0 1 0 6.1 0a3.0 3.0 0 1 0 -6.1 0M625.2 346.8a3.0 3.0 0 1 0 6.1 0a3.0 3.0 0 1 0 -6.1 0M627.0 346.9a3.0 3.0 0 1 0 6.1 0a3.0 3.0 0 1 0 -6.1 0M628.7 346.7a3.0 3.0 0 1 0 6.1 0a3.0 3.0 0 1 0 -6.1 0M630.5 348.2a3.0 3.0 0 1 0 6.1 0a3.0 3.0 0 1 0 -6.1 0M632.2 348.0a3.0 3.0 0 1 0 6.1 0a3.0 3.0 0 1 0 -6.1 0M634.0 348.6a3.0 3.0 0 1 0 6.1 0a3.0 3.0 0 1 0 -6.1 0M635.7 350.1a3.0 3.0 0 1 0 6.1 0a3.0 3.0 0 1 0 -6.1 0M637.5 350.2a3.0 3.0 0 1 0 6.1 0a3.0 3.0 0 1 0 -6.1 0M639.2 350.6a3.0 3.0 0 1 0 6.1 0a3.0 3.0 0 1 0 -6.1 0M641.0 349.9a3.0 3.0 0 1 0 6.1 0a3.0 3.0 0 1 0 -6.1 0M642.7 349.8a3.0 3.0 0 1 0 6.1 0a3.0 3.0 0 1 0 -6.1 0M644.5 349.8a3.0 3.0 0 1 0 6.1 0a3.0 3.0 0 1 0 -6.1 0M646.2 349.6a3.0 3.0 0 1 0 6.1 0a3.0 3.0 0 1 0 -6.1 0M648.0 350.2a3.0 3.0 0 1 0 6.1 0a3.0 3.0 0 1 0 -6.1 0" stroke="#d20000" stroke-width="1.6" fill="none"/>
<path d="M557.2 396.3a3.0 3.0 0 1 0 6.1 0a3.0 3.0 0 1 0 -6.1 0M560.2 392.5v7.6" stroke="#0a40f5" stroke-width="1.5" fill="none"/>
<path d="M559.2 397.2a3.0 3.0 0 1 0 6.1 0a3.0 3.0 0 1 0 -6.1 0M562.3 393.4v7.6" stroke="#0a40f5" stroke-width="1.5" fill="none"/>
<path d="M560.8 398.0a3.0 3.0 0 1 0 6.1 0a3.0 3.0 0 1 0 -6.1 0M563.8 394.2v7.6" stroke="#0a40f5" stroke-width="1.5" fill="none"/>
<path d="M562.8 398.7a3.0 3.0 0 1 0 6.1 0a3.0 3.0 0 1 0 -6.1 0M565.9 394.9v7.6" stroke="#0a40f5" stroke-width="1.5" fill="none"/>
<path d="M564.4 399.2a3.0 3.0 0 1 0 6.1 0a3.0 3.0 0 1 0 -6.1 0M567.4 395.4v7.6" stroke="#0a40f5" stroke-width="1.5" fill="none"/>
<path d="M568.0 399.8a3.0 3.0 0 1 0 6.1 0a3.0 3.0 0 1 0 -6.1 0M571.0 396.0v7.6" stroke="#0a40f5" stroke-width="1.5" fill="none"/>
<path d="M571.6 403.3a3.0 3.0 0 1 0 6.1 0a3.0 3.0 0 1 0 -6.1 0M574.6 399.5v7.6" stroke="#0a40f5" stroke-width="1.5" fill="none"/>
<path d="M570.0 402.4a3.0 3.0 0 1 0 6.1 0a3.0 3.0 0 1 0 -6.1 0M573.1 393.2V411.6M570.6 393.2h5M570.6 411.6h5" stroke="#0a40f5" stroke-width="1.5" fill="none"/>
<path d="M407.7 301.7a3.0 3.0 0 1 0 6.1 0a3.0 3.0 0 1 0 -6.1 0M410.7 296.2V307.2M408.2 296.2h5M408.2 307.2h5" stroke="#00aaff" stroke-width="1.5" fill="none"/>
<path d="M410.2 304.9a3.0 3.0 0 1 0 6.1 0a3.0 3.0 0 1 0 -6.1 0M413.3 301.1v7.6" stroke="#d78c00" stroke-width="1.5" fill="none"/>
<path d="M407.0 336.8a3.0 3.0 0 1 0 6.1 0a3.0 3.0 0 1 0 -6.1 0M410.1 329.8V343.8M407.6 329.8h5M407.6 343.8h5" stroke="#0a40f5" stroke-width="1.5" fill="none"/>
<path d="M608 382.6h6" stroke="#00aaff" stroke-width="1.4"/>
<rect x="395.8" y="272.9" width="256.9" height="183.1" fill="none" stroke="#000" stroke-width="1.60"/>
<path d="M447.18 456.00v-8.50M447.18 272.90v8.50M498.56 456.00v-8.50M498.56 272.90v8.50M549.94 456.00v-8.50M549.94 272.90v8.50M601.32 456.00v-8.50M601.32 272.90v8.50M406.08 456.00v-4.70M406.08 272.90v4.70M416.35 456.00v-4.70M416.35 272.90v4.70M426.63 456.00v-4.70M426.63 272.90v4.70M436.90 456.00v-4.70M436.90 272.90v4.70M457.46 456.00v-4.70M457.46 272.90v4.70M467.73 456.00v-4.70M467.73 272.90v4.70M478.01 456.00v-4.70M478.01 272.90v4.70M488.28 456.00v-4.70M488.28 272.90v4.70M508.84 456.00v-4.70M508.84 272.90v4.70M519.11 456.00v-4.70M519.11 272.90v4.70M529.39 456.00v-4.70M529.39 272.90v4.70M539.66 456.00v-4.70M539.66 272.90v4.70M560.22 456.00v-4.70M560.22 272.90v4.70M570.49 456.00v-4.70M570.49 272.90v4.70M580.77 456.00v-4.70M580.77 272.90v4.70M591.04 456.00v-4.70M591.04 272.90v4.70M611.60 456.00v-4.70M611.60 272.90v4.70M621.87 456.00v-4.70M621.87 272.90v4.70M632.15 456.00v-4.70M632.15 272.90v4.70M642.42 456.00v-4.70M642.42 272.90v4.70M395.80 410.23h8.50M652.70 410.23h-8.50M395.80 364.45h8.50M652.70 364.45h-8.50M395.80 318.68h8.50M652.70 318.68h-8.50M395.80 446.85h4.70M652.70 446.85h-4.70M395.80 437.69h4.70M652.70 437.69h-4.70M395.80 428.53h4.70M652.70 428.53h-4.70M395.80 419.38h4.70M652.70 419.38h-4.70M395.80 401.07h4.70M652.70 401.07h-4.70M395.80 391.91h4.70M652.70 391.91h-4.70M395.80 382.76h4.70M652.70 382.76h-4.70M395.80 373.61h4.70M652.70 373.61h-4.70M395.80 355.30h4.70M652.70 355.30h-4.70M395.80 346.14h4.70M652.70 346.14h-4.70M395.80 336.99h4.70M652.70 336.99h-4.70M395.80 327.83h4.70M652.70 327.83h-4.70M395.80 309.52h4.70M652.70 309.52h-4.70M395.80 300.37h4.70M652.70 300.37h-4.70M395.80 291.21h4.70M652.70 291.21h-4.70M395.80 282.06h4.70M652.70 282.06h-4.70" stroke="#000" stroke-width="1.50" fill="none"/>
<text x="390.60" y="461.60" font-size="20.90" text-anchor="end" fill="#000">0</text>
<text x="390.60" y="415.83" font-size="20.90" text-anchor="end" fill="#000">0.5</text>
<text x="390.60" y="370.05" font-size="20.90" text-anchor="end" fill="#000">1.0</text>
<text x="390.60" y="324.28" font-size="20.90" text-anchor="end" fill="#000">1.5</text>
<text x="390.60" y="278.50" font-size="20.90" text-anchor="end" fill="#000">2.0</text>
<text x="395.80" y="478.20" font-size="20.90" text-anchor="middle" fill="#000">0</text>
<text x="447.18" y="478.20" font-size="20.90" text-anchor="middle" fill="#000">1</text>
<text x="498.56" y="478.20" font-size="20.90" text-anchor="middle" fill="#000">2</text>
<text x="549.94" y="478.20" font-size="20.90" text-anchor="middle" fill="#000">3</text>
<text x="601.32" y="478.20" font-size="20.90" text-anchor="middle" fill="#000">4</text>
<text x="652.70" y="478.20" font-size="20.90" text-anchor="middle" fill="#000">5</text>
<text x="528.30" y="504.90" font-size="23.30" text-anchor="middle" fill="#000">Energy transfer (meV)</text>
<text transform="translate(351.3,364.7) rotate(-90)" font-size="23.3" text-anchor="middle">Intensity (a.u.)</text>
<text x="661.50" y="357.00" font-size="17.90" text-anchor="start" fill="#d20000">0.9</text>
<text x="661.50" y="374.50" font-size="17.90" text-anchor="start" fill="#d78c00">0.8</text>
<text x="661.50" y="393.00" font-size="17.90" text-anchor="start" fill="#9b9b00">0.7</text>
<text x="661.50" y="410.50" font-size="17.90" text-anchor="start" fill="#009600">0.6</text>
<text x="536.5" y="437.5" font-size="17.6" fill="#0a40f5">0.4 Å<tspan font-size="12.5" dy="-11" dx="1">-1</tspan></text>
<text x="604.00" y="437.50" font-size="17.60" text-anchor="start" fill="#00aaff">0.5</text>
<text x="325.8" y="270.4" font-size="25.7" font-weight="bold">c</text>
</svg>
</body></html>
